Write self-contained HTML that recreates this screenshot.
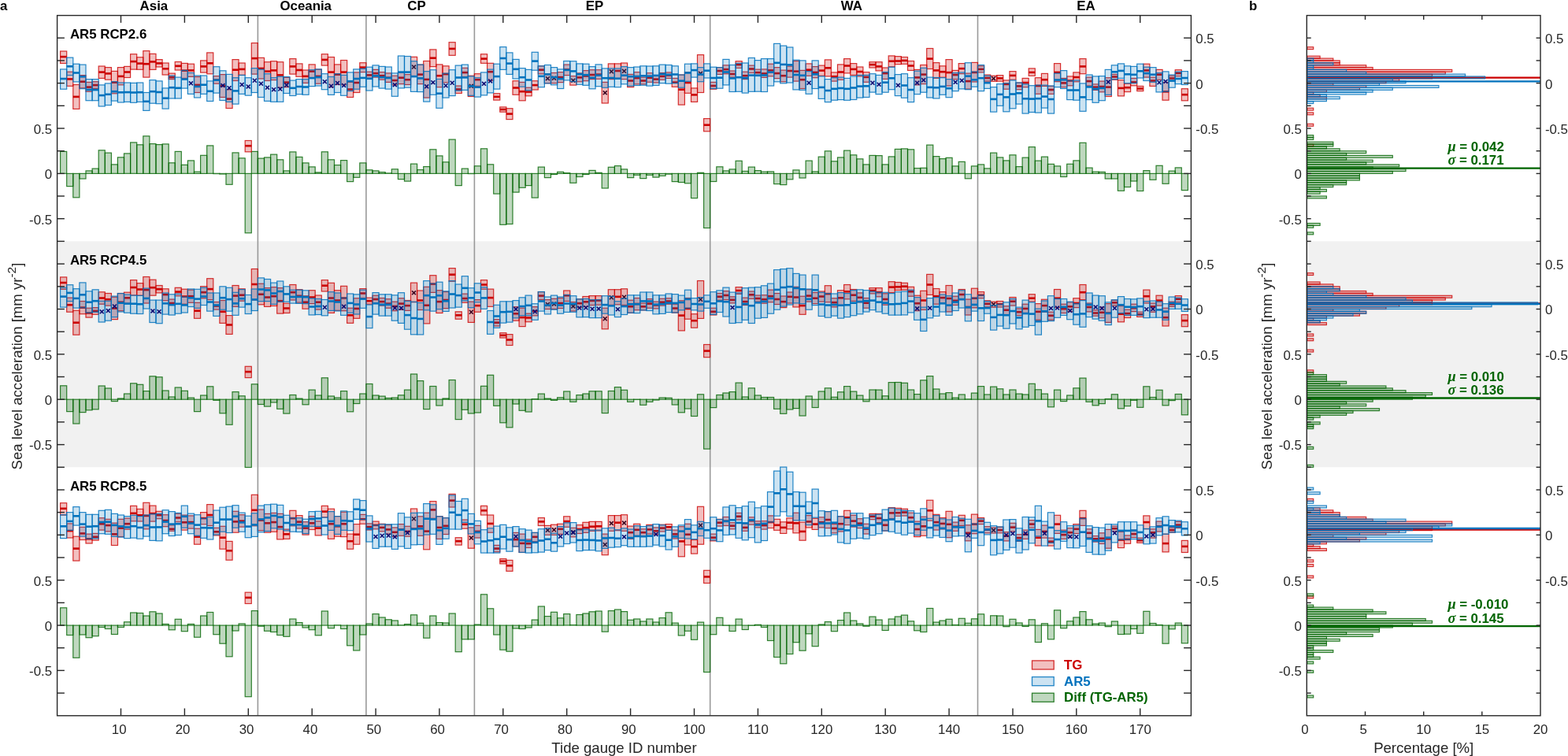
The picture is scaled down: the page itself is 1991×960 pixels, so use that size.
<!DOCTYPE html>
<html lang="en"><head><meta charset="utf-8"><title>Sea level acceleration: tide gauges vs AR5</title>
<style>html,body{margin:0;padding:0;background:#fff}body{width:1991px;height:960px;overflow:hidden}svg{display:block}</style>
</head><body>
<svg width="1991" height="960" viewBox="0 0 1991 960" font-family="'Liberation Sans', Arial, Helvetica, sans-serif">
<rect x="0" y="0" width="1991" height="960" fill="#fff"/>
<rect x="72.6" y="306.4" width="1439.8" height="286.9" fill="#f1f1f1"/>
<rect x="1659.3" y="306.4" width="294.7" height="286.9" fill="#f1f1f1"/>
<line x1="327.4" y1="19.6" x2="327.4" y2="908.8" stroke="#999999" stroke-width="1.6"/>
<line x1="464.9" y1="19.6" x2="464.9" y2="908.8" stroke="#999999" stroke-width="1.6"/>
<line x1="602.4" y1="19.6" x2="602.4" y2="908.8" stroke="#999999" stroke-width="1.6"/>
<line x1="901.7" y1="19.6" x2="901.7" y2="908.8" stroke="#999999" stroke-width="1.6"/>
<line x1="1241.5" y1="19.6" x2="1241.5" y2="908.8" stroke="#999999" stroke-width="1.6"/>
<g fill="rgba(0,100,0,0.25)" stroke="rgba(0,100,0,0.80)" stroke-width="1.2">
<rect x="76.6" y="192.4" width="8.1" height="27.9"/>
<rect x="84.7" y="220.4" width="8.1" height="16.2"/>
<rect x="92.8" y="220.4" width="8.1" height="30.4"/>
<rect x="100.9" y="220.4" width="8.1" height="6.6"/>
<rect x="109" y="216.9" width="8.1" height="3.4"/>
<rect x="117.1" y="214.1" width="8.1" height="6.3"/>
<rect x="125.2" y="190.8" width="8.1" height="29.6"/>
<rect x="133.3" y="194.1" width="8.1" height="26.3"/>
<rect x="141.4" y="208.9" width="8.1" height="11.4"/>
<rect x="149.4" y="199.8" width="8.1" height="20.6"/>
<rect x="157.5" y="194.9" width="8.1" height="25.4"/>
<rect x="165.6" y="180.9" width="8.1" height="39.4"/>
<rect x="173.7" y="183.8" width="8.1" height="36.6"/>
<rect x="181.8" y="172.8" width="8.1" height="47.6"/>
<rect x="189.9" y="182.6" width="8.1" height="37.8"/>
<rect x="198" y="183.6" width="8.1" height="36.8"/>
<rect x="206.1" y="182.9" width="8.1" height="37.4"/>
<rect x="214.2" y="206.8" width="8.1" height="13.6"/>
<rect x="222.2" y="192.4" width="8.1" height="27.9"/>
<rect x="230.3" y="209.4" width="8.1" height="10.9"/>
<rect x="238.4" y="203.9" width="8.1" height="16.4"/>
<rect x="246.5" y="218.1" width="8.1" height="2.3"/>
<rect x="254.6" y="197.3" width="8.1" height="23.1"/>
<rect x="262.7" y="184.9" width="8.1" height="35.4"/>
<rect x="270.8" y="220.3" width="8.1" height="0.3"/>
<rect x="278.9" y="220.4" width="8.1" height="0.6"/>
<rect x="287" y="220.4" width="8.1" height="13.9"/>
<rect x="295" y="193.9" width="8.1" height="26.4"/>
<rect x="303.1" y="200.8" width="8.1" height="19.6"/>
<rect x="311.2" y="220.4" width="8.1" height="75.4"/>
<rect x="319.3" y="192.4" width="8.1" height="27.9"/>
<rect x="327.4" y="201.1" width="8.1" height="19.3"/>
<rect x="335.5" y="199.9" width="8.1" height="20.4"/>
<rect x="343.6" y="196.1" width="8.1" height="24.3"/>
<rect x="351.7" y="202.8" width="8.1" height="17.6"/>
<rect x="359.8" y="216.9" width="8.1" height="3.4"/>
<rect x="367.8" y="192.9" width="8.1" height="27.4"/>
<rect x="375.9" y="199.4" width="8.1" height="20.9"/>
<rect x="384" y="206.9" width="8.1" height="13.4"/>
<rect x="392.1" y="211.9" width="8.1" height="8.4"/>
<rect x="400.2" y="218.9" width="8.1" height="1.4"/>
<rect x="408.3" y="192.8" width="8.1" height="27.6"/>
<rect x="416.4" y="202.8" width="8.1" height="17.6"/>
<rect x="424.5" y="209.6" width="8.1" height="10.8"/>
<rect x="432.6" y="203.6" width="8.1" height="16.8"/>
<rect x="440.6" y="220.4" width="8.1" height="10.2"/>
<rect x="448.7" y="220.4" width="8.1" height="4.9"/>
<rect x="456.8" y="206.9" width="8.1" height="13.4"/>
<rect x="464.9" y="215.8" width="8.1" height="4.6"/>
<rect x="473" y="216.9" width="8.1" height="3.4"/>
<rect x="481.1" y="218.6" width="8.1" height="1.8"/>
<rect x="489.2" y="219.9" width="8.1" height="0.4"/>
<rect x="497.3" y="214.8" width="8.1" height="5.6"/>
<rect x="505.4" y="220.4" width="8.1" height="7.2"/>
<rect x="513.5" y="220.4" width="8.1" height="9.7"/>
<rect x="521.5" y="208.1" width="8.1" height="12.3"/>
<rect x="529.6" y="215.6" width="8.1" height="4.8"/>
<rect x="537.7" y="211.6" width="8.1" height="8.8"/>
<rect x="545.8" y="189.8" width="8.1" height="30.6"/>
<rect x="553.9" y="197.9" width="8.1" height="22.4"/>
<rect x="562" y="205.8" width="8.1" height="14.6"/>
<rect x="570.1" y="177.1" width="8.1" height="43.3"/>
<rect x="578.2" y="220.4" width="8.1" height="15.2"/>
<rect x="586.3" y="214.1" width="8.1" height="6.3"/>
<rect x="594.3" y="220.3" width="8.1" height="0.3"/>
<rect x="602.4" y="210.8" width="8.1" height="9.6"/>
<rect x="610.5" y="188.8" width="8.1" height="31.6"/>
<rect x="618.6" y="208.8" width="8.1" height="11.6"/>
<rect x="626.7" y="220.4" width="8.1" height="25.7"/>
<rect x="634.8" y="220.4" width="8.1" height="64.9"/>
<rect x="642.9" y="220.4" width="8.1" height="64.1"/>
<rect x="651" y="220.4" width="8.1" height="23.7"/>
<rect x="659.1" y="220.4" width="8.1" height="17.9"/>
<rect x="667.1" y="220.4" width="8.1" height="15.2"/>
<rect x="675.2" y="220.4" width="8.1" height="30.7"/>
<rect x="683.3" y="212.1" width="8.1" height="8.3"/>
<rect x="691.4" y="220.4" width="8.1" height="5.2"/>
<rect x="699.5" y="220.4" width="8.1" height="1.1"/>
<rect x="707.6" y="218.3" width="8.1" height="2.1"/>
<rect x="715.7" y="219.6" width="8.1" height="0.8"/>
<rect x="723.8" y="220.4" width="8.1" height="11.9"/>
<rect x="731.9" y="220.4" width="8.1" height="4.1"/>
<rect x="739.9" y="220.4" width="8.1" height="1.1"/>
<rect x="748" y="216.4" width="8.1" height="3.9"/>
<rect x="756.1" y="219.3" width="8.1" height="1.1"/>
<rect x="764.2" y="220.4" width="8.1" height="18.6"/>
<rect x="772.3" y="212.3" width="8.1" height="8.1"/>
<rect x="780.4" y="210.6" width="8.1" height="9.8"/>
<rect x="788.5" y="214.9" width="8.1" height="5.4"/>
<rect x="796.6" y="220.4" width="8.1" height="5.2"/>
<rect x="804.7" y="220.4" width="8.1" height="1.9"/>
<rect x="812.7" y="220.4" width="8.1" height="6.2"/>
<rect x="820.8" y="220.4" width="8.1" height="1.9"/>
<rect x="828.9" y="220.4" width="8.1" height="4.7"/>
<rect x="837" y="220.4" width="8.1" height="2.9"/>
<rect x="845.1" y="220.4" width="8.1" height="0.7"/>
<rect x="853.2" y="220.4" width="8.1" height="10.2"/>
<rect x="861.3" y="220.4" width="8.1" height="11.1"/>
<rect x="869.4" y="220.4" width="8.1" height="12.4"/>
<rect x="877.5" y="220.4" width="8.1" height="31.2"/>
<rect x="885.5" y="219.3" width="8.1" height="1.1"/>
<rect x="893.6" y="220.4" width="8.1" height="69.1"/>
<rect x="901.7" y="220.4" width="8.1" height="10.1"/>
<rect x="909.8" y="211.8" width="8.1" height="8.6"/>
<rect x="917.9" y="216.9" width="8.1" height="3.4"/>
<rect x="926" y="214.9" width="8.1" height="5.4"/>
<rect x="934.1" y="204.3" width="8.1" height="16.1"/>
<rect x="942.2" y="217.4" width="8.1" height="2.9"/>
<rect x="950.3" y="212.1" width="8.1" height="8.3"/>
<rect x="958.3" y="216.6" width="8.1" height="3.8"/>
<rect x="966.4" y="218.1" width="8.1" height="2.3"/>
<rect x="974.5" y="217.9" width="8.1" height="2.4"/>
<rect x="982.6" y="220.4" width="8.1" height="13.2"/>
<rect x="990.7" y="220.4" width="8.1" height="14.2"/>
<rect x="998.8" y="220.4" width="8.1" height="7.4"/>
<rect x="1006.9" y="215.9" width="8.1" height="4.4"/>
<rect x="1015" y="220.4" width="8.1" height="5.6"/>
<rect x="1023.1" y="204.1" width="8.1" height="16.3"/>
<rect x="1031.1" y="217.9" width="8.1" height="2.4"/>
<rect x="1039.2" y="199.1" width="8.1" height="21.3"/>
<rect x="1047.3" y="191.8" width="8.1" height="28.6"/>
<rect x="1055.4" y="204.8" width="8.1" height="15.6"/>
<rect x="1063.5" y="199.9" width="8.1" height="20.4"/>
<rect x="1071.6" y="191.1" width="8.1" height="29.3"/>
<rect x="1079.7" y="196.8" width="8.1" height="23.6"/>
<rect x="1087.8" y="201.8" width="8.1" height="18.6"/>
<rect x="1095.9" y="208.9" width="8.1" height="11.4"/>
<rect x="1103.9" y="197.4" width="8.1" height="22.9"/>
<rect x="1112" y="197.6" width="8.1" height="22.8"/>
<rect x="1120.1" y="208.9" width="8.1" height="11.4"/>
<rect x="1128.2" y="198.9" width="8.1" height="21.4"/>
<rect x="1136.3" y="189.4" width="8.1" height="30.9"/>
<rect x="1144.4" y="188.9" width="8.1" height="31.4"/>
<rect x="1152.5" y="189.8" width="8.1" height="30.6"/>
<rect x="1160.6" y="213.6" width="8.1" height="6.8"/>
<rect x="1168.7" y="213.3" width="8.1" height="7.1"/>
<rect x="1176.7" y="184.1" width="8.1" height="36.3"/>
<rect x="1184.8" y="198.6" width="8.1" height="21.8"/>
<rect x="1192.9" y="201.6" width="8.1" height="18.8"/>
<rect x="1201" y="200.3" width="8.1" height="20.1"/>
<rect x="1209.1" y="210.9" width="8.1" height="9.4"/>
<rect x="1217.2" y="205.4" width="8.1" height="14.9"/>
<rect x="1225.3" y="220.4" width="8.1" height="6.4"/>
<rect x="1233.4" y="210.9" width="8.1" height="9.4"/>
<rect x="1241.5" y="208.9" width="8.1" height="11.4"/>
<rect x="1249.5" y="213.9" width="8.1" height="6.4"/>
<rect x="1257.6" y="194.1" width="8.1" height="26.3"/>
<rect x="1265.7" y="199.9" width="8.1" height="20.4"/>
<rect x="1273.8" y="203.9" width="8.1" height="16.4"/>
<rect x="1281.9" y="196.8" width="8.1" height="23.6"/>
<rect x="1290" y="211.6" width="8.1" height="8.8"/>
<rect x="1298.1" y="200.1" width="8.1" height="20.3"/>
<rect x="1306.2" y="186.6" width="8.1" height="33.8"/>
<rect x="1314.3" y="204.1" width="8.1" height="16.3"/>
<rect x="1322.4" y="199.1" width="8.1" height="21.3"/>
<rect x="1330.4" y="208.4" width="8.1" height="11.9"/>
<rect x="1338.5" y="210.9" width="8.1" height="9.4"/>
<rect x="1346.6" y="220.4" width="8.1" height="4.1"/>
<rect x="1354.7" y="208.3" width="8.1" height="12.1"/>
<rect x="1362.8" y="203.9" width="8.1" height="16.4"/>
<rect x="1370.9" y="181.3" width="8.1" height="39.1"/>
<rect x="1379" y="213.1" width="8.1" height="7.3"/>
<rect x="1387.1" y="218.1" width="8.1" height="2.3"/>
<rect x="1395.2" y="218.4" width="8.1" height="1.9"/>
<rect x="1403.2" y="220.4" width="8.1" height="6.6"/>
<rect x="1411.3" y="220.4" width="8.1" height="6.6"/>
<rect x="1419.4" y="220.4" width="8.1" height="21.9"/>
<rect x="1427.5" y="220.4" width="8.1" height="17.1"/>
<rect x="1435.6" y="220.4" width="8.1" height="9.6"/>
<rect x="1443.7" y="220.4" width="8.1" height="22.1"/>
<rect x="1451.8" y="216.6" width="8.1" height="3.8"/>
<rect x="1459.9" y="220.4" width="8.1" height="7.9"/>
<rect x="1468" y="210.3" width="8.1" height="10.1"/>
<rect x="1476" y="220.4" width="8.1" height="12.9"/>
<rect x="1484.1" y="217.1" width="8.1" height="3.3"/>
<rect x="1492.2" y="212.9" width="8.1" height="7.4"/>
<rect x="1500.3" y="220.4" width="8.1" height="21.2"/>
</g>
<g fill="rgba(204,0,0,0.25)" stroke="rgba(204,0,0,0.80)" stroke-width="1.2">
<rect x="76.6" y="65" width="8.1" height="15.4"/>
<rect x="84.7" y="91.2" width="8.1" height="18.1"/>
<rect x="92.8" y="107.5" width="8.1" height="30.9"/>
<rect x="100.9" y="95.6" width="8.1" height="16.2"/>
<rect x="109" y="104.4" width="8.1" height="11.9"/>
<rect x="117.1" y="103.7" width="8.1" height="8.7"/>
<rect x="125.2" y="84" width="8.1" height="15.4"/>
<rect x="133.3" y="85.6" width="8.1" height="15.6"/>
<rect x="141.4" y="90.4" width="8.1" height="28.4"/>
<rect x="149.4" y="85.6" width="8.1" height="22.2"/>
<rect x="157.5" y="84.4" width="8.1" height="14.1"/>
<rect x="165.6" y="68.7" width="8.1" height="19.4"/>
<rect x="173.7" y="72.7" width="8.1" height="15.6"/>
<rect x="181.8" y="64.6" width="8.1" height="33.5"/>
<rect x="189.9" y="68.4" width="8.1" height="20"/>
<rect x="198" y="75.6" width="8.1" height="9.4"/>
<rect x="206.1" y="80" width="8.1" height="15"/>
<rect x="214.2" y="93.1" width="8.1" height="7.5"/>
<rect x="222.2" y="78.5" width="8.1" height="10.5"/>
<rect x="230.3" y="80.4" width="8.1" height="19"/>
<rect x="238.4" y="81.2" width="8.1" height="16.2"/>
<rect x="246.5" y="97.5" width="8.1" height="20"/>
<rect x="254.6" y="76.9" width="8.1" height="15.2"/>
<rect x="262.7" y="66.9" width="8.1" height="26.9"/>
<rect x="270.8" y="96.6" width="8.1" height="9.6"/>
<rect x="278.9" y="94.6" width="8.1" height="28.9"/>
<rect x="287" y="113.7" width="8.1" height="23.8"/>
<rect x="295" y="75.6" width="8.1" height="26.9"/>
<rect x="303.1" y="80" width="8.1" height="15.4"/>
<rect x="311.2" y="178.5" width="8.1" height="14.3"/>
<rect x="319.3" y="54.6" width="8.1" height="39.5"/>
<rect x="327.4" y="73.4" width="8.1" height="26.6"/>
<rect x="335.5" y="78.7" width="8.1" height="23.8"/>
<rect x="343.6" y="77.7" width="8.1" height="23.9"/>
<rect x="351.7" y="78.7" width="8.1" height="32.5"/>
<rect x="359.8" y="98.4" width="8.1" height="12.3"/>
<rect x="367.8" y="74.6" width="8.1" height="19.5"/>
<rect x="375.9" y="80.9" width="8.1" height="16.4"/>
<rect x="384" y="89" width="8.1" height="16.4"/>
<rect x="392.1" y="81.9" width="8.1" height="16.9"/>
<rect x="400.2" y="88.1" width="8.1" height="18.1"/>
<rect x="408.3" y="68.7" width="8.1" height="14.4"/>
<rect x="416.4" y="72.5" width="8.1" height="38.1"/>
<rect x="424.5" y="81.9" width="8.1" height="25.6"/>
<rect x="432.6" y="76.5" width="8.1" height="31.4"/>
<rect x="440.6" y="104.4" width="8.1" height="19.1"/>
<rect x="448.7" y="91.9" width="8.1" height="25.6"/>
<rect x="456.8" y="79.7" width="8.1" height="11.9"/>
<rect x="464.9" y="91.2" width="8.1" height="8.1"/>
<rect x="473" y="88.4" width="8.1" height="9.7"/>
<rect x="481.1" y="91.6" width="8.1" height="9.6"/>
<rect x="489.2" y="92.9" width="8.1" height="11.5"/>
<rect x="497.3" y="96.2" width="8.1" height="11.6"/>
<rect x="505.4" y="91.9" width="8.1" height="14.7"/>
<rect x="513.5" y="94.6" width="8.1" height="12.9"/>
<rect x="521.5" y="72.3" width="8.1" height="24.6"/>
<rect x="529.6" y="82.1" width="8.1" height="24.5"/>
<rect x="537.7" y="77.5" width="8.1" height="46.6"/>
<rect x="545.8" y="62.9" width="8.1" height="21.7"/>
<rect x="553.9" y="81.9" width="8.1" height="28.8"/>
<rect x="562" y="83.8" width="8.1" height="21"/>
<rect x="570.1" y="53.7" width="8.1" height="16.6"/>
<rect x="578.2" y="109" width="8.1" height="9.4"/>
<rect x="586.3" y="86.3" width="8.1" height="11.2"/>
<rect x="594.3" y="96.2" width="8.1" height="26.3"/>
<rect x="602.4" y="93.7" width="8.1" height="15.6"/>
<rect x="610.5" y="68.7" width="8.1" height="11.6"/>
<rect x="618.6" y="80.3" width="8.1" height="22.2"/>
<rect x="626.7" y="118.7" width="8.1" height="8.4"/>
<rect x="634.8" y="135.9" width="8.1" height="6.3"/>
<rect x="642.9" y="137.7" width="8.1" height="13.9"/>
<rect x="651" y="102.7" width="8.1" height="17.6"/>
<rect x="659.1" y="104.4" width="8.1" height="23.4"/>
<rect x="667.1" y="111.2" width="8.1" height="10.6"/>
<rect x="675.2" y="102.7" width="8.1" height="11.3"/>
<rect x="683.3" y="83.8" width="8.1" height="10"/>
<rect x="691.4" y="93.7" width="8.1" height="11.9"/>
<rect x="699.5" y="92.5" width="8.1" height="13.1"/>
<rect x="707.6" y="91.6" width="8.1" height="13"/>
<rect x="715.7" y="82.1" width="8.1" height="13.5"/>
<rect x="723.8" y="96.6" width="8.1" height="11.5"/>
<rect x="731.9" y="92.9" width="8.1" height="10.9"/>
<rect x="739.9" y="89.6" width="8.1" height="13.1"/>
<rect x="748" y="88.7" width="8.1" height="11.9"/>
<rect x="756.1" y="88.7" width="8.1" height="11.6"/>
<rect x="764.2" y="104.4" width="8.1" height="26.6"/>
<rect x="772.3" y="80.9" width="8.1" height="19.7"/>
<rect x="780.4" y="80.9" width="8.1" height="19.1"/>
<rect x="788.5" y="80" width="8.1" height="20.6"/>
<rect x="796.6" y="94.4" width="8.1" height="16.2"/>
<rect x="804.7" y="91.6" width="8.1" height="15.2"/>
<rect x="812.7" y="98.1" width="8.1" height="8.8"/>
<rect x="820.8" y="92.7" width="8.1" height="11.6"/>
<rect x="828.9" y="96.2" width="8.1" height="8.8"/>
<rect x="837" y="92.5" width="8.1" height="8.8"/>
<rect x="845.1" y="91.9" width="8.1" height="7.5"/>
<rect x="853.2" y="99.4" width="8.1" height="10.9"/>
<rect x="861.3" y="95" width="8.1" height="38.1"/>
<rect x="869.4" y="91.6" width="8.1" height="26.7"/>
<rect x="877.5" y="111.9" width="8.1" height="17.5"/>
<rect x="885.5" y="69.6" width="8.1" height="47.9"/>
<rect x="893.6" y="150.6" width="8.1" height="16.2"/>
<rect x="901.7" y="104.4" width="8.1" height="8.8"/>
<rect x="909.8" y="85.6" width="8.1" height="8.8"/>
<rect x="917.9" y="82.8" width="8.1" height="11"/>
<rect x="926" y="90" width="8.1" height="8.1"/>
<rect x="934.1" y="77.7" width="8.1" height="8.7"/>
<rect x="942.2" y="91.2" width="8.1" height="9.4"/>
<rect x="950.3" y="83.1" width="8.1" height="9.4"/>
<rect x="958.3" y="88.1" width="8.1" height="8.1"/>
<rect x="966.4" y="87.9" width="8.1" height="10.5"/>
<rect x="974.5" y="81.2" width="8.1" height="15.6"/>
<rect x="982.6" y="85.6" width="8.1" height="14"/>
<rect x="990.7" y="89.1" width="8.1" height="14.6"/>
<rect x="998.8" y="84.1" width="8.1" height="14"/>
<rect x="1006.9" y="77.5" width="8.1" height="25.6"/>
<rect x="1015" y="89.4" width="8.1" height="23.1"/>
<rect x="1023.1" y="80.9" width="8.1" height="15.4"/>
<rect x="1031.1" y="84.6" width="8.1" height="14.1"/>
<rect x="1039.2" y="83.1" width="8.1" height="13.1"/>
<rect x="1047.3" y="75.9" width="8.1" height="21"/>
<rect x="1055.4" y="91.9" width="8.1" height="11.2"/>
<rect x="1063.5" y="81.9" width="8.1" height="19.4"/>
<rect x="1071.6" y="74.6" width="8.1" height="18.3"/>
<rect x="1079.7" y="80.6" width="8.1" height="14.8"/>
<rect x="1087.8" y="85" width="8.1" height="11.9"/>
<rect x="1095.9" y="91.6" width="8.1" height="12.7"/>
<rect x="1103.9" y="78.7" width="8.1" height="7.3"/>
<rect x="1112" y="78.7" width="8.1" height="11.2"/>
<rect x="1120.1" y="86" width="8.1" height="14.4"/>
<rect x="1128.2" y="70.9" width="8.1" height="13.9"/>
<rect x="1136.3" y="71.6" width="8.1" height="10"/>
<rect x="1144.4" y="72.5" width="8.1" height="8.8"/>
<rect x="1152.5" y="77.5" width="8.1" height="11.9"/>
<rect x="1160.6" y="88.4" width="8.1" height="19.5"/>
<rect x="1168.7" y="82.5" width="8.1" height="24.1"/>
<rect x="1176.7" y="61.5" width="8.1" height="26"/>
<rect x="1184.8" y="79.6" width="8.1" height="19.7"/>
<rect x="1192.9" y="83.8" width="8.1" height="14.4"/>
<rect x="1201" y="75.6" width="8.1" height="33.4"/>
<rect x="1209.1" y="89.4" width="8.1" height="11.2"/>
<rect x="1217.2" y="80.6" width="8.1" height="13.1"/>
<rect x="1225.3" y="93.1" width="8.1" height="20"/>
<rect x="1233.4" y="79.4" width="8.1" height="24.6"/>
<rect x="1241.5" y="83.8" width="8.1" height="8.1"/>
<rect x="1249.5" y="95" width="8.1" height="8.1"/>
<rect x="1257.6" y="96.2" width="8.1" height="7.1"/>
<rect x="1265.7" y="95.6" width="8.1" height="7.5"/>
<rect x="1273.8" y="101.9" width="8.1" height="11.3"/>
<rect x="1281.9" y="90.6" width="8.1" height="10.6"/>
<rect x="1290" y="105" width="8.1" height="8.7"/>
<rect x="1298.1" y="99.4" width="8.1" height="11.3"/>
<rect x="1306.2" y="86.9" width="8.1" height="9.4"/>
<rect x="1314.3" y="98.7" width="8.1" height="20.6"/>
<rect x="1322.4" y="93.4" width="8.1" height="16"/>
<rect x="1330.4" y="109.4" width="8.1" height="10"/>
<rect x="1338.5" y="80.6" width="8.1" height="23.1"/>
<rect x="1346.6" y="99.4" width="8.1" height="11.3"/>
<rect x="1354.7" y="96.9" width="8.1" height="11.9"/>
<rect x="1362.8" y="91.9" width="8.1" height="11.9"/>
<rect x="1370.9" y="74.6" width="8.1" height="19.1"/>
<rect x="1379" y="98.1" width="8.1" height="10.9"/>
<rect x="1387.1" y="106.9" width="8.1" height="7.5"/>
<rect x="1395.2" y="103.1" width="8.1" height="13.7"/>
<rect x="1403.2" y="98.7" width="8.1" height="23.8"/>
<rect x="1411.3" y="94.4" width="8.1" height="6.9"/>
<rect x="1419.4" y="101.6" width="8.1" height="20.3"/>
<rect x="1427.5" y="106.2" width="8.1" height="10.4"/>
<rect x="1435.6" y="99.4" width="8.1" height="9.4"/>
<rect x="1443.7" y="109.4" width="8.1" height="6.2"/>
<rect x="1451.8" y="81.2" width="8.1" height="16.9"/>
<rect x="1459.9" y="98.1" width="8.1" height="11.3"/>
<rect x="1468" y="88.4" width="8.1" height="12.9"/>
<rect x="1476" y="104.4" width="8.1" height="22.8"/>
<rect x="1484.1" y="96.2" width="8.1" height="6.3"/>
<rect x="1492.2" y="88.7" width="8.1" height="8.1"/>
<rect x="1500.3" y="112.7" width="8.1" height="15.1"/>
</g>
<g stroke="rgb(204,0,0)" stroke-width="2.6">
<line x1="76.6" y1="72.1" x2="84.7" y2="72.1"/>
<line x1="84.7" y1="100.4" x2="92.8" y2="100.4"/>
<line x1="92.8" y1="122.9" x2="100.9" y2="122.9"/>
<line x1="100.9" y1="103.7" x2="109" y2="103.7"/>
<line x1="109" y1="110.6" x2="117.1" y2="110.6"/>
<line x1="117.1" y1="108.1" x2="125.2" y2="108.1"/>
<line x1="125.2" y1="91.6" x2="133.3" y2="91.6"/>
<line x1="133.3" y1="93.4" x2="141.4" y2="93.4"/>
<line x1="141.4" y1="104.6" x2="149.4" y2="104.6"/>
<line x1="149.4" y1="96.9" x2="157.5" y2="96.9"/>
<line x1="157.5" y1="91.5" x2="165.6" y2="91.5"/>
<line x1="165.6" y1="78.1" x2="173.7" y2="78.1"/>
<line x1="173.7" y1="80.6" x2="181.8" y2="80.6"/>
<line x1="181.8" y1="81.2" x2="189.9" y2="81.2"/>
<line x1="189.9" y1="78.4" x2="198" y2="78.4"/>
<line x1="198" y1="80.4" x2="206.1" y2="80.4"/>
<line x1="206.1" y1="87.3" x2="214.2" y2="87.3"/>
<line x1="214.2" y1="98.1" x2="222.2" y2="98.1"/>
<line x1="222.2" y1="83.8" x2="230.3" y2="83.8"/>
<line x1="230.3" y1="89.6" x2="238.4" y2="89.6"/>
<line x1="238.4" y1="89.4" x2="246.5" y2="89.4"/>
<line x1="246.5" y1="107.9" x2="254.6" y2="107.9"/>
<line x1="254.6" y1="84.4" x2="262.7" y2="84.4"/>
<line x1="262.7" y1="80.3" x2="270.8" y2="80.3"/>
<line x1="270.8" y1="101.6" x2="278.9" y2="101.6"/>
<line x1="278.9" y1="109" x2="287" y2="109"/>
<line x1="287" y1="125.6" x2="295" y2="125.6"/>
<line x1="295" y1="88.7" x2="303.1" y2="88.7"/>
<line x1="303.1" y1="87.9" x2="311.2" y2="87.9"/>
<line x1="311.2" y1="185.2" x2="319.3" y2="185.2"/>
<line x1="319.3" y1="74.1" x2="327.4" y2="74.1"/>
<line x1="327.4" y1="86.9" x2="335.5" y2="86.9"/>
<line x1="335.5" y1="90.6" x2="343.6" y2="90.6"/>
<line x1="343.6" y1="89.4" x2="351.7" y2="89.4"/>
<line x1="351.7" y1="95.4" x2="359.8" y2="95.4"/>
<line x1="359.8" y1="104.6" x2="367.8" y2="104.6"/>
<line x1="367.8" y1="84.4" x2="375.9" y2="84.4"/>
<line x1="375.9" y1="89" x2="384" y2="89"/>
<line x1="384" y1="96.9" x2="392.1" y2="96.9"/>
<line x1="392.1" y1="90.6" x2="400.2" y2="90.6"/>
<line x1="400.2" y1="96.9" x2="408.3" y2="96.9"/>
<line x1="408.3" y1="75.9" x2="416.4" y2="75.9"/>
<line x1="416.4" y1="91.6" x2="424.5" y2="91.6"/>
<line x1="424.5" y1="94.6" x2="432.6" y2="94.6"/>
<line x1="432.6" y1="91.6" x2="440.6" y2="91.6"/>
<line x1="440.6" y1="113.5" x2="448.7" y2="113.5"/>
<line x1="448.7" y1="105" x2="456.8" y2="105"/>
<line x1="456.8" y1="85.6" x2="464.9" y2="85.6"/>
<line x1="464.9" y1="95.4" x2="473" y2="95.4"/>
<line x1="473" y1="93.1" x2="481.1" y2="93.1"/>
<line x1="481.1" y1="96.2" x2="489.2" y2="96.2"/>
<line x1="489.2" y1="98.7" x2="497.3" y2="98.7"/>
<line x1="497.3" y1="102.1" x2="505.4" y2="102.1"/>
<line x1="505.4" y1="98.7" x2="513.5" y2="98.7"/>
<line x1="513.5" y1="101.2" x2="521.5" y2="101.2"/>
<line x1="529.6" y1="94.6" x2="537.7" y2="94.6"/>
<line x1="537.7" y1="100.9" x2="545.8" y2="100.9"/>
<line x1="545.8" y1="73.7" x2="553.9" y2="73.7"/>
<line x1="553.9" y1="96.2" x2="562" y2="96.2"/>
<line x1="562" y1="94.1" x2="570.1" y2="94.1"/>
<line x1="570.1" y1="61.9" x2="578.2" y2="61.9"/>
<line x1="578.2" y1="113.5" x2="586.3" y2="113.5"/>
<line x1="586.3" y1="92.1" x2="594.3" y2="92.1"/>
<line x1="602.4" y1="101.2" x2="610.5" y2="101.2"/>
<line x1="610.5" y1="74.6" x2="618.6" y2="74.6"/>
<line x1="618.6" y1="91.2" x2="626.7" y2="91.2"/>
<line x1="626.7" y1="122.9" x2="634.8" y2="122.9"/>
<line x1="634.8" y1="139" x2="642.9" y2="139"/>
<line x1="642.9" y1="144.6" x2="651" y2="144.6"/>
<line x1="651" y1="111.5" x2="659.1" y2="111.5"/>
<line x1="659.1" y1="116.2" x2="667.1" y2="116.2"/>
<line x1="667.1" y1="116.6" x2="675.2" y2="116.6"/>
<line x1="675.2" y1="108.1" x2="683.3" y2="108.1"/>
<line x1="683.3" y1="88.7" x2="691.4" y2="88.7"/>
<line x1="707.6" y1="98.1" x2="715.7" y2="98.1"/>
<line x1="715.7" y1="88.4" x2="723.8" y2="88.4"/>
<line x1="731.9" y1="98.4" x2="739.9" y2="98.4"/>
<line x1="739.9" y1="96.5" x2="748" y2="96.5"/>
<line x1="748" y1="95" x2="756.1" y2="95"/>
<line x1="756.1" y1="94.6" x2="764.2" y2="94.6"/>
<line x1="780.4" y1="90" x2="788.5" y2="90"/>
<line x1="796.6" y1="102.5" x2="804.7" y2="102.5"/>
<line x1="804.7" y1="99.1" x2="812.7" y2="99.1"/>
<line x1="812.7" y1="102.5" x2="820.8" y2="102.5"/>
<line x1="820.8" y1="98.7" x2="828.9" y2="98.7"/>
<line x1="828.9" y1="100.6" x2="837" y2="100.6"/>
<line x1="837" y1="96.9" x2="845.1" y2="96.9"/>
<line x1="845.1" y1="95.6" x2="853.2" y2="95.6"/>
<line x1="853.2" y1="104.6" x2="861.3" y2="104.6"/>
<line x1="861.3" y1="113.7" x2="869.4" y2="113.7"/>
<line x1="869.4" y1="105" x2="877.5" y2="105"/>
<line x1="877.5" y1="120.4" x2="885.5" y2="120.4"/>
<line x1="893.6" y1="158.7" x2="901.7" y2="158.7"/>
<line x1="901.7" y1="109" x2="909.8" y2="109"/>
<line x1="909.8" y1="90" x2="917.9" y2="90"/>
<line x1="917.9" y1="88.1" x2="926" y2="88.1"/>
<line x1="926" y1="94" x2="934.1" y2="94"/>
<line x1="934.1" y1="82.1" x2="942.2" y2="82.1"/>
<line x1="942.2" y1="96.2" x2="950.3" y2="96.2"/>
<line x1="950.3" y1="87.5" x2="958.3" y2="87.5"/>
<line x1="958.3" y1="92.1" x2="966.4" y2="92.1"/>
<line x1="966.4" y1="93.4" x2="974.5" y2="93.4"/>
<line x1="974.5" y1="89.4" x2="982.6" y2="89.4"/>
<line x1="982.6" y1="93.1" x2="990.7" y2="93.1"/>
<line x1="990.7" y1="96.2" x2="998.8" y2="96.2"/>
<line x1="998.8" y1="90" x2="1006.9" y2="90"/>
<line x1="1006.9" y1="90.6" x2="1015" y2="90.6"/>
<line x1="1015" y1="101.2" x2="1023.1" y2="101.2"/>
<line x1="1023.1" y1="88.7" x2="1031.1" y2="88.7"/>
<line x1="1031.1" y1="91.9" x2="1039.2" y2="91.9"/>
<line x1="1039.2" y1="89.6" x2="1047.3" y2="89.6"/>
<line x1="1047.3" y1="86.3" x2="1055.4" y2="86.3"/>
<line x1="1055.4" y1="97.2" x2="1063.5" y2="97.2"/>
<line x1="1063.5" y1="91.5" x2="1071.6" y2="91.5"/>
<line x1="1071.6" y1="83.5" x2="1079.7" y2="83.5"/>
<line x1="1079.7" y1="87.9" x2="1087.8" y2="87.9"/>
<line x1="1087.8" y1="91" x2="1095.9" y2="91"/>
<line x1="1095.9" y1="97.9" x2="1103.9" y2="97.9"/>
<line x1="1103.9" y1="82.1" x2="1112" y2="82.1"/>
<line x1="1112" y1="84.4" x2="1120.1" y2="84.4"/>
<line x1="1120.1" y1="93.1" x2="1128.2" y2="93.1"/>
<line x1="1128.2" y1="77.7" x2="1136.3" y2="77.7"/>
<line x1="1136.3" y1="77.5" x2="1144.4" y2="77.5"/>
<line x1="1144.4" y1="76.9" x2="1152.5" y2="76.9"/>
<line x1="1152.5" y1="83.5" x2="1160.6" y2="83.5"/>
<line x1="1160.6" y1="98.4" x2="1168.7" y2="98.4"/>
<line x1="1168.7" y1="94.6" x2="1176.7" y2="94.6"/>
<line x1="1176.7" y1="74.6" x2="1184.8" y2="74.6"/>
<line x1="1184.8" y1="89.4" x2="1192.9" y2="89.4"/>
<line x1="1192.9" y1="91.2" x2="1201" y2="91.2"/>
<line x1="1201" y1="92.1" x2="1209.1" y2="92.1"/>
<line x1="1209.1" y1="95" x2="1217.2" y2="95"/>
<line x1="1217.2" y1="87.1" x2="1225.3" y2="87.1"/>
<line x1="1225.3" y1="103.1" x2="1233.4" y2="103.1"/>
<line x1="1233.4" y1="91.9" x2="1241.5" y2="91.9"/>
<line x1="1241.5" y1="87.9" x2="1249.5" y2="87.9"/>
<line x1="1249.5" y1="99" x2="1257.6" y2="99"/>
<line x1="1265.7" y1="99.4" x2="1273.8" y2="99.4"/>
<line x1="1273.8" y1="106.9" x2="1281.9" y2="106.9"/>
<line x1="1281.9" y1="95.9" x2="1290" y2="95.9"/>
<line x1="1290" y1="109.4" x2="1298.1" y2="109.4"/>
<line x1="1298.1" y1="105" x2="1306.2" y2="105"/>
<line x1="1306.2" y1="91.9" x2="1314.3" y2="91.9"/>
<line x1="1314.3" y1="109" x2="1322.4" y2="109"/>
<line x1="1322.4" y1="101.2" x2="1330.4" y2="101.2"/>
<line x1="1330.4" y1="114" x2="1338.5" y2="114"/>
<line x1="1338.5" y1="91.9" x2="1346.6" y2="91.9"/>
<line x1="1346.6" y1="105.4" x2="1354.7" y2="105.4"/>
<line x1="1354.7" y1="102.5" x2="1362.8" y2="102.5"/>
<line x1="1362.8" y1="98.1" x2="1370.9" y2="98.1"/>
<line x1="1370.9" y1="84.4" x2="1379" y2="84.4"/>
<line x1="1379" y1="103.1" x2="1387.1" y2="103.1"/>
<line x1="1387.1" y1="110.6" x2="1395.2" y2="110.6"/>
<line x1="1395.2" y1="110" x2="1403.2" y2="110"/>
<line x1="1403.2" y1="110.6" x2="1411.3" y2="110.6"/>
<line x1="1411.3" y1="97.5" x2="1419.4" y2="97.5"/>
<line x1="1419.4" y1="111.9" x2="1427.5" y2="111.9"/>
<line x1="1427.5" y1="111.2" x2="1435.6" y2="111.2"/>
<line x1="1435.6" y1="104.4" x2="1443.7" y2="104.4"/>
<line x1="1443.7" y1="112.5" x2="1451.8" y2="112.5"/>
<line x1="1451.8" y1="89.4" x2="1459.9" y2="89.4"/>
<line x1="1459.9" y1="102.5" x2="1468" y2="102.5"/>
<line x1="1468" y1="94.7" x2="1476" y2="94.7"/>
<line x1="1476" y1="116.4" x2="1484.1" y2="116.4"/>
<line x1="1484.1" y1="99.4" x2="1492.2" y2="99.4"/>
<line x1="1492.2" y1="92.9" x2="1500.3" y2="92.9"/>
<line x1="1500.3" y1="120.2" x2="1508.4" y2="120.2"/>
</g>
<g stroke="#3c0420" stroke-width="1.6" fill="none">
<line x1="523.1" y1="82.6" x2="528" y2="87.5"/><line x1="523.1" y1="87.5" x2="528" y2="82.6"/>
<line x1="595.9" y1="106.9" x2="600.8" y2="111.8"/><line x1="595.9" y1="111.8" x2="600.8" y2="106.9"/>
<line x1="693" y1="97.2" x2="697.9" y2="102.1"/><line x1="693" y1="102.1" x2="697.9" y2="97.2"/>
<line x1="701.1" y1="96.7" x2="706" y2="101.6"/><line x1="701.1" y1="101.6" x2="706" y2="96.7"/>
<line x1="725.4" y1="99.7" x2="730.3" y2="104.6"/><line x1="725.4" y1="104.6" x2="730.3" y2="99.7"/>
<line x1="765.8" y1="115.4" x2="770.7" y2="120.3"/><line x1="765.8" y1="120.3" x2="770.7" y2="115.4"/>
<line x1="773.9" y1="88.4" x2="778.8" y2="93.3"/><line x1="773.9" y1="93.3" x2="778.8" y2="88.4"/>
<line x1="790.1" y1="87.9" x2="795" y2="92.8"/><line x1="790.1" y1="92.8" x2="795" y2="87.9"/>
<line x1="887.1" y1="90.9" x2="892" y2="95.8"/><line x1="887.1" y1="95.8" x2="892" y2="90.9"/>
<line x1="1259.2" y1="97.2" x2="1264.1" y2="102.1"/><line x1="1259.2" y1="102.1" x2="1264.1" y2="97.2"/>
</g>
<g fill="rgba(0,114,189,0.20)" stroke="rgba(0,114,189,0.85)" stroke-width="1.2">
<rect x="76.6" y="87.9" width="8.1" height="25.3"/>
<rect x="84.7" y="73.1" width="8.1" height="22.5"/>
<rect x="92.8" y="81.2" width="8.1" height="22.7"/>
<rect x="100.9" y="82.1" width="8.1" height="30.6"/>
<rect x="109" y="100.6" width="8.1" height="27.1"/>
<rect x="117.1" y="100.6" width="8.1" height="27.1"/>
<rect x="125.2" y="107.9" width="8.1" height="27.1"/>
<rect x="133.3" y="105.9" width="8.1" height="27.6"/>
<rect x="141.4" y="103.7" width="8.1" height="24.4"/>
<rect x="149.4" y="105" width="8.1" height="25"/>
<rect x="157.5" y="105" width="8.1" height="24.4"/>
<rect x="165.6" y="105.4" width="8.1" height="24.9"/>
<rect x="173.7" y="105" width="8.1" height="24.4"/>
<rect x="181.8" y="117.5" width="8.1" height="22.9"/>
<rect x="189.9" y="101.6" width="8.1" height="29.6"/>
<rect x="198" y="102.9" width="8.1" height="28.8"/>
<rect x="206.1" y="111.9" width="8.1" height="26.2"/>
<rect x="214.2" y="96" width="8.1" height="29"/>
<rect x="222.2" y="98.1" width="8.1" height="26.9"/>
<rect x="230.3" y="89.4" width="8.1" height="22.7"/>
<rect x="238.4" y="92.5" width="8.1" height="26.9"/>
<rect x="246.5" y="96" width="8.1" height="28"/>
<rect x="254.6" y="96" width="8.1" height="23.4"/>
<rect x="262.7" y="102.9" width="8.1" height="25.6"/>
<rect x="270.8" y="84.7" width="8.1" height="33.4"/>
<rect x="278.9" y="89.8" width="8.1" height="37.7"/>
<rect x="287" y="94.4" width="8.1" height="35"/>
<rect x="295" y="98.7" width="8.1" height="33.4"/>
<rect x="303.1" y="95.4" width="8.1" height="24"/>
<rect x="311.2" y="98.7" width="8.1" height="22.5"/>
<rect x="319.3" y="86.6" width="8.1" height="30.9"/>
<rect x="327.4" y="88.1" width="8.1" height="35.4"/>
<rect x="335.5" y="93.7" width="8.1" height="34.7"/>
<rect x="343.6" y="98.7" width="8.1" height="30.6"/>
<rect x="351.7" y="97.2" width="8.1" height="32.1"/>
<rect x="359.8" y="97.5" width="8.1" height="21"/>
<rect x="367.8" y="102.1" width="8.1" height="19.4"/>
<rect x="375.9" y="100.6" width="8.1" height="19.1"/>
<rect x="384" y="100.6" width="8.1" height="19.7"/>
<rect x="392.1" y="88.7" width="8.1" height="20.9"/>
<rect x="400.2" y="87.9" width="8.1" height="21.1"/>
<rect x="408.3" y="93.7" width="8.1" height="20"/>
<rect x="416.4" y="97.5" width="8.1" height="22.9"/>
<rect x="424.5" y="93.7" width="8.1" height="23.8"/>
<rect x="432.6" y="95.4" width="8.1" height="25.9"/>
<rect x="440.6" y="91.9" width="8.1" height="23.7"/>
<rect x="448.7" y="87.9" width="8.1" height="25.3"/>
<rect x="456.8" y="87.3" width="8.1" height="23"/>
<rect x="464.9" y="85.2" width="8.1" height="29.8"/>
<rect x="473" y="82.9" width="8.1" height="27.1"/>
<rect x="481.1" y="84.4" width="8.1" height="27.7"/>
<rect x="489.2" y="85" width="8.1" height="28.1"/>
<rect x="497.3" y="92.9" width="8.1" height="29.4"/>
<rect x="505.4" y="71" width="8.1" height="40.9"/>
<rect x="513.5" y="71.5" width="8.1" height="39.7"/>
<rect x="521.5" y="77.7" width="8.1" height="38.7"/>
<rect x="529.6" y="82.1" width="8.1" height="34.5"/>
<rect x="537.7" y="90.6" width="8.1" height="38.5"/>
<rect x="545.8" y="88.7" width="8.1" height="31.6"/>
<rect x="553.9" y="100.4" width="8.1" height="36.9"/>
<rect x="562" y="93.1" width="8.1" height="31"/>
<rect x="570.1" y="88.7" width="8.1" height="32.9"/>
<rect x="578.2" y="83.1" width="8.1" height="32.1"/>
<rect x="586.3" y="82.1" width="8.1" height="32.3"/>
<rect x="594.3" y="96.9" width="8.1" height="24.4"/>
<rect x="602.4" y="98.7" width="8.1" height="24.4"/>
<rect x="610.5" y="91.9" width="8.1" height="29"/>
<rect x="618.6" y="88.1" width="8.1" height="29.8"/>
<rect x="626.7" y="81.2" width="8.1" height="31.9"/>
<rect x="634.8" y="59.6" width="8.1" height="28.8"/>
<rect x="642.9" y="66.9" width="8.1" height="27.5"/>
<rect x="651" y="75.4" width="8.1" height="24.6"/>
<rect x="659.1" y="86.6" width="8.1" height="23.6"/>
<rect x="667.1" y="88.4" width="8.1" height="26.4"/>
<rect x="675.2" y="66.3" width="8.1" height="22.9"/>
<rect x="683.3" y="83.8" width="8.1" height="26.9"/>
<rect x="691.4" y="82.5" width="8.1" height="23.4"/>
<rect x="699.5" y="85.6" width="8.1" height="22.2"/>
<rect x="707.6" y="87.9" width="8.1" height="24.6"/>
<rect x="715.7" y="77.5" width="8.1" height="24.4"/>
<rect x="723.8" y="77.7" width="8.1" height="26"/>
<rect x="731.9" y="80.9" width="8.1" height="26.4"/>
<rect x="739.9" y="81.2" width="8.1" height="27.1"/>
<rect x="748" y="84.6" width="8.1" height="28.2"/>
<rect x="756.1" y="81.9" width="8.1" height="27.8"/>
<rect x="764.2" y="86.9" width="8.1" height="24.4"/>
<rect x="772.3" y="86.9" width="8.1" height="23.4"/>
<rect x="780.4" y="86.9" width="8.1" height="23.8"/>
<rect x="788.5" y="84.6" width="8.1" height="22.2"/>
<rect x="796.6" y="85.6" width="8.1" height="23.5"/>
<rect x="804.7" y="85" width="8.1" height="23.5"/>
<rect x="812.7" y="83.8" width="8.1" height="24.4"/>
<rect x="820.8" y="84" width="8.1" height="25.1"/>
<rect x="828.9" y="83.8" width="8.1" height="24.6"/>
<rect x="837" y="82.1" width="8.1" height="23.5"/>
<rect x="845.1" y="82.5" width="8.1" height="23.7"/>
<rect x="853.2" y="83.8" width="8.1" height="21.9"/>
<rect x="861.3" y="95" width="8.1" height="16.2"/>
<rect x="869.4" y="81.2" width="8.1" height="22.1"/>
<rect x="877.5" y="80.9" width="8.1" height="17.2"/>
<rect x="885.5" y="85.6" width="8.1" height="18.1"/>
<rect x="893.6" y="80.9" width="8.1" height="18.1"/>
<rect x="901.7" y="85.2" width="8.1" height="27.3"/>
<rect x="909.8" y="85.6" width="8.1" height="26.6"/>
<rect x="917.9" y="75.4" width="8.1" height="32.5"/>
<rect x="926" y="82.5" width="8.1" height="34"/>
<rect x="934.1" y="80.3" width="8.1" height="36"/>
<rect x="942.2" y="80" width="8.1" height="38.1"/>
<rect x="950.3" y="73.5" width="8.1" height="42.8"/>
<rect x="958.3" y="76.6" width="8.1" height="39.6"/>
<rect x="966.4" y="74.6" width="8.1" height="41.9"/>
<rect x="974.5" y="74.6" width="8.1" height="34.4"/>
<rect x="982.6" y="55.4" width="8.1" height="48.4"/>
<rect x="990.7" y="58.1" width="8.1" height="47.7"/>
<rect x="998.8" y="60" width="8.1" height="45"/>
<rect x="1006.9" y="76.2" width="8.1" height="37.7"/>
<rect x="1015" y="76.9" width="8.1" height="37.5"/>
<rect x="1023.1" y="90.6" width="8.1" height="28.7"/>
<rect x="1031.1" y="76.9" width="8.1" height="35.6"/>
<rect x="1039.2" y="96.9" width="8.1" height="28.5"/>
<rect x="1047.3" y="100.6" width="8.1" height="29"/>
<rect x="1055.4" y="98.7" width="8.1" height="28.5"/>
<rect x="1063.5" y="98.1" width="8.1" height="28.5"/>
<rect x="1071.6" y="99.4" width="8.1" height="27.9"/>
<rect x="1079.7" y="96.9" width="8.1" height="29.6"/>
<rect x="1087.8" y="95.4" width="8.1" height="28.7"/>
<rect x="1095.9" y="95.4" width="8.1" height="28.1"/>
<rect x="1103.9" y="93.7" width="8.1" height="23.4"/>
<rect x="1112" y="95.4" width="8.1" height="24.2"/>
<rect x="1120.1" y="91.5" width="8.1" height="25.7"/>
<rect x="1128.2" y="85.2" width="8.1" height="28.5"/>
<rect x="1136.3" y="94.6" width="8.1" height="27"/>
<rect x="1144.4" y="93.7" width="8.1" height="30.6"/>
<rect x="1152.5" y="98.7" width="8.1" height="30.9"/>
<rect x="1160.6" y="90.2" width="8.1" height="29.4"/>
<rect x="1168.7" y="86.3" width="8.1" height="30.9"/>
<rect x="1176.7" y="98.1" width="8.1" height="25.9"/>
<rect x="1184.8" y="98.5" width="8.1" height="26.5"/>
<rect x="1192.9" y="98.7" width="8.1" height="21.6"/>
<rect x="1201" y="100.6" width="8.1" height="23.1"/>
<rect x="1209.1" y="92.5" width="8.1" height="23.1"/>
<rect x="1217.2" y="91.9" width="8.1" height="21"/>
<rect x="1225.3" y="79.7" width="8.1" height="34"/>
<rect x="1233.4" y="91.2" width="8.1" height="19"/>
<rect x="1241.5" y="82.5" width="8.1" height="33.1"/>
<rect x="1249.5" y="96.2" width="8.1" height="16.2"/>
<rect x="1257.6" y="110.6" width="8.1" height="31.5"/>
<rect x="1265.7" y="106.6" width="8.1" height="27.7"/>
<rect x="1273.8" y="105.6" width="8.1" height="36.2"/>
<rect x="1281.9" y="101.9" width="8.1" height="35.9"/>
<rect x="1290" y="105" width="8.1" height="27.1"/>
<rect x="1298.1" y="106.9" width="8.1" height="37.2"/>
<rect x="1306.2" y="108.7" width="8.1" height="33.8"/>
<rect x="1314.3" y="108.1" width="8.1" height="35"/>
<rect x="1322.4" y="108.1" width="8.1" height="29"/>
<rect x="1330.4" y="109" width="8.1" height="35.1"/>
<rect x="1338.5" y="93.1" width="8.1" height="17.5"/>
<rect x="1346.6" y="89.6" width="8.1" height="22.9"/>
<rect x="1354.7" y="102.5" width="8.1" height="24.1"/>
<rect x="1362.8" y="101.9" width="8.1" height="25.3"/>
<rect x="1370.9" y="105.9" width="8.1" height="35.4"/>
<rect x="1379" y="95" width="8.1" height="31.6"/>
<rect x="1387.1" y="96.9" width="8.1" height="33.4"/>
<rect x="1395.2" y="96.6" width="8.1" height="31.1"/>
<rect x="1403.2" y="88.4" width="8.1" height="32"/>
<rect x="1411.3" y="82.8" width="8.1" height="17.9"/>
<rect x="1419.4" y="80.9" width="8.1" height="18.5"/>
<rect x="1427.5" y="83.8" width="8.1" height="21.9"/>
<rect x="1435.6" y="84.4" width="8.1" height="21.2"/>
<rect x="1443.7" y="81.2" width="8.1" height="17.8"/>
<rect x="1451.8" y="85.2" width="8.1" height="17.3"/>
<rect x="1459.9" y="85.6" width="8.1" height="18.7"/>
<rect x="1468" y="92.5" width="8.1" height="24.4"/>
<rect x="1476" y="90.9" width="8.1" height="25.4"/>
<rect x="1484.1" y="95" width="8.1" height="16.2"/>
<rect x="1492.2" y="91.2" width="8.1" height="15.4"/>
<rect x="1500.3" y="90.6" width="8.1" height="16.9"/>
</g>
<g stroke="rgb(0,114,189)" stroke-width="2.6">
<line x1="76.6" y1="100" x2="84.7" y2="100"/>
<line x1="84.7" y1="84.3" x2="92.8" y2="84.3"/>
<line x1="92.8" y1="92.5" x2="100.9" y2="92.5"/>
<line x1="100.9" y1="97.3" x2="109" y2="97.3"/>
<line x1="109" y1="113.9" x2="117.1" y2="113.9"/>
<line x1="117.1" y1="114.1" x2="125.2" y2="114.1"/>
<line x1="125.2" y1="121.1" x2="133.3" y2="121.1"/>
<line x1="133.3" y1="119.8" x2="141.4" y2="119.8"/>
<line x1="141.4" y1="116.2" x2="149.4" y2="116.2"/>
<line x1="149.4" y1="117.3" x2="157.5" y2="117.3"/>
<line x1="157.5" y1="117.1" x2="165.6" y2="117.1"/>
<line x1="165.6" y1="117.5" x2="173.7" y2="117.5"/>
<line x1="173.7" y1="117.2" x2="181.8" y2="117.2"/>
<line x1="181.8" y1="128.8" x2="189.9" y2="128.8"/>
<line x1="189.9" y1="116.2" x2="198" y2="116.2"/>
<line x1="198" y1="117" x2="206.1" y2="117"/>
<line x1="206.1" y1="124.7" x2="214.2" y2="124.7"/>
<line x1="214.2" y1="111.2" x2="222.2" y2="111.2"/>
<line x1="222.2" y1="111.8" x2="230.3" y2="111.8"/>
<line x1="230.3" y1="100.6" x2="238.4" y2="100.6"/>
<line x1="246.5" y1="109.9" x2="254.6" y2="109.9"/>
<line x1="254.6" y1="107.7" x2="262.7" y2="107.7"/>
<line x1="262.7" y1="115.8" x2="270.8" y2="115.8"/>
<line x1="270.8" y1="101.7" x2="278.9" y2="101.7"/>
<line x1="295" y1="115.4" x2="303.1" y2="115.4"/>
<line x1="367.8" y1="111.8" x2="375.9" y2="111.8"/>
<line x1="375.9" y1="110" x2="384" y2="110"/>
<line x1="384" y1="110.5" x2="392.1" y2="110.5"/>
<line x1="392.1" y1="99.1" x2="400.2" y2="99.1"/>
<line x1="400.2" y1="98.1" x2="408.3" y2="98.1"/>
<line x1="440.6" y1="103.2" x2="448.7" y2="103.2"/>
<line x1="448.7" y1="100" x2="456.8" y2="100"/>
<line x1="456.8" y1="98.9" x2="464.9" y2="98.9"/>
<line x1="464.9" y1="99.8" x2="473" y2="99.8"/>
<line x1="473" y1="96.4" x2="481.1" y2="96.4"/>
<line x1="481.1" y1="98.1" x2="489.2" y2="98.1"/>
<line x1="489.2" y1="99" x2="497.3" y2="99"/>
<line x1="505.4" y1="91.6" x2="513.5" y2="91.6"/>
<line x1="513.5" y1="91.6" x2="521.5" y2="91.6"/>
<line x1="521.5" y1="97.1" x2="529.6" y2="97.1"/>
<line x1="529.6" y1="99.4" x2="537.7" y2="99.4"/>
<line x1="553.9" y1="118.7" x2="562" y2="118.7"/>
<line x1="578.2" y1="98.5" x2="586.3" y2="98.5"/>
<line x1="586.3" y1="98.4" x2="594.3" y2="98.4"/>
<line x1="594.3" y1="109.4" x2="602.4" y2="109.4"/>
<line x1="602.4" y1="110.7" x2="610.5" y2="110.7"/>
<line x1="626.7" y1="97.1" x2="634.8" y2="97.1"/>
<line x1="634.8" y1="74" x2="642.9" y2="74"/>
<line x1="642.9" y1="80.6" x2="651" y2="80.6"/>
<line x1="651" y1="87.8" x2="659.1" y2="87.8"/>
<line x1="659.1" y1="98.2" x2="667.1" y2="98.2"/>
<line x1="667.1" y1="101.5" x2="675.2" y2="101.5"/>
<line x1="675.2" y1="77.6" x2="683.3" y2="77.6"/>
<line x1="683.3" y1="96.8" x2="691.4" y2="96.8"/>
<line x1="691.4" y1="94.4" x2="699.5" y2="94.4"/>
<line x1="699.5" y1="98.1" x2="707.6" y2="98.1"/>
<line x1="707.6" y1="100.1" x2="715.7" y2="100.1"/>
<line x1="715.7" y1="88.9" x2="723.8" y2="88.9"/>
<line x1="723.8" y1="90.4" x2="731.9" y2="90.4"/>
<line x1="731.9" y1="94.2" x2="739.9" y2="94.2"/>
<line x1="739.9" y1="95.2" x2="748" y2="95.2"/>
<line x1="748" y1="98.8" x2="756.1" y2="98.8"/>
<line x1="756.1" y1="95.7" x2="764.2" y2="95.7"/>
<line x1="764.2" y1="99.2" x2="772.3" y2="99.2"/>
<line x1="772.3" y1="99" x2="780.4" y2="99"/>
<line x1="780.4" y1="99.7" x2="788.5" y2="99.7"/>
<line x1="788.5" y1="95.7" x2="796.6" y2="95.7"/>
<line x1="796.6" y1="97.2" x2="804.7" y2="97.2"/>
<line x1="804.7" y1="97" x2="812.7" y2="97"/>
<line x1="812.7" y1="96.3" x2="820.8" y2="96.3"/>
<line x1="820.8" y1="96.7" x2="828.9" y2="96.7"/>
<line x1="828.9" y1="95.9" x2="837" y2="95.9"/>
<line x1="837" y1="94" x2="845.1" y2="94"/>
<line x1="845.1" y1="94.8" x2="853.2" y2="94.8"/>
<line x1="853.2" y1="94.5" x2="861.3" y2="94.5"/>
<line x1="861.3" y1="102.7" x2="869.4" y2="102.7"/>
<line x1="869.4" y1="92.5" x2="877.5" y2="92.5"/>
<line x1="877.5" y1="89.1" x2="885.5" y2="89.1"/>
<line x1="885.5" y1="94.5" x2="893.6" y2="94.5"/>
<line x1="893.6" y1="89.7" x2="901.7" y2="89.7"/>
<line x1="901.7" y1="99" x2="909.8" y2="99"/>
<line x1="909.8" y1="98.7" x2="917.9" y2="98.7"/>
<line x1="917.9" y1="91.5" x2="926" y2="91.5"/>
<line x1="926" y1="99.4" x2="934.1" y2="99.4"/>
<line x1="934.1" y1="98.2" x2="942.2" y2="98.2"/>
<line x1="942.2" y1="99.1" x2="950.3" y2="99.1"/>
<line x1="950.3" y1="95.6" x2="958.3" y2="95.6"/>
<line x1="958.3" y1="95.8" x2="966.4" y2="95.8"/>
<line x1="966.4" y1="95.5" x2="974.5" y2="95.5"/>
<line x1="974.5" y1="91.7" x2="982.6" y2="91.7"/>
<line x1="982.6" y1="79.8" x2="990.7" y2="79.8"/>
<line x1="990.7" y1="81.9" x2="998.8" y2="81.9"/>
<line x1="998.8" y1="82.4" x2="1006.9" y2="82.4"/>
<line x1="1006.9" y1="95" x2="1015" y2="95"/>
<line x1="1015" y1="95.8" x2="1023.1" y2="95.8"/>
<line x1="1031.1" y1="94.3" x2="1039.2" y2="94.3"/>
<line x1="1039.2" y1="110.9" x2="1047.3" y2="110.9"/>
<line x1="1047.3" y1="115" x2="1055.4" y2="115"/>
<line x1="1055.4" y1="112.8" x2="1063.5" y2="112.8"/>
<line x1="1063.5" y1="112" x2="1071.6" y2="112"/>
<line x1="1071.6" y1="112.8" x2="1079.7" y2="112.8"/>
<line x1="1079.7" y1="111.5" x2="1087.8" y2="111.5"/>
<line x1="1087.8" y1="109.6" x2="1095.9" y2="109.6"/>
<line x1="1095.9" y1="109.3" x2="1103.9" y2="109.3"/>
<line x1="1120.1" y1="104.7" x2="1128.2" y2="104.7"/>
<line x1="1128.2" y1="99.3" x2="1136.3" y2="99.3"/>
<line x1="1144.4" y1="108.5" x2="1152.5" y2="108.5"/>
<line x1="1152.5" y1="114" x2="1160.6" y2="114"/>
<line x1="1176.7" y1="110.9" x2="1184.8" y2="110.9"/>
<line x1="1184.8" y1="111.3" x2="1192.9" y2="111.3"/>
<line x1="1192.9" y1="109.9" x2="1201" y2="109.9"/>
<line x1="1201" y1="112.2" x2="1209.1" y2="112.2"/>
<line x1="1225.3" y1="96.7" x2="1233.4" y2="96.7"/>
<line x1="1233.4" y1="101.3" x2="1241.5" y2="101.3"/>
<line x1="1241.5" y1="99.2" x2="1249.5" y2="99.2"/>
<line x1="1249.5" y1="105.2" x2="1257.6" y2="105.2"/>
<line x1="1257.6" y1="125.9" x2="1265.7" y2="125.9"/>
<line x1="1265.7" y1="119.9" x2="1273.8" y2="119.9"/>
<line x1="1273.8" y1="123.4" x2="1281.9" y2="123.4"/>
<line x1="1281.9" y1="119.5" x2="1290" y2="119.5"/>
<line x1="1290" y1="118.3" x2="1298.1" y2="118.3"/>
<line x1="1298.1" y1="125.3" x2="1306.2" y2="125.3"/>
<line x1="1306.2" y1="125.6" x2="1314.3" y2="125.6"/>
<line x1="1314.3" y1="125.2" x2="1322.4" y2="125.2"/>
<line x1="1322.4" y1="122.6" x2="1330.4" y2="122.6"/>
<line x1="1330.4" y1="126" x2="1338.5" y2="126"/>
<line x1="1338.5" y1="101.5" x2="1346.6" y2="101.5"/>
<line x1="1346.6" y1="101.3" x2="1354.7" y2="101.3"/>
<line x1="1354.7" y1="114.5" x2="1362.8" y2="114.5"/>
<line x1="1362.8" y1="114.5" x2="1370.9" y2="114.5"/>
<line x1="1370.9" y1="123.4" x2="1379" y2="123.4"/>
<line x1="1379" y1="110.4" x2="1387.1" y2="110.4"/>
<line x1="1387.1" y1="112.9" x2="1395.2" y2="112.9"/>
<line x1="1395.2" y1="111.9" x2="1403.2" y2="111.9"/>
<line x1="1411.3" y1="91.3" x2="1419.4" y2="91.3"/>
<line x1="1419.4" y1="89.9" x2="1427.5" y2="89.9"/>
<line x1="1427.5" y1="94.3" x2="1435.6" y2="94.3"/>
<line x1="1435.6" y1="94.8" x2="1443.7" y2="94.8"/>
<line x1="1443.7" y1="90.3" x2="1451.8" y2="90.3"/>
<line x1="1451.8" y1="93.1" x2="1459.9" y2="93.1"/>
<line x1="1459.9" y1="94.7" x2="1468" y2="94.7"/>
<line x1="1484.1" y1="102.6" x2="1492.2" y2="102.6"/>
<line x1="1492.2" y1="100" x2="1500.3" y2="100"/>
<line x1="1500.3" y1="99" x2="1508.4" y2="99"/>
</g>
<g stroke="#0c0c74" stroke-width="1.6" fill="none">
<line x1="240" y1="103.4" x2="244.9" y2="108.3"/><line x1="240" y1="108.3" x2="244.9" y2="103.4"/>
<line x1="280.5" y1="106.1" x2="285.4" y2="111"/><line x1="280.5" y1="111" x2="285.4" y2="106.1"/>
<line x1="288.6" y1="109.2" x2="293.5" y2="114.1"/><line x1="288.6" y1="114.1" x2="293.5" y2="109.2"/>
<line x1="304.7" y1="105" x2="309.6" y2="109.9"/><line x1="304.7" y1="109.9" x2="309.6" y2="105"/>
<line x1="312.8" y1="107.5" x2="317.7" y2="112.4"/><line x1="312.8" y1="112.4" x2="317.7" y2="107.5"/>
<line x1="320.9" y1="99.8" x2="325.8" y2="104.7"/><line x1="320.9" y1="104.7" x2="325.8" y2="99.8"/>
<line x1="329" y1="103.7" x2="333.9" y2="108.6"/><line x1="329" y1="108.6" x2="333.9" y2="103.7"/>
<line x1="337.1" y1="108.7" x2="342" y2="113.6"/><line x1="337.1" y1="113.6" x2="342" y2="108.7"/>
<line x1="345.2" y1="111.2" x2="350.1" y2="116.1"/><line x1="345.2" y1="116.1" x2="350.1" y2="111.2"/>
<line x1="353.3" y1="110.6" x2="358.2" y2="115.5"/><line x1="353.3" y1="115.5" x2="358.2" y2="110.6"/>
<line x1="361.4" y1="105.6" x2="366.3" y2="110.5"/><line x1="361.4" y1="110.5" x2="366.3" y2="105.6"/>
<line x1="409.9" y1="101.2" x2="414.8" y2="106.1"/><line x1="409.9" y1="106.1" x2="414.8" y2="101.2"/>
<line x1="418" y1="106.7" x2="422.9" y2="111.6"/><line x1="418" y1="111.6" x2="422.9" y2="106.7"/>
<line x1="426.1" y1="103" x2="431" y2="107.9"/><line x1="426.1" y1="107.9" x2="431" y2="103"/>
<line x1="434.2" y1="106" x2="439.1" y2="110.9"/><line x1="434.2" y1="110.9" x2="439.1" y2="106"/>
<line x1="498.9" y1="105.2" x2="503.8" y2="110.1"/><line x1="498.9" y1="110.1" x2="503.8" y2="105.2"/>
<line x1="539.3" y1="107.4" x2="544.2" y2="112.3"/><line x1="539.3" y1="112.3" x2="544.2" y2="107.4"/>
<line x1="547.4" y1="102.2" x2="552.3" y2="107.1"/><line x1="547.4" y1="107.1" x2="552.3" y2="102.2"/>
<line x1="563.6" y1="106.3" x2="568.5" y2="111.2"/><line x1="563.6" y1="111.2" x2="568.5" y2="106.3"/>
<line x1="571.7" y1="102.8" x2="576.6" y2="107.7"/><line x1="571.7" y1="107.7" x2="576.6" y2="102.8"/>
<line x1="612.1" y1="103.9" x2="617" y2="108.8"/><line x1="612.1" y1="108.8" x2="617" y2="103.9"/>
<line x1="620.2" y1="100.5" x2="625.1" y2="105.4"/><line x1="620.2" y1="105.4" x2="625.1" y2="100.5"/>
<line x1="1024.7" y1="102.7" x2="1029.6" y2="107.6"/><line x1="1024.7" y1="107.6" x2="1029.6" y2="102.7"/>
<line x1="1105.5" y1="102.8" x2="1110.4" y2="107.7"/><line x1="1105.5" y1="107.7" x2="1110.4" y2="102.8"/>
<line x1="1113.6" y1="104.7" x2="1118.5" y2="109.6"/><line x1="1113.6" y1="109.6" x2="1118.5" y2="104.7"/>
<line x1="1137.9" y1="105.9" x2="1142.8" y2="110.8"/><line x1="1137.9" y1="110.8" x2="1142.8" y2="105.9"/>
<line x1="1162.2" y1="102.7" x2="1167.1" y2="107.6"/><line x1="1162.2" y1="107.6" x2="1167.1" y2="102.7"/>
<line x1="1170.3" y1="99.3" x2="1175.2" y2="104.2"/><line x1="1170.3" y1="104.2" x2="1175.2" y2="99.3"/>
<line x1="1210.7" y1="101.9" x2="1215.6" y2="106.8"/><line x1="1210.7" y1="106.8" x2="1215.6" y2="101.9"/>
<line x1="1218.8" y1="99.7" x2="1223.7" y2="104.6"/><line x1="1218.8" y1="104.6" x2="1223.7" y2="99.7"/>
<line x1="1404.8" y1="101.6" x2="1409.7" y2="106.5"/><line x1="1404.8" y1="106.5" x2="1409.7" y2="101.6"/>
<line x1="1469.5" y1="102.3" x2="1474.4" y2="107.2"/><line x1="1469.5" y1="107.2" x2="1474.4" y2="102.3"/>
<line x1="1477.6" y1="101" x2="1482.5" y2="105.9"/><line x1="1477.6" y1="105.9" x2="1482.5" y2="101"/>
</g>
<g fill="rgba(0,100,0,0.25)" stroke="rgba(0,100,0,0.80)" stroke-width="1.2">
<rect x="76.6" y="489.8" width="8.1" height="17.4"/>
<rect x="84.7" y="507.2" width="8.1" height="15.4"/>
<rect x="92.8" y="507.2" width="8.1" height="30.8"/>
<rect x="100.9" y="507.2" width="8.1" height="16.4"/>
<rect x="109" y="507.2" width="8.1" height="13.6"/>
<rect x="117.1" y="507.2" width="8.1" height="12.6"/>
<rect x="125.2" y="490" width="8.1" height="17.2"/>
<rect x="133.3" y="493" width="8.1" height="14.2"/>
<rect x="141.4" y="507.2" width="8.1" height="2.4"/>
<rect x="149.4" y="506" width="8.1" height="1.2"/>
<rect x="157.5" y="500" width="8.1" height="7.2"/>
<rect x="165.6" y="486.8" width="8.1" height="20.4"/>
<rect x="173.7" y="488.3" width="8.1" height="18.9"/>
<rect x="181.8" y="496.6" width="8.1" height="10.6"/>
<rect x="189.9" y="477.8" width="8.1" height="29.4"/>
<rect x="198" y="478.8" width="8.1" height="28.4"/>
<rect x="206.1" y="496" width="8.1" height="11.2"/>
<rect x="214.2" y="504" width="8.1" height="3.2"/>
<rect x="222.2" y="492" width="8.1" height="15.2"/>
<rect x="230.3" y="496.3" width="8.1" height="10.9"/>
<rect x="238.4" y="505.1" width="8.1" height="2.1"/>
<rect x="246.5" y="507.2" width="8.1" height="15.4"/>
<rect x="254.6" y="502" width="8.1" height="5.2"/>
<rect x="262.7" y="490.8" width="8.1" height="16.4"/>
<rect x="270.8" y="507.2" width="8.1" height="1.1"/>
<rect x="278.9" y="507.2" width="8.1" height="17.6"/>
<rect x="287" y="507.2" width="8.1" height="32.1"/>
<rect x="295" y="497.6" width="8.1" height="9.6"/>
<rect x="303.1" y="502.8" width="8.1" height="4.4"/>
<rect x="311.2" y="507.2" width="8.1" height="86.3"/>
<rect x="319.3" y="487.8" width="8.1" height="19.4"/>
<rect x="327.4" y="507.2" width="8.1" height="6.3"/>
<rect x="335.5" y="507.2" width="8.1" height="8.9"/>
<rect x="343.6" y="507.2" width="8.1" height="3.8"/>
<rect x="351.7" y="507.2" width="8.1" height="12.1"/>
<rect x="359.8" y="507.2" width="8.1" height="17.9"/>
<rect x="367.8" y="501.5" width="8.1" height="5.7"/>
<rect x="375.9" y="506.1" width="8.1" height="1.1"/>
<rect x="384" y="507.2" width="8.1" height="6.6"/>
<rect x="392.1" y="495.1" width="8.1" height="12.1"/>
<rect x="400.2" y="502" width="8.1" height="5.2"/>
<rect x="408.3" y="479.8" width="8.1" height="27.4"/>
<rect x="416.4" y="503" width="8.1" height="4.2"/>
<rect x="424.5" y="505" width="8.1" height="2.2"/>
<rect x="432.6" y="496.6" width="8.1" height="10.6"/>
<rect x="440.6" y="507.2" width="8.1" height="15.6"/>
<rect x="448.7" y="507.2" width="8.1" height="5.3"/>
<rect x="456.8" y="500" width="8.1" height="7.2"/>
<rect x="464.9" y="487.5" width="8.1" height="19.7"/>
<rect x="473" y="502" width="8.1" height="5.2"/>
<rect x="481.1" y="503.1" width="8.1" height="4.1"/>
<rect x="489.2" y="505.5" width="8.1" height="1.7"/>
<rect x="497.3" y="505" width="8.1" height="2.2"/>
<rect x="505.4" y="501.8" width="8.1" height="5.4"/>
<rect x="513.5" y="495.1" width="8.1" height="12.1"/>
<rect x="521.5" y="475" width="8.1" height="32.2"/>
<rect x="529.6" y="483.6" width="8.1" height="23.6"/>
<rect x="537.7" y="507.2" width="8.1" height="12.4"/>
<rect x="545.8" y="490.5" width="8.1" height="16.7"/>
<rect x="553.9" y="507.2" width="8.1" height="7.8"/>
<rect x="562" y="506" width="8.1" height="1.2"/>
<rect x="570.1" y="482.5" width="8.1" height="24.7"/>
<rect x="578.2" y="507.2" width="8.1" height="25.4"/>
<rect x="586.3" y="507.2" width="8.1" height="13.1"/>
<rect x="594.3" y="507.2" width="8.1" height="17.8"/>
<rect x="602.4" y="507.2" width="8.1" height="16.8"/>
<rect x="610.5" y="490.3" width="8.1" height="16.9"/>
<rect x="618.6" y="476.3" width="8.1" height="30.9"/>
<rect x="626.7" y="507.2" width="8.1" height="8.1"/>
<rect x="634.8" y="507.2" width="8.1" height="29.6"/>
<rect x="642.9" y="507.2" width="8.1" height="35.6"/>
<rect x="651" y="507.2" width="8.1" height="5.8"/>
<rect x="659.1" y="507.2" width="8.1" height="14.1"/>
<rect x="667.1" y="507.2" width="8.1" height="15.8"/>
<rect x="675.2" y="506.6" width="8.1" height="0.6"/>
<rect x="683.3" y="500.1" width="8.1" height="7.1"/>
<rect x="691.4" y="506.1" width="8.1" height="1.1"/>
<rect x="699.5" y="507.2" width="8.1" height="1.1"/>
<rect x="707.6" y="504.8" width="8.1" height="2.4"/>
<rect x="715.7" y="497" width="8.1" height="10.2"/>
<rect x="723.8" y="507.2" width="8.1" height="3.1"/>
<rect x="731.9" y="501.6" width="8.1" height="5.6"/>
<rect x="739.9" y="500" width="8.1" height="7.2"/>
<rect x="748" y="496.8" width="8.1" height="10.4"/>
<rect x="756.1" y="496.8" width="8.1" height="10.4"/>
<rect x="764.2" y="507.2" width="8.1" height="17.4"/>
<rect x="772.3" y="496.5" width="8.1" height="10.7"/>
<rect x="780.4" y="491.6" width="8.1" height="15.6"/>
<rect x="788.5" y="495.3" width="8.1" height="11.9"/>
<rect x="796.6" y="507.2" width="8.1" height="3.1"/>
<rect x="804.7" y="507.1" width="8.1" height="0.3"/>
<rect x="812.7" y="507.2" width="8.1" height="7.1"/>
<rect x="820.8" y="507.2" width="8.1" height="3.1"/>
<rect x="828.9" y="507.2" width="8.1" height="0.8"/>
<rect x="837" y="505" width="8.1" height="2.2"/>
<rect x="845.1" y="505.3" width="8.1" height="1.9"/>
<rect x="853.2" y="507.2" width="8.1" height="6.8"/>
<rect x="861.3" y="507.2" width="8.1" height="16.6"/>
<rect x="869.4" y="507.2" width="8.1" height="11.8"/>
<rect x="877.5" y="507.2" width="8.1" height="21.3"/>
<rect x="885.5" y="500.8" width="8.1" height="6.4"/>
<rect x="893.6" y="507.2" width="8.1" height="62.9"/>
<rect x="901.7" y="507.2" width="8.1" height="10.4"/>
<rect x="909.8" y="501.5" width="8.1" height="5.7"/>
<rect x="917.9" y="499" width="8.1" height="8.2"/>
<rect x="926" y="497.6" width="8.1" height="9.6"/>
<rect x="934.1" y="486.1" width="8.1" height="21.1"/>
<rect x="942.2" y="504" width="8.1" height="3.2"/>
<rect x="950.3" y="492.8" width="8.1" height="14.4"/>
<rect x="958.3" y="502" width="8.1" height="5.2"/>
<rect x="966.4" y="504.5" width="8.1" height="2.7"/>
<rect x="974.5" y="504.5" width="8.1" height="2.7"/>
<rect x="982.6" y="507.2" width="8.1" height="12.1"/>
<rect x="990.7" y="507.2" width="8.1" height="18.1"/>
<rect x="998.8" y="507.2" width="8.1" height="12.8"/>
<rect x="1006.9" y="507.2" width="8.1" height="11.4"/>
<rect x="1015" y="507.2" width="8.1" height="20.8"/>
<rect x="1023.1" y="503" width="8.1" height="4.2"/>
<rect x="1031.1" y="507.2" width="8.1" height="10.3"/>
<rect x="1039.2" y="497" width="8.1" height="10.2"/>
<rect x="1047.3" y="492.8" width="8.1" height="14.4"/>
<rect x="1055.4" y="504.3" width="8.1" height="2.9"/>
<rect x="1063.5" y="497.8" width="8.1" height="9.4"/>
<rect x="1071.6" y="490.6" width="8.1" height="16.6"/>
<rect x="1079.7" y="497.1" width="8.1" height="10.1"/>
<rect x="1087.8" y="502.1" width="8.1" height="5.1"/>
<rect x="1095.9" y="507.2" width="8.1" height="2.6"/>
<rect x="1103.9" y="495" width="8.1" height="12.2"/>
<rect x="1112" y="495.1" width="8.1" height="12.1"/>
<rect x="1120.1" y="502.8" width="8.1" height="4.4"/>
<rect x="1128.2" y="485.6" width="8.1" height="21.6"/>
<rect x="1136.3" y="485.5" width="8.1" height="21.7"/>
<rect x="1144.4" y="486.3" width="8.1" height="20.9"/>
<rect x="1152.5" y="495" width="8.1" height="12.2"/>
<rect x="1160.6" y="500.6" width="8.1" height="6.6"/>
<rect x="1168.7" y="482.8" width="8.1" height="24.4"/>
<rect x="1176.7" y="477.6" width="8.1" height="29.6"/>
<rect x="1184.8" y="494" width="8.1" height="13.2"/>
<rect x="1192.9" y="500" width="8.1" height="7.2"/>
<rect x="1201" y="498.6" width="8.1" height="8.6"/>
<rect x="1209.1" y="505.1" width="8.1" height="2.1"/>
<rect x="1217.2" y="501" width="8.1" height="6.2"/>
<rect x="1225.3" y="506.8" width="8.1" height="0.4"/>
<rect x="1233.4" y="499.1" width="8.1" height="8.1"/>
<rect x="1241.5" y="490.6" width="8.1" height="16.6"/>
<rect x="1249.5" y="501" width="8.1" height="6.2"/>
<rect x="1257.6" y="491.1" width="8.1" height="16.1"/>
<rect x="1265.7" y="493.8" width="8.1" height="13.4"/>
<rect x="1273.8" y="501" width="8.1" height="6.2"/>
<rect x="1281.9" y="495" width="8.1" height="12.2"/>
<rect x="1290" y="500.1" width="8.1" height="7.1"/>
<rect x="1298.1" y="501" width="8.1" height="6.2"/>
<rect x="1306.2" y="487.3" width="8.1" height="19.9"/>
<rect x="1314.3" y="494.8" width="8.1" height="12.4"/>
<rect x="1322.4" y="500.1" width="8.1" height="7.1"/>
<rect x="1330.4" y="507.2" width="8.1" height="9.6"/>
<rect x="1338.5" y="495.1" width="8.1" height="12.1"/>
<rect x="1346.6" y="507.2" width="8.1" height="2.4"/>
<rect x="1354.7" y="502" width="8.1" height="5.2"/>
<rect x="1362.8" y="492.8" width="8.1" height="14.4"/>
<rect x="1370.9" y="480.1" width="8.1" height="27.1"/>
<rect x="1379" y="507.2" width="8.1" height="3.1"/>
<rect x="1387.1" y="507.2" width="8.1" height="7.6"/>
<rect x="1395.2" y="507.2" width="8.1" height="5.4"/>
<rect x="1403.2" y="506.5" width="8.1" height="0.7"/>
<rect x="1411.3" y="500.8" width="8.1" height="6.4"/>
<rect x="1419.4" y="507.2" width="8.1" height="11.6"/>
<rect x="1427.5" y="507.2" width="8.1" height="8.4"/>
<rect x="1435.6" y="507.2" width="8.1" height="1.1"/>
<rect x="1443.7" y="507.2" width="8.1" height="10.1"/>
<rect x="1451.8" y="490.8" width="8.1" height="16.4"/>
<rect x="1459.9" y="504.5" width="8.1" height="2.7"/>
<rect x="1468" y="495.3" width="8.1" height="11.9"/>
<rect x="1476" y="507.2" width="8.1" height="7.6"/>
<rect x="1484.1" y="507.2" width="8.1" height="1.4"/>
<rect x="1492.2" y="500.5" width="8.1" height="6.7"/>
<rect x="1500.3" y="507.2" width="8.1" height="19.6"/>
</g>
<g fill="rgba(204,0,0,0.25)" stroke="rgba(204,0,0,0.80)" stroke-width="1.2">
<rect x="76.6" y="351.9" width="8.1" height="15.4"/>
<rect x="84.7" y="378.1" width="8.1" height="18.1"/>
<rect x="92.8" y="394.3" width="8.1" height="30.9"/>
<rect x="100.9" y="382.5" width="8.1" height="16.2"/>
<rect x="109" y="391.2" width="8.1" height="11.9"/>
<rect x="117.1" y="390.6" width="8.1" height="8.7"/>
<rect x="125.2" y="370.8" width="8.1" height="15.4"/>
<rect x="133.3" y="372.5" width="8.1" height="15.6"/>
<rect x="141.4" y="377.2" width="8.1" height="28.4"/>
<rect x="149.4" y="372.5" width="8.1" height="22.2"/>
<rect x="157.5" y="371.2" width="8.1" height="14.1"/>
<rect x="165.6" y="355.6" width="8.1" height="19.4"/>
<rect x="173.7" y="359.6" width="8.1" height="15.6"/>
<rect x="181.8" y="351.5" width="8.1" height="33.5"/>
<rect x="189.9" y="355.2" width="8.1" height="20"/>
<rect x="198" y="362.5" width="8.1" height="9.4"/>
<rect x="206.1" y="366.8" width="8.1" height="15"/>
<rect x="214.2" y="380" width="8.1" height="7.5"/>
<rect x="222.2" y="365.3" width="8.1" height="10.5"/>
<rect x="230.3" y="367.2" width="8.1" height="19"/>
<rect x="238.4" y="368.1" width="8.1" height="16.2"/>
<rect x="246.5" y="384.3" width="8.1" height="20"/>
<rect x="254.6" y="363.7" width="8.1" height="15.2"/>
<rect x="262.7" y="353.7" width="8.1" height="26.9"/>
<rect x="270.8" y="383.5" width="8.1" height="9.6"/>
<rect x="278.9" y="381.5" width="8.1" height="28.9"/>
<rect x="287" y="400.6" width="8.1" height="23.8"/>
<rect x="295" y="362.5" width="8.1" height="26.9"/>
<rect x="303.1" y="366.8" width="8.1" height="15.4"/>
<rect x="311.2" y="465.3" width="8.1" height="14.3"/>
<rect x="319.3" y="341.5" width="8.1" height="39.5"/>
<rect x="327.4" y="360.2" width="8.1" height="26.6"/>
<rect x="335.5" y="365.6" width="8.1" height="23.8"/>
<rect x="343.6" y="364.6" width="8.1" height="23.9"/>
<rect x="351.7" y="365.6" width="8.1" height="32.5"/>
<rect x="359.8" y="385.2" width="8.1" height="12.3"/>
<rect x="367.8" y="361.5" width="8.1" height="19.5"/>
<rect x="375.9" y="367.7" width="8.1" height="16.4"/>
<rect x="384" y="375.8" width="8.1" height="16.4"/>
<rect x="392.1" y="368.7" width="8.1" height="16.9"/>
<rect x="400.2" y="375" width="8.1" height="18.1"/>
<rect x="408.3" y="355.6" width="8.1" height="14.4"/>
<rect x="416.4" y="359.3" width="8.1" height="38.1"/>
<rect x="424.5" y="368.7" width="8.1" height="25.6"/>
<rect x="432.6" y="363.3" width="8.1" height="31.4"/>
<rect x="440.6" y="391.2" width="8.1" height="19.1"/>
<rect x="448.7" y="378.7" width="8.1" height="25.6"/>
<rect x="456.8" y="366.6" width="8.1" height="11.9"/>
<rect x="464.9" y="378.1" width="8.1" height="8.1"/>
<rect x="473" y="375.2" width="8.1" height="9.7"/>
<rect x="481.1" y="378.5" width="8.1" height="9.6"/>
<rect x="489.2" y="379.7" width="8.1" height="11.5"/>
<rect x="497.3" y="383.1" width="8.1" height="11.6"/>
<rect x="505.4" y="378.7" width="8.1" height="14.7"/>
<rect x="513.5" y="381.5" width="8.1" height="12.9"/>
<rect x="521.5" y="359.1" width="8.1" height="24.6"/>
<rect x="529.6" y="369" width="8.1" height="24.5"/>
<rect x="537.7" y="364.3" width="8.1" height="46.6"/>
<rect x="545.8" y="349.7" width="8.1" height="21.7"/>
<rect x="553.9" y="368.7" width="8.1" height="28.8"/>
<rect x="562" y="370.6" width="8.1" height="21"/>
<rect x="570.1" y="340.6" width="8.1" height="16.6"/>
<rect x="578.2" y="395.8" width="8.1" height="9.4"/>
<rect x="586.3" y="373.1" width="8.1" height="11.2"/>
<rect x="594.3" y="383.1" width="8.1" height="26.3"/>
<rect x="602.4" y="380.6" width="8.1" height="15.6"/>
<rect x="610.5" y="355.6" width="8.1" height="11.6"/>
<rect x="618.6" y="367.1" width="8.1" height="22.2"/>
<rect x="626.7" y="405.6" width="8.1" height="8.4"/>
<rect x="634.8" y="422.7" width="8.1" height="6.3"/>
<rect x="642.9" y="424.6" width="8.1" height="13.9"/>
<rect x="651" y="389.6" width="8.1" height="17.6"/>
<rect x="659.1" y="391.2" width="8.1" height="23.4"/>
<rect x="667.1" y="398.1" width="8.1" height="10.6"/>
<rect x="675.2" y="389.6" width="8.1" height="11.3"/>
<rect x="683.3" y="370.6" width="8.1" height="10"/>
<rect x="691.4" y="380.6" width="8.1" height="11.9"/>
<rect x="699.5" y="379.3" width="8.1" height="13.1"/>
<rect x="707.6" y="378.5" width="8.1" height="13"/>
<rect x="715.7" y="369" width="8.1" height="13.5"/>
<rect x="723.8" y="383.5" width="8.1" height="11.5"/>
<rect x="731.9" y="379.7" width="8.1" height="10.9"/>
<rect x="739.9" y="376.5" width="8.1" height="13.1"/>
<rect x="748" y="375.6" width="8.1" height="11.9"/>
<rect x="756.1" y="375.6" width="8.1" height="11.6"/>
<rect x="764.2" y="391.2" width="8.1" height="26.6"/>
<rect x="772.3" y="367.7" width="8.1" height="19.7"/>
<rect x="780.4" y="367.7" width="8.1" height="19.1"/>
<rect x="788.5" y="366.8" width="8.1" height="20.6"/>
<rect x="796.6" y="381.2" width="8.1" height="16.2"/>
<rect x="804.7" y="378.5" width="8.1" height="15.2"/>
<rect x="812.7" y="385" width="8.1" height="8.8"/>
<rect x="820.8" y="379.6" width="8.1" height="11.6"/>
<rect x="828.9" y="383.1" width="8.1" height="8.8"/>
<rect x="837" y="379.3" width="8.1" height="8.8"/>
<rect x="845.1" y="378.7" width="8.1" height="7.5"/>
<rect x="853.2" y="386.2" width="8.1" height="10.9"/>
<rect x="861.3" y="381.8" width="8.1" height="38.1"/>
<rect x="869.4" y="378.5" width="8.1" height="26.7"/>
<rect x="877.5" y="398.7" width="8.1" height="17.5"/>
<rect x="885.5" y="356.5" width="8.1" height="47.9"/>
<rect x="893.6" y="437.5" width="8.1" height="16.2"/>
<rect x="901.7" y="391.2" width="8.1" height="8.8"/>
<rect x="909.8" y="372.5" width="8.1" height="8.8"/>
<rect x="917.9" y="369.6" width="8.1" height="11"/>
<rect x="926" y="376.8" width="8.1" height="8.1"/>
<rect x="934.1" y="364.6" width="8.1" height="8.7"/>
<rect x="942.2" y="378.1" width="8.1" height="9.4"/>
<rect x="950.3" y="370" width="8.1" height="9.4"/>
<rect x="958.3" y="375" width="8.1" height="8.1"/>
<rect x="966.4" y="374.7" width="8.1" height="10.5"/>
<rect x="974.5" y="368.1" width="8.1" height="15.6"/>
<rect x="982.6" y="372.5" width="8.1" height="14"/>
<rect x="990.7" y="376" width="8.1" height="14.6"/>
<rect x="998.8" y="371" width="8.1" height="14"/>
<rect x="1006.9" y="364.3" width="8.1" height="25.6"/>
<rect x="1015" y="376.2" width="8.1" height="23.1"/>
<rect x="1023.1" y="367.7" width="8.1" height="15.4"/>
<rect x="1031.1" y="371.5" width="8.1" height="14.1"/>
<rect x="1039.2" y="370" width="8.1" height="13.1"/>
<rect x="1047.3" y="362.7" width="8.1" height="21"/>
<rect x="1055.4" y="378.7" width="8.1" height="11.2"/>
<rect x="1063.5" y="368.7" width="8.1" height="19.4"/>
<rect x="1071.6" y="361.5" width="8.1" height="18.3"/>
<rect x="1079.7" y="367.5" width="8.1" height="14.8"/>
<rect x="1087.8" y="371.9" width="8.1" height="11.9"/>
<rect x="1095.9" y="378.5" width="8.1" height="12.7"/>
<rect x="1103.9" y="365.6" width="8.1" height="7.3"/>
<rect x="1112" y="365.6" width="8.1" height="11.2"/>
<rect x="1120.1" y="372.8" width="8.1" height="14.4"/>
<rect x="1128.2" y="357.7" width="8.1" height="13.9"/>
<rect x="1136.3" y="358.5" width="8.1" height="10"/>
<rect x="1144.4" y="359.3" width="8.1" height="8.8"/>
<rect x="1152.5" y="364.3" width="8.1" height="11.9"/>
<rect x="1160.6" y="375.2" width="8.1" height="19.5"/>
<rect x="1168.7" y="369.3" width="8.1" height="24.1"/>
<rect x="1176.7" y="348.4" width="8.1" height="26"/>
<rect x="1184.8" y="366.5" width="8.1" height="19.7"/>
<rect x="1192.9" y="370.6" width="8.1" height="14.4"/>
<rect x="1201" y="362.5" width="8.1" height="33.4"/>
<rect x="1209.1" y="376.2" width="8.1" height="11.2"/>
<rect x="1217.2" y="367.5" width="8.1" height="13.1"/>
<rect x="1225.3" y="380" width="8.1" height="20"/>
<rect x="1233.4" y="366.2" width="8.1" height="24.6"/>
<rect x="1241.5" y="370.6" width="8.1" height="8.1"/>
<rect x="1249.5" y="381.8" width="8.1" height="8.1"/>
<rect x="1257.6" y="383.1" width="8.1" height="7.1"/>
<rect x="1265.7" y="382.5" width="8.1" height="7.5"/>
<rect x="1273.8" y="388.7" width="8.1" height="11.3"/>
<rect x="1281.9" y="377.5" width="8.1" height="10.6"/>
<rect x="1290" y="391.9" width="8.1" height="8.7"/>
<rect x="1298.1" y="386.2" width="8.1" height="11.3"/>
<rect x="1306.2" y="373.7" width="8.1" height="9.4"/>
<rect x="1314.3" y="385.6" width="8.1" height="20.6"/>
<rect x="1322.4" y="380.2" width="8.1" height="16"/>
<rect x="1330.4" y="396.2" width="8.1" height="10"/>
<rect x="1338.5" y="367.5" width="8.1" height="23.1"/>
<rect x="1346.6" y="386.2" width="8.1" height="11.3"/>
<rect x="1354.7" y="383.7" width="8.1" height="11.9"/>
<rect x="1362.8" y="378.7" width="8.1" height="11.9"/>
<rect x="1370.9" y="361.5" width="8.1" height="19.1"/>
<rect x="1379" y="385" width="8.1" height="10.9"/>
<rect x="1387.1" y="393.7" width="8.1" height="7.5"/>
<rect x="1395.2" y="390" width="8.1" height="13.7"/>
<rect x="1403.2" y="385.6" width="8.1" height="23.8"/>
<rect x="1411.3" y="381.2" width="8.1" height="6.9"/>
<rect x="1419.4" y="388.5" width="8.1" height="20.3"/>
<rect x="1427.5" y="393.1" width="8.1" height="10.4"/>
<rect x="1435.6" y="386.2" width="8.1" height="9.4"/>
<rect x="1443.7" y="396.2" width="8.1" height="6.2"/>
<rect x="1451.8" y="368.1" width="8.1" height="16.9"/>
<rect x="1459.9" y="385" width="8.1" height="11.3"/>
<rect x="1468" y="375.2" width="8.1" height="12.9"/>
<rect x="1476" y="391.2" width="8.1" height="22.8"/>
<rect x="1484.1" y="383.1" width="8.1" height="6.3"/>
<rect x="1492.2" y="375.6" width="8.1" height="8.1"/>
<rect x="1500.3" y="399.6" width="8.1" height="15.1"/>
</g>
<g stroke="rgb(204,0,0)" stroke-width="2.6">
<line x1="76.6" y1="359" x2="84.7" y2="359"/>
<line x1="84.7" y1="387.2" x2="92.8" y2="387.2"/>
<line x1="92.8" y1="409.7" x2="100.9" y2="409.7"/>
<line x1="100.9" y1="390.6" x2="109" y2="390.6"/>
<line x1="109" y1="397.5" x2="117.1" y2="397.5"/>
<line x1="117.1" y1="395" x2="125.2" y2="395"/>
<line x1="125.2" y1="378.5" x2="133.3" y2="378.5"/>
<line x1="133.3" y1="380.2" x2="141.4" y2="380.2"/>
<line x1="141.4" y1="391.5" x2="149.4" y2="391.5"/>
<line x1="149.4" y1="383.7" x2="157.5" y2="383.7"/>
<line x1="157.5" y1="378.3" x2="165.6" y2="378.3"/>
<line x1="165.6" y1="365" x2="173.7" y2="365"/>
<line x1="173.7" y1="367.5" x2="181.8" y2="367.5"/>
<line x1="181.8" y1="368.1" x2="189.9" y2="368.1"/>
<line x1="189.9" y1="365.2" x2="198" y2="365.2"/>
<line x1="198" y1="367.2" x2="206.1" y2="367.2"/>
<line x1="206.1" y1="374.1" x2="214.2" y2="374.1"/>
<line x1="214.2" y1="385" x2="222.2" y2="385"/>
<line x1="222.2" y1="370.6" x2="230.3" y2="370.6"/>
<line x1="230.3" y1="376.5" x2="238.4" y2="376.5"/>
<line x1="238.4" y1="376.2" x2="246.5" y2="376.2"/>
<line x1="246.5" y1="394.7" x2="254.6" y2="394.7"/>
<line x1="254.6" y1="371.2" x2="262.7" y2="371.2"/>
<line x1="262.7" y1="367.1" x2="270.8" y2="367.1"/>
<line x1="270.8" y1="388.5" x2="278.9" y2="388.5"/>
<line x1="278.9" y1="395.8" x2="287" y2="395.8"/>
<line x1="287" y1="412.5" x2="295" y2="412.5"/>
<line x1="295" y1="375.6" x2="303.1" y2="375.6"/>
<line x1="303.1" y1="374.7" x2="311.2" y2="374.7"/>
<line x1="311.2" y1="472.1" x2="319.3" y2="472.1"/>
<line x1="319.3" y1="361" x2="327.4" y2="361"/>
<line x1="327.4" y1="373.7" x2="335.5" y2="373.7"/>
<line x1="335.5" y1="377.5" x2="343.6" y2="377.5"/>
<line x1="343.6" y1="376.2" x2="351.7" y2="376.2"/>
<line x1="351.7" y1="382.2" x2="359.8" y2="382.2"/>
<line x1="359.8" y1="391.5" x2="367.8" y2="391.5"/>
<line x1="367.8" y1="371.2" x2="375.9" y2="371.2"/>
<line x1="375.9" y1="375.8" x2="384" y2="375.8"/>
<line x1="384" y1="383.7" x2="392.1" y2="383.7"/>
<line x1="392.1" y1="377.5" x2="400.2" y2="377.5"/>
<line x1="400.2" y1="383.7" x2="408.3" y2="383.7"/>
<line x1="408.3" y1="362.7" x2="416.4" y2="362.7"/>
<line x1="416.4" y1="378.5" x2="424.5" y2="378.5"/>
<line x1="424.5" y1="381.5" x2="432.6" y2="381.5"/>
<line x1="432.6" y1="378.5" x2="440.6" y2="378.5"/>
<line x1="440.6" y1="400.3" x2="448.7" y2="400.3"/>
<line x1="448.7" y1="391.9" x2="456.8" y2="391.9"/>
<line x1="456.8" y1="372.5" x2="464.9" y2="372.5"/>
<line x1="464.9" y1="382.2" x2="473" y2="382.2"/>
<line x1="473" y1="380" x2="481.1" y2="380"/>
<line x1="481.1" y1="383.1" x2="489.2" y2="383.1"/>
<line x1="489.2" y1="385.6" x2="497.3" y2="385.6"/>
<line x1="497.3" y1="389" x2="505.4" y2="389"/>
<line x1="505.4" y1="385.6" x2="513.5" y2="385.6"/>
<line x1="513.5" y1="388.1" x2="521.5" y2="388.1"/>
<line x1="529.6" y1="381.5" x2="537.7" y2="381.5"/>
<line x1="537.7" y1="387.7" x2="545.8" y2="387.7"/>
<line x1="545.8" y1="360.6" x2="553.9" y2="360.6"/>
<line x1="553.9" y1="383.1" x2="562" y2="383.1"/>
<line x1="562" y1="381" x2="570.1" y2="381"/>
<line x1="570.1" y1="348.7" x2="578.2" y2="348.7"/>
<line x1="578.2" y1="400.3" x2="586.3" y2="400.3"/>
<line x1="586.3" y1="379" x2="594.3" y2="379"/>
<line x1="602.4" y1="388.1" x2="610.5" y2="388.1"/>
<line x1="610.5" y1="361.5" x2="618.6" y2="361.5"/>
<line x1="618.6" y1="378.1" x2="626.7" y2="378.1"/>
<line x1="626.7" y1="409.7" x2="634.8" y2="409.7"/>
<line x1="634.8" y1="425.8" x2="642.9" y2="425.8"/>
<line x1="642.9" y1="431.5" x2="651" y2="431.5"/>
<line x1="651" y1="398.3" x2="659.1" y2="398.3"/>
<line x1="659.1" y1="403.1" x2="667.1" y2="403.1"/>
<line x1="667.1" y1="403.5" x2="675.2" y2="403.5"/>
<line x1="675.2" y1="395" x2="683.3" y2="395"/>
<line x1="683.3" y1="375.6" x2="691.4" y2="375.6"/>
<line x1="707.6" y1="385" x2="715.7" y2="385"/>
<line x1="715.7" y1="375.2" x2="723.8" y2="375.2"/>
<line x1="731.9" y1="385.2" x2="739.9" y2="385.2"/>
<line x1="739.9" y1="383.3" x2="748" y2="383.3"/>
<line x1="748" y1="381.8" x2="756.1" y2="381.8"/>
<line x1="756.1" y1="381.5" x2="764.2" y2="381.5"/>
<line x1="780.4" y1="376.8" x2="788.5" y2="376.8"/>
<line x1="796.6" y1="389.3" x2="804.7" y2="389.3"/>
<line x1="804.7" y1="386" x2="812.7" y2="386"/>
<line x1="812.7" y1="389.3" x2="820.8" y2="389.3"/>
<line x1="820.8" y1="385.6" x2="828.9" y2="385.6"/>
<line x1="828.9" y1="387.5" x2="837" y2="387.5"/>
<line x1="837" y1="383.7" x2="845.1" y2="383.7"/>
<line x1="845.1" y1="382.5" x2="853.2" y2="382.5"/>
<line x1="853.2" y1="391.5" x2="861.3" y2="391.5"/>
<line x1="861.3" y1="400.6" x2="869.4" y2="400.6"/>
<line x1="869.4" y1="391.9" x2="877.5" y2="391.9"/>
<line x1="877.5" y1="407.2" x2="885.5" y2="407.2"/>
<line x1="893.6" y1="445.6" x2="901.7" y2="445.6"/>
<line x1="901.7" y1="395.8" x2="909.8" y2="395.8"/>
<line x1="909.8" y1="376.8" x2="917.9" y2="376.8"/>
<line x1="917.9" y1="375" x2="926" y2="375"/>
<line x1="926" y1="380.8" x2="934.1" y2="380.8"/>
<line x1="934.1" y1="369" x2="942.2" y2="369"/>
<line x1="942.2" y1="383.1" x2="950.3" y2="383.1"/>
<line x1="950.3" y1="374.3" x2="958.3" y2="374.3"/>
<line x1="958.3" y1="379" x2="966.4" y2="379"/>
<line x1="966.4" y1="380.2" x2="974.5" y2="380.2"/>
<line x1="974.5" y1="376.2" x2="982.6" y2="376.2"/>
<line x1="982.6" y1="380" x2="990.7" y2="380"/>
<line x1="990.7" y1="383.1" x2="998.8" y2="383.1"/>
<line x1="998.8" y1="376.8" x2="1006.9" y2="376.8"/>
<line x1="1006.9" y1="377.5" x2="1015" y2="377.5"/>
<line x1="1015" y1="388.1" x2="1023.1" y2="388.1"/>
<line x1="1023.1" y1="375.6" x2="1031.1" y2="375.6"/>
<line x1="1031.1" y1="378.7" x2="1039.2" y2="378.7"/>
<line x1="1039.2" y1="376.5" x2="1047.3" y2="376.5"/>
<line x1="1047.3" y1="373.1" x2="1055.4" y2="373.1"/>
<line x1="1055.4" y1="384.1" x2="1063.5" y2="384.1"/>
<line x1="1063.5" y1="378.3" x2="1071.6" y2="378.3"/>
<line x1="1071.6" y1="370.3" x2="1079.7" y2="370.3"/>
<line x1="1079.7" y1="374.7" x2="1087.8" y2="374.7"/>
<line x1="1087.8" y1="377.8" x2="1095.9" y2="377.8"/>
<line x1="1095.9" y1="384.7" x2="1103.9" y2="384.7"/>
<line x1="1103.9" y1="369" x2="1112" y2="369"/>
<line x1="1112" y1="371.2" x2="1120.1" y2="371.2"/>
<line x1="1120.1" y1="380" x2="1128.2" y2="380"/>
<line x1="1128.2" y1="364.6" x2="1136.3" y2="364.6"/>
<line x1="1136.3" y1="364.3" x2="1144.4" y2="364.3"/>
<line x1="1144.4" y1="363.7" x2="1152.5" y2="363.7"/>
<line x1="1152.5" y1="370.3" x2="1160.6" y2="370.3"/>
<line x1="1160.6" y1="385.2" x2="1168.7" y2="385.2"/>
<line x1="1168.7" y1="381.5" x2="1176.7" y2="381.5"/>
<line x1="1176.7" y1="361.5" x2="1184.8" y2="361.5"/>
<line x1="1184.8" y1="376.2" x2="1192.9" y2="376.2"/>
<line x1="1192.9" y1="378.1" x2="1201" y2="378.1"/>
<line x1="1201" y1="379" x2="1209.1" y2="379"/>
<line x1="1209.1" y1="381.8" x2="1217.2" y2="381.8"/>
<line x1="1217.2" y1="374" x2="1225.3" y2="374"/>
<line x1="1225.3" y1="390" x2="1233.4" y2="390"/>
<line x1="1233.4" y1="378.7" x2="1241.5" y2="378.7"/>
<line x1="1241.5" y1="374.7" x2="1249.5" y2="374.7"/>
<line x1="1249.5" y1="385.8" x2="1257.6" y2="385.8"/>
<line x1="1265.7" y1="386.2" x2="1273.8" y2="386.2"/>
<line x1="1273.8" y1="393.7" x2="1281.9" y2="393.7"/>
<line x1="1281.9" y1="382.7" x2="1290" y2="382.7"/>
<line x1="1290" y1="396.2" x2="1298.1" y2="396.2"/>
<line x1="1298.1" y1="391.9" x2="1306.2" y2="391.9"/>
<line x1="1306.2" y1="378.7" x2="1314.3" y2="378.7"/>
<line x1="1314.3" y1="395.8" x2="1322.4" y2="395.8"/>
<line x1="1322.4" y1="388.1" x2="1330.4" y2="388.1"/>
<line x1="1330.4" y1="400.8" x2="1338.5" y2="400.8"/>
<line x1="1338.5" y1="378.7" x2="1346.6" y2="378.7"/>
<line x1="1346.6" y1="392.2" x2="1354.7" y2="392.2"/>
<line x1="1354.7" y1="389.3" x2="1362.8" y2="389.3"/>
<line x1="1362.8" y1="385" x2="1370.9" y2="385"/>
<line x1="1370.9" y1="371.2" x2="1379" y2="371.2"/>
<line x1="1379" y1="390" x2="1387.1" y2="390"/>
<line x1="1387.1" y1="397.5" x2="1395.2" y2="397.5"/>
<line x1="1395.2" y1="396.8" x2="1403.2" y2="396.8"/>
<line x1="1403.2" y1="397.5" x2="1411.3" y2="397.5"/>
<line x1="1411.3" y1="384.3" x2="1419.4" y2="384.3"/>
<line x1="1419.4" y1="398.7" x2="1427.5" y2="398.7"/>
<line x1="1427.5" y1="398.1" x2="1435.6" y2="398.1"/>
<line x1="1435.6" y1="391.2" x2="1443.7" y2="391.2"/>
<line x1="1443.7" y1="399.3" x2="1451.8" y2="399.3"/>
<line x1="1451.8" y1="376.2" x2="1459.9" y2="376.2"/>
<line x1="1459.9" y1="389.3" x2="1468" y2="389.3"/>
<line x1="1468" y1="381.6" x2="1476" y2="381.6"/>
<line x1="1476" y1="403.2" x2="1484.1" y2="403.2"/>
<line x1="1484.1" y1="386.2" x2="1492.2" y2="386.2"/>
<line x1="1492.2" y1="379.7" x2="1500.3" y2="379.7"/>
<line x1="1500.3" y1="407.1" x2="1508.4" y2="407.1"/>
</g>
<g stroke="#3c0420" stroke-width="1.6" fill="none">
<line x1="523.1" y1="369.4" x2="528" y2="374.3"/><line x1="523.1" y1="374.3" x2="528" y2="369.4"/>
<line x1="595.9" y1="393.8" x2="600.8" y2="398.7"/><line x1="595.9" y1="398.7" x2="600.8" y2="393.8"/>
<line x1="693" y1="384" x2="697.9" y2="388.9"/><line x1="693" y1="388.9" x2="697.9" y2="384"/>
<line x1="701.1" y1="383.5" x2="706" y2="388.4"/><line x1="701.1" y1="388.4" x2="706" y2="383.5"/>
<line x1="725.4" y1="386.5" x2="730.3" y2="391.4"/><line x1="725.4" y1="391.4" x2="730.3" y2="386.5"/>
<line x1="765.8" y1="402.3" x2="770.7" y2="407.2"/><line x1="765.8" y1="407.2" x2="770.7" y2="402.3"/>
<line x1="773.9" y1="375.3" x2="778.8" y2="380.2"/><line x1="773.9" y1="380.2" x2="778.8" y2="375.3"/>
<line x1="790.1" y1="374.8" x2="795" y2="379.7"/><line x1="790.1" y1="379.7" x2="795" y2="374.8"/>
<line x1="887.1" y1="377.8" x2="892" y2="382.7"/><line x1="887.1" y1="382.7" x2="892" y2="377.8"/>
<line x1="1259.2" y1="384" x2="1264.1" y2="388.9"/><line x1="1259.2" y1="388.9" x2="1264.1" y2="384"/>
</g>
<g fill="rgba(0,114,189,0.20)" stroke="rgba(0,114,189,0.85)" stroke-width="1.2">
<rect x="76.6" y="365.1" width="8.1" height="25"/>
<rect x="84.7" y="361.7" width="8.1" height="20.9"/>
<rect x="92.8" y="366.7" width="8.1" height="24.4"/>
<rect x="100.9" y="358.9" width="8.1" height="31.9"/>
<rect x="109" y="369.8" width="8.1" height="27.4"/>
<rect x="117.1" y="367.8" width="8.1" height="28.5"/>
<rect x="125.2" y="382.3" width="8.1" height="26.7"/>
<rect x="133.3" y="382.3" width="8.1" height="24.9"/>
<rect x="141.4" y="376.1" width="8.1" height="26.5"/>
<rect x="149.4" y="372.6" width="8.1" height="23.4"/>
<rect x="157.5" y="374.1" width="8.1" height="23.1"/>
<rect x="165.6" y="375.1" width="8.1" height="23.1"/>
<rect x="173.7" y="375.4" width="8.1" height="23.1"/>
<rect x="181.8" y="366.1" width="8.1" height="25.9"/>
<rect x="189.9" y="381.1" width="8.1" height="28.4"/>
<rect x="198" y="381.1" width="8.1" height="29.6"/>
<rect x="206.1" y="372" width="8.1" height="27.1"/>
<rect x="214.2" y="373.8" width="8.1" height="26.2"/>
<rect x="222.2" y="373.2" width="8.1" height="25"/>
<rect x="230.3" y="377" width="8.1" height="20"/>
<rect x="238.4" y="367" width="8.1" height="22.5"/>
<rect x="246.5" y="367.3" width="8.1" height="24"/>
<rect x="254.6" y="365.3" width="8.1" height="22.2"/>
<rect x="262.7" y="372" width="8.1" height="23.1"/>
<rect x="270.8" y="372" width="8.1" height="29.4"/>
<rect x="278.9" y="363.8" width="8.1" height="29.4"/>
<rect x="287" y="365.3" width="8.1" height="29.8"/>
<rect x="295" y="371.3" width="8.1" height="29"/>
<rect x="303.1" y="367.6" width="8.1" height="22.5"/>
<rect x="311.2" y="374.5" width="8.1" height="24"/>
<rect x="319.3" y="367" width="8.1" height="27.5"/>
<rect x="327.4" y="352.9" width="8.1" height="29.7"/>
<rect x="335.5" y="354.5" width="8.1" height="28.1"/>
<rect x="343.6" y="359.1" width="8.1" height="27.2"/>
<rect x="351.7" y="357" width="8.1" height="26.3"/>
<rect x="359.8" y="363.8" width="8.1" height="19.4"/>
<rect x="367.8" y="368.2" width="8.1" height="16.9"/>
<rect x="375.9" y="368.2" width="8.1" height="17.2"/>
<rect x="384" y="368.8" width="8.1" height="16.9"/>
<rect x="392.1" y="378.9" width="8.1" height="21"/>
<rect x="400.2" y="379.5" width="8.1" height="20"/>
<rect x="408.3" y="380.5" width="8.1" height="20.3"/>
<rect x="416.4" y="370.7" width="8.1" height="23.7"/>
<rect x="424.5" y="372" width="8.1" height="22.9"/>
<rect x="432.6" y="378.2" width="8.1" height="22.1"/>
<rect x="440.6" y="373" width="8.1" height="24.2"/>
<rect x="448.7" y="373.8" width="8.1" height="25.2"/>
<rect x="456.8" y="368.2" width="8.1" height="23.1"/>
<rect x="464.9" y="387" width="8.1" height="29.6"/>
<rect x="473" y="371.6" width="8.1" height="27.5"/>
<rect x="481.1" y="373.8" width="8.1" height="27.3"/>
<rect x="489.2" y="373.8" width="8.1" height="27.3"/>
<rect x="497.3" y="374.8" width="8.1" height="32.4"/>
<rect x="505.4" y="371.7" width="8.1" height="38.7"/>
<rect x="513.5" y="382.3" width="8.1" height="35.9"/>
<rect x="521.5" y="383.2" width="8.1" height="41.6"/>
<rect x="529.6" y="384.5" width="8.1" height="40.4"/>
<rect x="537.7" y="356.6" width="8.1" height="37.2"/>
<rect x="545.8" y="360.1" width="8.1" height="35"/>
<rect x="553.9" y="358.2" width="8.1" height="34.4"/>
<rect x="562" y="369.8" width="8.1" height="25.6"/>
<rect x="570.1" y="356.6" width="8.1" height="34.4"/>
<rect x="578.2" y="361" width="8.1" height="29.1"/>
<rect x="586.3" y="350.7" width="8.1" height="31.2"/>
<rect x="594.3" y="365.7" width="8.1" height="25"/>
<rect x="602.4" y="359.8" width="8.1" height="24"/>
<rect x="610.5" y="364.7" width="8.1" height="27.6"/>
<rect x="618.6" y="394.5" width="8.1" height="29.8"/>
<rect x="626.7" y="387.3" width="8.1" height="29"/>
<rect x="634.8" y="382.8" width="8.1" height="27.3"/>
<rect x="642.9" y="382.8" width="8.1" height="26.3"/>
<rect x="651" y="381.6" width="8.1" height="22.2"/>
<rect x="659.1" y="377.8" width="8.1" height="22.9"/>
<rect x="667.1" y="375.1" width="8.1" height="25.6"/>
<rect x="675.2" y="385.7" width="8.1" height="20.6"/>
<rect x="683.3" y="370.5" width="8.1" height="24.6"/>
<rect x="691.4" y="377" width="8.1" height="21.9"/>
<rect x="699.5" y="375.1" width="8.1" height="18.1"/>
<rect x="707.6" y="377" width="8.1" height="21.2"/>
<rect x="715.7" y="374.5" width="8.1" height="21.9"/>
<rect x="723.8" y="375.7" width="8.1" height="20.6"/>
<rect x="731.9" y="379.8" width="8.1" height="23"/>
<rect x="739.9" y="379.5" width="8.1" height="23.1"/>
<rect x="748" y="380.7" width="8.1" height="22.9"/>
<rect x="756.1" y="380.7" width="8.1" height="22.9"/>
<rect x="764.2" y="375.7" width="8.1" height="22.5"/>
<rect x="772.3" y="376.3" width="8.1" height="23.7"/>
<rect x="780.4" y="382.6" width="8.1" height="20"/>
<rect x="788.5" y="378.9" width="8.1" height="20.6"/>
<rect x="796.6" y="374.8" width="8.1" height="22.4"/>
<rect x="804.7" y="374.8" width="8.1" height="22.8"/>
<rect x="812.7" y="371" width="8.1" height="22.9"/>
<rect x="820.8" y="371" width="8.1" height="23.5"/>
<rect x="828.9" y="374.8" width="8.1" height="24"/>
<rect x="837" y="374.8" width="8.1" height="23.6"/>
<rect x="845.1" y="373" width="8.1" height="23.6"/>
<rect x="853.2" y="373.6" width="8.1" height="23.4"/>
<rect x="861.3" y="375.1" width="8.1" height="18.7"/>
<rect x="869.4" y="368.2" width="8.1" height="23.1"/>
<rect x="877.5" y="378.6" width="8.1" height="15.2"/>
<rect x="885.5" y="377.6" width="8.1" height="17.5"/>
<rect x="893.6" y="374.8" width="8.1" height="16.5"/>
<rect x="901.7" y="370.7" width="8.1" height="28.7"/>
<rect x="909.8" y="368.8" width="8.1" height="27.7"/>
<rect x="917.9" y="365.1" width="8.1" height="36.9"/>
<rect x="926" y="371.1" width="8.1" height="39.4"/>
<rect x="934.1" y="372" width="8.1" height="37.7"/>
<rect x="942.2" y="365.7" width="8.1" height="40.6"/>
<rect x="950.3" y="365.1" width="8.1" height="45.4"/>
<rect x="958.3" y="364.7" width="8.1" height="39.5"/>
<rect x="966.4" y="362.8" width="8.1" height="40.6"/>
<rect x="974.5" y="360.1" width="8.1" height="38.1"/>
<rect x="982.6" y="342.6" width="8.1" height="50.6"/>
<rect x="990.7" y="341.6" width="8.1" height="47.5"/>
<rect x="998.8" y="340.7" width="8.1" height="46.3"/>
<rect x="1006.9" y="347.4" width="8.1" height="37.5"/>
<rect x="1015" y="349.1" width="8.1" height="36.6"/>
<rect x="1023.1" y="367" width="8.1" height="26.2"/>
<rect x="1031.1" y="349.1" width="8.1" height="38.5"/>
<rect x="1039.2" y="371.3" width="8.1" height="30.2"/>
<rect x="1047.3" y="372.6" width="8.1" height="30.6"/>
<rect x="1055.4" y="373" width="8.1" height="28.1"/>
<rect x="1063.5" y="371.6" width="8.1" height="32.5"/>
<rect x="1071.6" y="372.6" width="8.1" height="30"/>
<rect x="1079.7" y="368.6" width="8.1" height="32.1"/>
<rect x="1087.8" y="367.8" width="8.1" height="31"/>
<rect x="1095.9" y="368.6" width="8.1" height="27.4"/>
<rect x="1103.9" y="370.1" width="8.1" height="23.5"/>
<rect x="1112" y="371.3" width="8.1" height="24.7"/>
<rect x="1120.1" y="371.3" width="8.1" height="26.9"/>
<rect x="1128.2" y="372.6" width="8.1" height="27.5"/>
<rect x="1136.3" y="370.7" width="8.1" height="29.4"/>
<rect x="1144.4" y="370.1" width="8.1" height="29.8"/>
<rect x="1152.5" y="368.2" width="8.1" height="28.7"/>
<rect x="1160.6" y="377.6" width="8.1" height="28.7"/>
<rect x="1168.7" y="390.1" width="8.1" height="30.4"/>
<rect x="1176.7" y="378.6" width="8.1" height="25.2"/>
<rect x="1184.8" y="377.6" width="8.1" height="23.7"/>
<rect x="1192.9" y="374.1" width="8.1" height="21.9"/>
<rect x="1201" y="375.7" width="8.1" height="24.6"/>
<rect x="1209.1" y="372" width="8.1" height="22.5"/>
<rect x="1217.2" y="368.8" width="8.1" height="22.2"/>
<rect x="1225.3" y="373.8" width="8.1" height="34"/>
<rect x="1233.4" y="378.2" width="8.1" height="16.9"/>
<rect x="1241.5" y="374.8" width="8.1" height="32.7"/>
<rect x="1249.5" y="382.6" width="8.1" height="15.6"/>
<rect x="1257.6" y="387.6" width="8.1" height="31.5"/>
<rect x="1265.7" y="386.3" width="8.1" height="27.8"/>
<rect x="1273.8" y="383.8" width="8.1" height="33.4"/>
<rect x="1281.9" y="379.5" width="8.1" height="31.5"/>
<rect x="1290" y="390.1" width="8.1" height="27.7"/>
<rect x="1298.1" y="381.1" width="8.1" height="34.2"/>
<rect x="1306.2" y="383.8" width="8.1" height="29.6"/>
<rect x="1314.3" y="392" width="8.1" height="33.1"/>
<rect x="1322.4" y="382" width="8.1" height="26.3"/>
<rect x="1330.4" y="375.7" width="8.1" height="31.9"/>
<rect x="1338.5" y="379.5" width="8.1" height="23.8"/>
<rect x="1346.6" y="379.5" width="8.1" height="20.9"/>
<rect x="1354.7" y="383.2" width="8.1" height="22.5"/>
<rect x="1362.8" y="385.7" width="8.1" height="26.5"/>
<rect x="1370.9" y="381.6" width="8.1" height="33.7"/>
<rect x="1379" y="372" width="8.1" height="30.6"/>
<rect x="1387.1" y="375.1" width="8.1" height="30"/>
<rect x="1395.2" y="375.7" width="8.1" height="31.5"/>
<rect x="1403.2" y="383.8" width="8.1" height="28.8"/>
<rect x="1411.3" y="380.7" width="8.1" height="22.5"/>
<rect x="1419.4" y="376.6" width="8.1" height="21"/>
<rect x="1427.5" y="379.5" width="8.1" height="20.9"/>
<rect x="1435.6" y="379.8" width="8.1" height="20.5"/>
<rect x="1443.7" y="378.9" width="8.1" height="21.2"/>
<rect x="1451.8" y="382.6" width="8.1" height="21"/>
<rect x="1459.9" y="382" width="8.1" height="21.2"/>
<rect x="1468" y="383.2" width="8.1" height="20"/>
<rect x="1476" y="385.7" width="8.1" height="20.6"/>
<rect x="1484.1" y="377" width="8.1" height="15.4"/>
<rect x="1492.2" y="378.2" width="8.1" height="14.1"/>
<rect x="1500.3" y="379.7" width="8.1" height="15.7"/>
</g>
<g stroke="rgb(0,114,189)" stroke-width="2.6">
<line x1="76.6" y1="376.6" x2="84.7" y2="376.6"/>
<line x1="84.7" y1="371.9" x2="92.8" y2="371.9"/>
<line x1="92.8" y1="378.9" x2="100.9" y2="378.9"/>
<line x1="100.9" y1="374.3" x2="109" y2="374.3"/>
<line x1="109" y1="383.7" x2="117.1" y2="383.7"/>
<line x1="117.1" y1="382.2" x2="125.2" y2="382.2"/>
<line x1="149.4" y1="384.7" x2="157.5" y2="384.7"/>
<line x1="157.5" y1="385.6" x2="165.6" y2="385.6"/>
<line x1="165.6" y1="385.7" x2="173.7" y2="385.7"/>
<line x1="173.7" y1="386.2" x2="181.8" y2="386.2"/>
<line x1="181.8" y1="378.9" x2="189.9" y2="378.9"/>
<line x1="206.1" y1="385.3" x2="214.2" y2="385.3"/>
<line x1="214.2" y1="387.1" x2="222.2" y2="387.1"/>
<line x1="222.2" y1="385.8" x2="230.3" y2="385.8"/>
<line x1="230.3" y1="387.4" x2="238.4" y2="387.4"/>
<line x1="238.4" y1="378.3" x2="246.5" y2="378.3"/>
<line x1="246.5" y1="379.6" x2="254.6" y2="379.6"/>
<line x1="254.6" y1="376.5" x2="262.7" y2="376.5"/>
<line x1="262.7" y1="383.5" x2="270.8" y2="383.5"/>
<line x1="270.8" y1="387.5" x2="278.9" y2="387.5"/>
<line x1="278.9" y1="378.2" x2="287" y2="378.2"/>
<line x1="287" y1="380.1" x2="295" y2="380.1"/>
<line x1="295" y1="385.3" x2="303.1" y2="385.3"/>
<line x1="303.1" y1="379.2" x2="311.2" y2="379.2"/>
<line x1="311.2" y1="386.1" x2="319.3" y2="386.1"/>
<line x1="319.3" y1="380.4" x2="327.4" y2="380.4"/>
<line x1="327.4" y1="367.5" x2="335.5" y2="367.5"/>
<line x1="335.5" y1="368.4" x2="343.6" y2="368.4"/>
<line x1="343.6" y1="372.5" x2="351.7" y2="372.5"/>
<line x1="351.7" y1="370" x2="359.8" y2="370"/>
<line x1="359.8" y1="373.4" x2="367.8" y2="373.4"/>
<line x1="367.8" y1="377" x2="375.9" y2="377"/>
<line x1="375.9" y1="376.9" x2="384" y2="376.9"/>
<line x1="384" y1="377.2" x2="392.1" y2="377.2"/>
<line x1="392.1" y1="389.5" x2="400.2" y2="389.5"/>
<line x1="400.2" y1="389" x2="408.3" y2="389"/>
<line x1="416.4" y1="382.5" x2="424.5" y2="382.5"/>
<line x1="424.5" y1="383.5" x2="432.6" y2="383.5"/>
<line x1="440.6" y1="384.9" x2="448.7" y2="384.9"/>
<line x1="448.7" y1="386.5" x2="456.8" y2="386.5"/>
<line x1="456.8" y1="379.6" x2="464.9" y2="379.6"/>
<line x1="464.9" y1="402.1" x2="473" y2="402.1"/>
<line x1="473" y1="385.3" x2="481.1" y2="385.3"/>
<line x1="481.1" y1="386.8" x2="489.2" y2="386.8"/>
<line x1="489.2" y1="386.8" x2="497.3" y2="386.8"/>
<line x1="513.5" y1="400.1" x2="521.5" y2="400.1"/>
<line x1="521.5" y1="404" x2="529.6" y2="404"/>
<line x1="529.6" y1="404.9" x2="537.7" y2="404.9"/>
<line x1="537.7" y1="375.2" x2="545.8" y2="375.2"/>
<line x1="545.8" y1="377.5" x2="553.9" y2="377.5"/>
<line x1="553.9" y1="375.3" x2="562" y2="375.3"/>
<line x1="562" y1="382.3" x2="570.1" y2="382.3"/>
<line x1="570.1" y1="373.5" x2="578.2" y2="373.5"/>
<line x1="578.2" y1="375.1" x2="586.3" y2="375.1"/>
<line x1="586.3" y1="365.8" x2="594.3" y2="365.8"/>
<line x1="594.3" y1="378.3" x2="602.4" y2="378.3"/>
<line x1="602.4" y1="371.5" x2="610.5" y2="371.5"/>
<line x1="610.5" y1="378.4" x2="618.6" y2="378.4"/>
<line x1="618.6" y1="409" x2="626.7" y2="409"/>
<line x1="626.7" y1="401.5" x2="634.8" y2="401.5"/>
<line x1="634.8" y1="396.2" x2="642.9" y2="396.2"/>
<line x1="642.9" y1="395.8" x2="651" y2="395.8"/>
<line x1="659.1" y1="389" x2="667.1" y2="389"/>
<line x1="667.1" y1="387.8" x2="675.2" y2="387.8"/>
<line x1="683.3" y1="382.5" x2="691.4" y2="382.5"/>
<line x1="691.4" y1="387.6" x2="699.5" y2="387.6"/>
<line x1="699.5" y1="385" x2="707.6" y2="385"/>
<line x1="707.6" y1="387.5" x2="715.7" y2="387.5"/>
<line x1="715.7" y1="385.5" x2="723.8" y2="385.5"/>
<line x1="723.8" y1="385.8" x2="731.9" y2="385.8"/>
<line x1="764.2" y1="387.1" x2="772.3" y2="387.1"/>
<line x1="772.3" y1="388.3" x2="780.4" y2="388.3"/>
<line x1="788.5" y1="389" x2="796.6" y2="389"/>
<line x1="796.6" y1="386.3" x2="804.7" y2="386.3"/>
<line x1="804.7" y1="386.2" x2="812.7" y2="386.2"/>
<line x1="812.7" y1="382.4" x2="820.8" y2="382.4"/>
<line x1="820.8" y1="382.5" x2="828.9" y2="382.5"/>
<line x1="828.9" y1="386.7" x2="837" y2="386.7"/>
<line x1="837" y1="386.1" x2="845.1" y2="386.1"/>
<line x1="845.1" y1="384.6" x2="853.2" y2="384.6"/>
<line x1="853.2" y1="384.9" x2="861.3" y2="384.9"/>
<line x1="861.3" y1="384" x2="869.4" y2="384"/>
<line x1="869.4" y1="379.9" x2="877.5" y2="379.9"/>
<line x1="877.5" y1="386" x2="885.5" y2="386"/>
<line x1="885.5" y1="386.5" x2="893.6" y2="386.5"/>
<line x1="893.6" y1="382.8" x2="901.7" y2="382.8"/>
<line x1="901.7" y1="385.3" x2="909.8" y2="385.3"/>
<line x1="909.8" y1="382.5" x2="917.9" y2="382.5"/>
<line x1="917.9" y1="383.2" x2="926" y2="383.2"/>
<line x1="934.1" y1="389.9" x2="942.2" y2="389.9"/>
<line x1="942.2" y1="386" x2="950.3" y2="386"/>
<line x1="950.3" y1="388.2" x2="958.3" y2="388.2"/>
<line x1="958.3" y1="384.3" x2="966.4" y2="384.3"/>
<line x1="966.4" y1="382.9" x2="974.5" y2="382.9"/>
<line x1="974.5" y1="378.9" x2="982.6" y2="378.9"/>
<line x1="982.6" y1="367.9" x2="990.7" y2="367.9"/>
<line x1="990.7" y1="365" x2="998.8" y2="365"/>
<line x1="998.8" y1="364.1" x2="1006.9" y2="364.1"/>
<line x1="1006.9" y1="365.9" x2="1015" y2="365.9"/>
<line x1="1015" y1="367.3" x2="1023.1" y2="367.3"/>
<line x1="1023.1" y1="379.8" x2="1031.1" y2="379.8"/>
<line x1="1031.1" y1="368.3" x2="1039.2" y2="368.3"/>
<line x1="1039.2" y1="386.5" x2="1047.3" y2="386.5"/>
<line x1="1047.3" y1="387.5" x2="1055.4" y2="387.5"/>
<line x1="1055.4" y1="387" x2="1063.5" y2="387"/>
<line x1="1063.5" y1="387.7" x2="1071.6" y2="387.7"/>
<line x1="1071.6" y1="387.3" x2="1079.7" y2="387.3"/>
<line x1="1079.7" y1="384.7" x2="1087.8" y2="384.7"/>
<line x1="1087.8" y1="383.1" x2="1095.9" y2="383.1"/>
<line x1="1095.9" y1="382.2" x2="1103.9" y2="382.2"/>
<line x1="1103.9" y1="381.6" x2="1112" y2="381.6"/>
<line x1="1112" y1="383.6" x2="1120.1" y2="383.6"/>
<line x1="1120.1" y1="384.7" x2="1128.2" y2="384.7"/>
<line x1="1128.2" y1="386.3" x2="1136.3" y2="386.3"/>
<line x1="1136.3" y1="385.9" x2="1144.4" y2="385.9"/>
<line x1="1144.4" y1="384.9" x2="1152.5" y2="384.9"/>
<line x1="1152.5" y1="382.6" x2="1160.6" y2="382.6"/>
<line x1="1168.7" y1="405.8" x2="1176.7" y2="405.8"/>
<line x1="1184.8" y1="389.6" x2="1192.9" y2="389.6"/>
<line x1="1192.9" y1="385.3" x2="1201" y2="385.3"/>
<line x1="1201" y1="387.6" x2="1209.1" y2="387.6"/>
<line x1="1209.1" y1="383.6" x2="1217.2" y2="383.6"/>
<line x1="1217.2" y1="380.1" x2="1225.3" y2="380.1"/>
<line x1="1225.3" y1="390.2" x2="1233.4" y2="390.2"/>
<line x1="1233.4" y1="386.9" x2="1241.5" y2="386.9"/>
<line x1="1241.5" y1="391.3" x2="1249.5" y2="391.3"/>
<line x1="1249.5" y1="391.1" x2="1257.6" y2="391.1"/>
<line x1="1257.6" y1="402.9" x2="1265.7" y2="402.9"/>
<line x1="1265.7" y1="399.9" x2="1273.8" y2="399.9"/>
<line x1="1273.8" y1="400.2" x2="1281.9" y2="400.2"/>
<line x1="1281.9" y1="395" x2="1290" y2="395"/>
<line x1="1290" y1="403.4" x2="1298.1" y2="403.4"/>
<line x1="1298.1" y1="398.1" x2="1306.2" y2="398.1"/>
<line x1="1306.2" y1="398.6" x2="1314.3" y2="398.6"/>
<line x1="1314.3" y1="408.2" x2="1322.4" y2="408.2"/>
<line x1="1322.4" y1="395.3" x2="1330.4" y2="395.3"/>
<line x1="1346.6" y1="389.9" x2="1354.7" y2="389.9"/>
<line x1="1362.8" y1="399.2" x2="1370.9" y2="399.2"/>
<line x1="1370.9" y1="398.4" x2="1379" y2="398.4"/>
<line x1="1379" y1="386.8" x2="1387.1" y2="386.8"/>
<line x1="1403.2" y1="397.9" x2="1411.3" y2="397.9"/>
<line x1="1419.4" y1="387.2" x2="1427.5" y2="387.2"/>
<line x1="1427.5" y1="389.7" x2="1435.6" y2="389.7"/>
<line x1="1435.6" y1="390.1" x2="1443.7" y2="390.1"/>
<line x1="1443.7" y1="389.2" x2="1451.8" y2="389.2"/>
<line x1="1468" y1="393.4" x2="1476" y2="393.4"/>
<line x1="1476" y1="395.7" x2="1484.1" y2="395.7"/>
<line x1="1484.1" y1="384.9" x2="1492.2" y2="384.9"/>
<line x1="1492.2" y1="385.8" x2="1500.3" y2="385.8"/>
<line x1="1500.3" y1="387.5" x2="1508.4" y2="387.5"/>
</g>
<g stroke="#0c0c74" stroke-width="1.6" fill="none">
<line x1="126.8" y1="393.4" x2="131.7" y2="398.3"/><line x1="126.8" y1="398.3" x2="131.7" y2="393.4"/>
<line x1="134.9" y1="392.1" x2="139.8" y2="397"/><line x1="134.9" y1="397" x2="139.8" y2="392.1"/>
<line x1="143" y1="386.5" x2="147.9" y2="391.4"/><line x1="143" y1="391.4" x2="147.9" y2="386.5"/>
<line x1="191.5" y1="392.5" x2="196.4" y2="397.4"/><line x1="191.5" y1="397.4" x2="196.4" y2="392.5"/>
<line x1="199.6" y1="393.2" x2="204.5" y2="398.1"/><line x1="199.6" y1="398.1" x2="204.5" y2="393.2"/>
<line x1="409.9" y1="387.8" x2="414.8" y2="392.7"/><line x1="409.9" y1="392.7" x2="414.8" y2="387.8"/>
<line x1="434.2" y1="386.7" x2="439.1" y2="391.6"/><line x1="434.2" y1="391.6" x2="439.1" y2="386.7"/>
<line x1="498.9" y1="388.6" x2="503.8" y2="393.5"/><line x1="498.9" y1="393.5" x2="503.8" y2="388.6"/>
<line x1="507" y1="388.7" x2="511.9" y2="393.6"/><line x1="507" y1="393.6" x2="511.9" y2="388.7"/>
<line x1="652.6" y1="390.1" x2="657.5" y2="395"/><line x1="652.6" y1="395" x2="657.5" y2="390.1"/>
<line x1="676.8" y1="393.3" x2="681.7" y2="398.2"/><line x1="676.8" y1="398.2" x2="681.7" y2="393.3"/>
<line x1="733.4" y1="388.6" x2="738.3" y2="393.5"/><line x1="733.4" y1="393.5" x2="738.3" y2="388.6"/>
<line x1="741.5" y1="388.3" x2="746.4" y2="393.2"/><line x1="741.5" y1="393.2" x2="746.4" y2="388.3"/>
<line x1="749.6" y1="389.8" x2="754.5" y2="394.7"/><line x1="749.6" y1="394.7" x2="754.5" y2="389.8"/>
<line x1="757.7" y1="389.6" x2="762.6" y2="394.5"/><line x1="757.7" y1="394.5" x2="762.6" y2="389.6"/>
<line x1="782" y1="390.2" x2="786.9" y2="395.1"/><line x1="782" y1="395.1" x2="786.9" y2="390.2"/>
<line x1="927.6" y1="388.1" x2="932.5" y2="393"/><line x1="927.6" y1="393" x2="932.5" y2="388.1"/>
<line x1="1162.2" y1="389.4" x2="1167.1" y2="394.3"/><line x1="1162.2" y1="394.3" x2="1167.1" y2="389.4"/>
<line x1="1178.3" y1="388.7" x2="1183.2" y2="393.6"/><line x1="1178.3" y1="393.6" x2="1183.2" y2="388.7"/>
<line x1="1332" y1="389" x2="1336.9" y2="393.9"/><line x1="1332" y1="393.9" x2="1336.9" y2="389"/>
<line x1="1340.1" y1="388.6" x2="1345" y2="393.5"/><line x1="1340.1" y1="393.5" x2="1345" y2="388.6"/>
<line x1="1356.3" y1="392.1" x2="1361.2" y2="397"/><line x1="1356.3" y1="397" x2="1361.2" y2="392.1"/>
<line x1="1388.7" y1="387.5" x2="1393.6" y2="392.4"/><line x1="1388.7" y1="392.4" x2="1393.6" y2="387.5"/>
<line x1="1396.7" y1="389" x2="1401.6" y2="393.9"/><line x1="1396.7" y1="393.9" x2="1401.6" y2="389"/>
<line x1="1412.9" y1="388.9" x2="1417.8" y2="393.8"/><line x1="1412.9" y1="393.8" x2="1417.8" y2="388.9"/>
<line x1="1453.4" y1="390.3" x2="1458.3" y2="395.2"/><line x1="1453.4" y1="395.2" x2="1458.3" y2="390.3"/>
<line x1="1461.5" y1="389.9" x2="1466.4" y2="394.8"/><line x1="1461.5" y1="394.8" x2="1466.4" y2="389.9"/>
</g>
<g fill="rgba(0,100,0,0.25)" stroke="rgba(0,100,0,0.80)" stroke-width="1.2">
<rect x="76.6" y="771.8" width="8.1" height="22.3"/>
<rect x="84.7" y="794.1" width="8.1" height="12.4"/>
<rect x="92.8" y="794.1" width="8.1" height="41.2"/>
<rect x="100.9" y="794.1" width="8.1" height="11.9"/>
<rect x="109" y="794.1" width="8.1" height="15.6"/>
<rect x="117.1" y="794.1" width="8.1" height="13.6"/>
<rect x="125.2" y="794.1" width="8.1" height="2.4"/>
<rect x="133.3" y="794.1" width="8.1" height="4.4"/>
<rect x="141.4" y="794.1" width="8.1" height="11.4"/>
<rect x="149.4" y="794.1" width="8.1" height="2.4"/>
<rect x="157.5" y="789.8" width="8.1" height="4.3"/>
<rect x="165.6" y="778" width="8.1" height="16.1"/>
<rect x="173.7" y="778.5" width="8.1" height="15.6"/>
<rect x="181.8" y="782" width="8.1" height="12.1"/>
<rect x="189.9" y="776.8" width="8.1" height="17.3"/>
<rect x="198" y="779" width="8.1" height="15.1"/>
<rect x="206.1" y="792.5" width="8.1" height="1.6"/>
<rect x="214.2" y="794.1" width="8.1" height="5.7"/>
<rect x="222.2" y="786.3" width="8.1" height="7.8"/>
<rect x="230.3" y="794.1" width="8.1" height="7.6"/>
<rect x="238.4" y="792.5" width="8.1" height="1.6"/>
<rect x="246.5" y="794.1" width="8.1" height="15.1"/>
<rect x="254.6" y="782" width="8.1" height="12.1"/>
<rect x="262.7" y="777.5" width="8.1" height="16.6"/>
<rect x="270.8" y="794.1" width="8.1" height="11.6"/>
<rect x="278.9" y="794.1" width="8.1" height="23.1"/>
<rect x="287" y="794.1" width="8.1" height="39.7"/>
<rect x="295" y="794.1" width="8.1" height="6.9"/>
<rect x="303.1" y="792" width="8.1" height="2.1"/>
<rect x="311.2" y="794.1" width="8.1" height="90.6"/>
<rect x="319.3" y="775.6" width="8.1" height="18.4"/>
<rect x="327.4" y="794.1" width="8.1" height="1.1"/>
<rect x="335.5" y="794.1" width="8.1" height="7.2"/>
<rect x="343.6" y="794.1" width="8.1" height="8.4"/>
<rect x="351.7" y="794.1" width="8.1" height="12.4"/>
<rect x="359.8" y="794.1" width="8.1" height="14.2"/>
<rect x="367.8" y="786" width="8.1" height="8.1"/>
<rect x="375.9" y="790.6" width="8.1" height="3.4"/>
<rect x="384" y="794.1" width="8.1" height="2.9"/>
<rect x="392.1" y="794.1" width="8.1" height="5.6"/>
<rect x="400.2" y="794.1" width="8.1" height="12.7"/>
<rect x="408.3" y="776" width="8.1" height="18.1"/>
<rect x="416.4" y="794.1" width="8.1" height="3.6"/>
<rect x="424.5" y="793.8" width="8.1" height="0.3"/>
<rect x="432.6" y="794.1" width="8.1" height="4.4"/>
<rect x="440.6" y="794.1" width="8.1" height="25.7"/>
<rect x="448.7" y="794.1" width="8.1" height="31.9"/>
<rect x="456.8" y="794.1" width="8.1" height="11.9"/>
<rect x="464.9" y="792" width="8.1" height="2.1"/>
<rect x="473" y="779.6" width="8.1" height="14.4"/>
<rect x="481.1" y="784" width="8.1" height="10.1"/>
<rect x="489.2" y="786.8" width="8.1" height="7.3"/>
<rect x="497.3" y="788" width="8.1" height="6.1"/>
<rect x="505.4" y="793.8" width="8.1" height="0.3"/>
<rect x="513.5" y="792.6" width="8.1" height="1.4"/>
<rect x="521.5" y="780.8" width="8.1" height="13.3"/>
<rect x="529.6" y="791.3" width="8.1" height="2.8"/>
<rect x="537.7" y="794.1" width="8.1" height="16.1"/>
<rect x="545.8" y="782" width="8.1" height="12.1"/>
<rect x="553.9" y="790.6" width="8.1" height="3.4"/>
<rect x="562" y="791" width="8.1" height="3.1"/>
<rect x="570.1" y="779" width="8.1" height="15.1"/>
<rect x="578.2" y="794.1" width="8.1" height="33.6"/>
<rect x="586.3" y="794.1" width="8.1" height="17.7"/>
<rect x="594.3" y="794.1" width="8.1" height="17.7"/>
<rect x="602.4" y="793.1" width="8.1" height="0.9"/>
<rect x="610.5" y="754.8" width="8.1" height="39.3"/>
<rect x="618.6" y="772.8" width="8.1" height="21.3"/>
<rect x="626.7" y="794.1" width="8.1" height="11.9"/>
<rect x="634.8" y="794.1" width="8.1" height="31.1"/>
<rect x="642.9" y="794.1" width="8.1" height="33.1"/>
<rect x="651" y="794.1" width="8.1" height="3.9"/>
<rect x="659.1" y="794.1" width="8.1" height="4.4"/>
<rect x="667.1" y="794.1" width="8.1" height="2.9"/>
<rect x="675.2" y="787.1" width="8.1" height="6.9"/>
<rect x="683.3" y="770" width="8.1" height="24.1"/>
<rect x="691.4" y="782.6" width="8.1" height="11.4"/>
<rect x="699.5" y="777.3" width="8.1" height="16.8"/>
<rect x="707.6" y="784.8" width="8.1" height="9.3"/>
<rect x="715.7" y="779.6" width="8.1" height="14.4"/>
<rect x="723.8" y="793.6" width="8.1" height="0.4"/>
<rect x="731.9" y="780.5" width="8.1" height="13.6"/>
<rect x="739.9" y="779" width="8.1" height="15.1"/>
<rect x="748" y="776.8" width="8.1" height="17.3"/>
<rect x="756.1" y="776" width="8.1" height="18.1"/>
<rect x="764.2" y="794.1" width="8.1" height="8.1"/>
<rect x="772.3" y="775.6" width="8.1" height="18.4"/>
<rect x="780.4" y="774" width="8.1" height="20.1"/>
<rect x="788.5" y="776.6" width="8.1" height="17.4"/>
<rect x="796.6" y="787.3" width="8.1" height="6.8"/>
<rect x="804.7" y="786" width="8.1" height="8.1"/>
<rect x="812.7" y="789" width="8.1" height="5.1"/>
<rect x="820.8" y="786" width="8.1" height="8.1"/>
<rect x="828.9" y="790" width="8.1" height="4.1"/>
<rect x="837" y="784.6" width="8.1" height="9.4"/>
<rect x="845.1" y="777.8" width="8.1" height="16.3"/>
<rect x="853.2" y="791.1" width="8.1" height="2.9"/>
<rect x="861.3" y="794.1" width="8.1" height="12.9"/>
<rect x="869.4" y="794.1" width="8.1" height="7.2"/>
<rect x="877.5" y="794.1" width="8.1" height="18.2"/>
<rect x="885.5" y="790.1" width="8.1" height="3.9"/>
<rect x="893.6" y="794.1" width="8.1" height="59.4"/>
<rect x="901.7" y="794.1" width="8.1" height="11.6"/>
<rect x="909.8" y="784.3" width="8.1" height="9.8"/>
<rect x="917.9" y="794" width="8.1" height="0.3"/>
<rect x="926" y="794.1" width="8.1" height="7.4"/>
<rect x="934.1" y="786.1" width="8.1" height="7.9"/>
<rect x="942.2" y="794.1" width="8.1" height="5.4"/>
<rect x="950.3" y="794" width="8.1" height="0.3"/>
<rect x="958.3" y="793.3" width="8.1" height="0.8"/>
<rect x="966.4" y="794.1" width="8.1" height="2.4"/>
<rect x="974.5" y="794.1" width="8.1" height="19.4"/>
<rect x="982.6" y="794.1" width="8.1" height="40.4"/>
<rect x="990.7" y="794.1" width="8.1" height="48.7"/>
<rect x="998.8" y="794.1" width="8.1" height="36.4"/>
<rect x="1006.9" y="794.1" width="8.1" height="21.6"/>
<rect x="1015" y="794.1" width="8.1" height="32.1"/>
<rect x="1023.1" y="794.1" width="8.1" height="10.7"/>
<rect x="1031.1" y="794.1" width="8.1" height="26.6"/>
<rect x="1039.2" y="793" width="8.1" height="1.1"/>
<rect x="1047.3" y="789.6" width="8.1" height="4.4"/>
<rect x="1055.4" y="794.1" width="8.1" height="7.6"/>
<rect x="1063.5" y="787.6" width="8.1" height="6.4"/>
<rect x="1071.6" y="778" width="8.1" height="16.1"/>
<rect x="1079.7" y="788.1" width="8.1" height="5.9"/>
<rect x="1087.8" y="792" width="8.1" height="2.1"/>
<rect x="1095.9" y="794.1" width="8.1" height="1.1"/>
<rect x="1103.9" y="783.1" width="8.1" height="10.9"/>
<rect x="1112" y="787.1" width="8.1" height="6.9"/>
<rect x="1120.1" y="794.1" width="8.1" height="6.4"/>
<rect x="1128.2" y="786" width="8.1" height="8.1"/>
<rect x="1136.3" y="783" width="8.1" height="11.1"/>
<rect x="1144.4" y="781.1" width="8.1" height="12.9"/>
<rect x="1152.5" y="788.8" width="8.1" height="5.3"/>
<rect x="1160.6" y="794.1" width="8.1" height="6.7"/>
<rect x="1168.7" y="794.1" width="8.1" height="8.4"/>
<rect x="1176.7" y="772.5" width="8.1" height="21.6"/>
<rect x="1184.8" y="790.1" width="8.1" height="3.9"/>
<rect x="1192.9" y="788.1" width="8.1" height="5.9"/>
<rect x="1201" y="786.3" width="8.1" height="7.8"/>
<rect x="1209.1" y="793.5" width="8.1" height="0.6"/>
<rect x="1217.2" y="785.3" width="8.1" height="8.8"/>
<rect x="1225.3" y="791.3" width="8.1" height="2.8"/>
<rect x="1233.4" y="785.8" width="8.1" height="8.3"/>
<rect x="1241.5" y="779.8" width="8.1" height="14.3"/>
<rect x="1249.5" y="794" width="8.1" height="0.3"/>
<rect x="1257.6" y="781.8" width="8.1" height="12.3"/>
<rect x="1265.7" y="782" width="8.1" height="12.1"/>
<rect x="1273.8" y="794.1" width="8.1" height="1.6"/>
<rect x="1281.9" y="786.3" width="8.1" height="7.8"/>
<rect x="1290" y="791" width="8.1" height="3.1"/>
<rect x="1298.1" y="794.1" width="8.1" height="1.4"/>
<rect x="1306.2" y="786.8" width="8.1" height="7.3"/>
<rect x="1314.3" y="794.1" width="8.1" height="21.4"/>
<rect x="1322.4" y="791.8" width="8.1" height="2.3"/>
<rect x="1330.4" y="794.1" width="8.1" height="17.7"/>
<rect x="1338.5" y="774.8" width="8.1" height="19.3"/>
<rect x="1346.6" y="794.1" width="8.1" height="3.6"/>
<rect x="1354.7" y="788.8" width="8.1" height="5.3"/>
<rect x="1362.8" y="784" width="8.1" height="10.1"/>
<rect x="1370.9" y="776.6" width="8.1" height="17.4"/>
<rect x="1379" y="786.8" width="8.1" height="7.3"/>
<rect x="1387.1" y="792.1" width="8.1" height="1.9"/>
<rect x="1395.2" y="791.1" width="8.1" height="2.9"/>
<rect x="1403.2" y="794.1" width="8.1" height="1.6"/>
<rect x="1411.3" y="789" width="8.1" height="5.1"/>
<rect x="1419.4" y="794.1" width="8.1" height="11.4"/>
<rect x="1427.5" y="794.1" width="8.1" height="11.1"/>
<rect x="1435.6" y="794.1" width="8.1" height="4.4"/>
<rect x="1443.7" y="794.1" width="8.1" height="10.2"/>
<rect x="1451.8" y="776.3" width="8.1" height="17.8"/>
<rect x="1459.9" y="791.5" width="8.1" height="2.6"/>
<rect x="1468" y="793.5" width="8.1" height="0.6"/>
<rect x="1476" y="794.1" width="8.1" height="23.1"/>
<rect x="1484.1" y="794.1" width="8.1" height="4.7"/>
<rect x="1492.2" y="791.1" width="8.1" height="2.9"/>
<rect x="1500.3" y="794.1" width="8.1" height="22.7"/>
</g>
<g fill="rgba(204,0,0,0.25)" stroke="rgba(204,0,0,0.80)" stroke-width="1.2">
<rect x="76.6" y="638.7" width="8.1" height="15.4"/>
<rect x="84.7" y="664.9" width="8.1" height="18.1"/>
<rect x="92.8" y="681.2" width="8.1" height="30.9"/>
<rect x="100.9" y="669.3" width="8.1" height="16.2"/>
<rect x="109" y="678.1" width="8.1" height="11.9"/>
<rect x="117.1" y="677.4" width="8.1" height="8.7"/>
<rect x="125.2" y="657.7" width="8.1" height="15.4"/>
<rect x="133.3" y="659.3" width="8.1" height="15.6"/>
<rect x="141.4" y="664.1" width="8.1" height="28.4"/>
<rect x="149.4" y="659.3" width="8.1" height="22.2"/>
<rect x="157.5" y="658.1" width="8.1" height="14.1"/>
<rect x="165.6" y="642.4" width="8.1" height="19.4"/>
<rect x="173.7" y="646.4" width="8.1" height="15.6"/>
<rect x="181.8" y="638.3" width="8.1" height="33.5"/>
<rect x="189.9" y="642.1" width="8.1" height="20"/>
<rect x="198" y="649.3" width="8.1" height="9.4"/>
<rect x="206.1" y="653.7" width="8.1" height="15"/>
<rect x="214.2" y="666.8" width="8.1" height="7.5"/>
<rect x="222.2" y="652.2" width="8.1" height="10.5"/>
<rect x="230.3" y="654.1" width="8.1" height="19"/>
<rect x="238.4" y="654.9" width="8.1" height="16.2"/>
<rect x="246.5" y="671.2" width="8.1" height="20"/>
<rect x="254.6" y="650.6" width="8.1" height="15.2"/>
<rect x="262.7" y="640.6" width="8.1" height="26.9"/>
<rect x="270.8" y="670.3" width="8.1" height="9.6"/>
<rect x="278.9" y="668.3" width="8.1" height="28.9"/>
<rect x="287" y="687.4" width="8.1" height="23.8"/>
<rect x="295" y="649.3" width="8.1" height="26.9"/>
<rect x="303.1" y="653.7" width="8.1" height="15.4"/>
<rect x="311.2" y="752.2" width="8.1" height="14.3"/>
<rect x="319.3" y="628.3" width="8.1" height="39.5"/>
<rect x="327.4" y="647.1" width="8.1" height="26.6"/>
<rect x="335.5" y="652.4" width="8.1" height="23.8"/>
<rect x="343.6" y="651.4" width="8.1" height="23.9"/>
<rect x="351.7" y="652.4" width="8.1" height="32.5"/>
<rect x="359.8" y="672.1" width="8.1" height="12.3"/>
<rect x="367.8" y="648.3" width="8.1" height="19.5"/>
<rect x="375.9" y="654.6" width="8.1" height="16.4"/>
<rect x="384" y="662.7" width="8.1" height="16.4"/>
<rect x="392.1" y="655.6" width="8.1" height="16.9"/>
<rect x="400.2" y="661.8" width="8.1" height="18.1"/>
<rect x="408.3" y="642.4" width="8.1" height="14.4"/>
<rect x="416.4" y="646.2" width="8.1" height="38.1"/>
<rect x="424.5" y="655.6" width="8.1" height="25.6"/>
<rect x="432.6" y="650.2" width="8.1" height="31.4"/>
<rect x="440.6" y="678.1" width="8.1" height="19.1"/>
<rect x="448.7" y="665.6" width="8.1" height="25.6"/>
<rect x="456.8" y="653.4" width="8.1" height="11.9"/>
<rect x="464.9" y="664.9" width="8.1" height="8.1"/>
<rect x="473" y="662.1" width="8.1" height="9.7"/>
<rect x="481.1" y="665.3" width="8.1" height="9.6"/>
<rect x="489.2" y="666.6" width="8.1" height="11.5"/>
<rect x="497.3" y="669.9" width="8.1" height="11.6"/>
<rect x="505.4" y="665.6" width="8.1" height="14.7"/>
<rect x="513.5" y="668.3" width="8.1" height="12.9"/>
<rect x="521.5" y="646" width="8.1" height="24.6"/>
<rect x="529.6" y="655.8" width="8.1" height="24.5"/>
<rect x="537.7" y="651.2" width="8.1" height="46.6"/>
<rect x="545.8" y="636.6" width="8.1" height="21.7"/>
<rect x="553.9" y="655.6" width="8.1" height="28.8"/>
<rect x="562" y="657.5" width="8.1" height="21"/>
<rect x="570.1" y="627.4" width="8.1" height="16.6"/>
<rect x="578.2" y="682.7" width="8.1" height="9.4"/>
<rect x="586.3" y="660" width="8.1" height="11.2"/>
<rect x="594.3" y="669.9" width="8.1" height="26.3"/>
<rect x="602.4" y="667.4" width="8.1" height="15.6"/>
<rect x="610.5" y="642.4" width="8.1" height="11.6"/>
<rect x="618.6" y="654" width="8.1" height="22.2"/>
<rect x="626.7" y="692.4" width="8.1" height="8.4"/>
<rect x="634.8" y="709.6" width="8.1" height="6.3"/>
<rect x="642.9" y="711.4" width="8.1" height="13.9"/>
<rect x="651" y="676.4" width="8.1" height="17.6"/>
<rect x="659.1" y="678.1" width="8.1" height="23.4"/>
<rect x="667.1" y="684.9" width="8.1" height="10.6"/>
<rect x="675.2" y="676.4" width="8.1" height="11.3"/>
<rect x="683.3" y="657.5" width="8.1" height="10"/>
<rect x="691.4" y="667.4" width="8.1" height="11.9"/>
<rect x="699.5" y="666.2" width="8.1" height="13.1"/>
<rect x="707.6" y="665.3" width="8.1" height="13"/>
<rect x="715.7" y="655.8" width="8.1" height="13.5"/>
<rect x="723.8" y="670.3" width="8.1" height="11.5"/>
<rect x="731.9" y="666.6" width="8.1" height="10.9"/>
<rect x="739.9" y="663.3" width="8.1" height="13.1"/>
<rect x="748" y="662.4" width="8.1" height="11.9"/>
<rect x="756.1" y="662.4" width="8.1" height="11.6"/>
<rect x="764.2" y="678.1" width="8.1" height="26.6"/>
<rect x="772.3" y="654.6" width="8.1" height="19.7"/>
<rect x="780.4" y="654.6" width="8.1" height="19.1"/>
<rect x="788.5" y="653.7" width="8.1" height="20.6"/>
<rect x="796.6" y="668.1" width="8.1" height="16.2"/>
<rect x="804.7" y="665.3" width="8.1" height="15.2"/>
<rect x="812.7" y="671.8" width="8.1" height="8.8"/>
<rect x="820.8" y="666.4" width="8.1" height="11.6"/>
<rect x="828.9" y="669.9" width="8.1" height="8.8"/>
<rect x="837" y="666.2" width="8.1" height="8.8"/>
<rect x="845.1" y="665.6" width="8.1" height="7.5"/>
<rect x="853.2" y="673.1" width="8.1" height="10.9"/>
<rect x="861.3" y="668.7" width="8.1" height="38.1"/>
<rect x="869.4" y="665.3" width="8.1" height="26.7"/>
<rect x="877.5" y="685.6" width="8.1" height="17.5"/>
<rect x="885.5" y="643.3" width="8.1" height="47.9"/>
<rect x="893.6" y="724.3" width="8.1" height="16.2"/>
<rect x="901.7" y="678.1" width="8.1" height="8.8"/>
<rect x="909.8" y="659.3" width="8.1" height="8.8"/>
<rect x="917.9" y="656.5" width="8.1" height="11"/>
<rect x="926" y="663.7" width="8.1" height="8.1"/>
<rect x="934.1" y="651.4" width="8.1" height="8.7"/>
<rect x="942.2" y="664.9" width="8.1" height="9.4"/>
<rect x="950.3" y="656.8" width="8.1" height="9.4"/>
<rect x="958.3" y="661.8" width="8.1" height="8.1"/>
<rect x="966.4" y="661.6" width="8.1" height="10.5"/>
<rect x="974.5" y="654.9" width="8.1" height="15.6"/>
<rect x="982.6" y="659.3" width="8.1" height="14"/>
<rect x="990.7" y="662.8" width="8.1" height="14.6"/>
<rect x="998.8" y="657.8" width="8.1" height="14"/>
<rect x="1006.9" y="651.2" width="8.1" height="25.6"/>
<rect x="1015" y="663.1" width="8.1" height="23.1"/>
<rect x="1023.1" y="654.6" width="8.1" height="15.4"/>
<rect x="1031.1" y="658.3" width="8.1" height="14.1"/>
<rect x="1039.2" y="656.8" width="8.1" height="13.1"/>
<rect x="1047.3" y="649.6" width="8.1" height="21"/>
<rect x="1055.4" y="665.6" width="8.1" height="11.2"/>
<rect x="1063.5" y="655.6" width="8.1" height="19.4"/>
<rect x="1071.6" y="648.3" width="8.1" height="18.3"/>
<rect x="1079.7" y="654.3" width="8.1" height="14.8"/>
<rect x="1087.8" y="658.7" width="8.1" height="11.9"/>
<rect x="1095.9" y="665.3" width="8.1" height="12.7"/>
<rect x="1103.9" y="652.4" width="8.1" height="7.3"/>
<rect x="1112" y="652.4" width="8.1" height="11.2"/>
<rect x="1120.1" y="659.7" width="8.1" height="14.4"/>
<rect x="1128.2" y="644.6" width="8.1" height="13.9"/>
<rect x="1136.3" y="645.3" width="8.1" height="10"/>
<rect x="1144.4" y="646.2" width="8.1" height="8.8"/>
<rect x="1152.5" y="651.2" width="8.1" height="11.9"/>
<rect x="1160.6" y="662.1" width="8.1" height="19.5"/>
<rect x="1168.7" y="656.2" width="8.1" height="24.1"/>
<rect x="1176.7" y="635.2" width="8.1" height="26"/>
<rect x="1184.8" y="653.3" width="8.1" height="19.7"/>
<rect x="1192.9" y="657.5" width="8.1" height="14.4"/>
<rect x="1201" y="649.3" width="8.1" height="33.4"/>
<rect x="1209.1" y="663.1" width="8.1" height="11.2"/>
<rect x="1217.2" y="654.3" width="8.1" height="13.1"/>
<rect x="1225.3" y="666.8" width="8.1" height="20"/>
<rect x="1233.4" y="653.1" width="8.1" height="24.6"/>
<rect x="1241.5" y="657.5" width="8.1" height="8.1"/>
<rect x="1249.5" y="668.7" width="8.1" height="8.1"/>
<rect x="1257.6" y="669.9" width="8.1" height="7.1"/>
<rect x="1265.7" y="669.3" width="8.1" height="7.5"/>
<rect x="1273.8" y="675.6" width="8.1" height="11.3"/>
<rect x="1281.9" y="664.3" width="8.1" height="10.6"/>
<rect x="1290" y="678.7" width="8.1" height="8.7"/>
<rect x="1298.1" y="673.1" width="8.1" height="11.3"/>
<rect x="1306.2" y="660.6" width="8.1" height="9.4"/>
<rect x="1314.3" y="672.4" width="8.1" height="20.6"/>
<rect x="1322.4" y="667.1" width="8.1" height="16"/>
<rect x="1330.4" y="683.1" width="8.1" height="10"/>
<rect x="1338.5" y="654.3" width="8.1" height="23.1"/>
<rect x="1346.6" y="673.1" width="8.1" height="11.3"/>
<rect x="1354.7" y="670.6" width="8.1" height="11.9"/>
<rect x="1362.8" y="665.6" width="8.1" height="11.9"/>
<rect x="1370.9" y="648.3" width="8.1" height="19.1"/>
<rect x="1379" y="671.8" width="8.1" height="10.9"/>
<rect x="1387.1" y="680.6" width="8.1" height="7.5"/>
<rect x="1395.2" y="676.8" width="8.1" height="13.7"/>
<rect x="1403.2" y="672.4" width="8.1" height="23.8"/>
<rect x="1411.3" y="668.1" width="8.1" height="6.9"/>
<rect x="1419.4" y="675.3" width="8.1" height="20.3"/>
<rect x="1427.5" y="679.9" width="8.1" height="10.4"/>
<rect x="1435.6" y="673.1" width="8.1" height="9.4"/>
<rect x="1443.7" y="683.1" width="8.1" height="6.2"/>
<rect x="1451.8" y="654.9" width="8.1" height="16.9"/>
<rect x="1459.9" y="671.8" width="8.1" height="11.3"/>
<rect x="1468" y="662.1" width="8.1" height="12.9"/>
<rect x="1476" y="678.1" width="8.1" height="22.8"/>
<rect x="1484.1" y="669.9" width="8.1" height="6.3"/>
<rect x="1492.2" y="662.4" width="8.1" height="8.1"/>
<rect x="1500.3" y="686.4" width="8.1" height="15.1"/>
</g>
<g stroke="rgb(204,0,0)" stroke-width="2.6">
<line x1="76.6" y1="645.8" x2="84.7" y2="645.8"/>
<line x1="84.7" y1="674.1" x2="92.8" y2="674.1"/>
<line x1="92.8" y1="696.6" x2="100.9" y2="696.6"/>
<line x1="100.9" y1="677.4" x2="109" y2="677.4"/>
<line x1="109" y1="684.3" x2="117.1" y2="684.3"/>
<line x1="117.1" y1="681.8" x2="125.2" y2="681.8"/>
<line x1="125.2" y1="665.3" x2="133.3" y2="665.3"/>
<line x1="133.3" y1="667.1" x2="141.4" y2="667.1"/>
<line x1="141.4" y1="678.3" x2="149.4" y2="678.3"/>
<line x1="149.4" y1="670.6" x2="157.5" y2="670.6"/>
<line x1="157.5" y1="665.2" x2="165.6" y2="665.2"/>
<line x1="165.6" y1="651.8" x2="173.7" y2="651.8"/>
<line x1="173.7" y1="654.3" x2="181.8" y2="654.3"/>
<line x1="181.8" y1="654.9" x2="189.9" y2="654.9"/>
<line x1="189.9" y1="652.1" x2="198" y2="652.1"/>
<line x1="198" y1="654.1" x2="206.1" y2="654.1"/>
<line x1="206.1" y1="661" x2="214.2" y2="661"/>
<line x1="214.2" y1="671.8" x2="222.2" y2="671.8"/>
<line x1="222.2" y1="657.5" x2="230.3" y2="657.5"/>
<line x1="230.3" y1="663.3" x2="238.4" y2="663.3"/>
<line x1="238.4" y1="663.1" x2="246.5" y2="663.1"/>
<line x1="246.5" y1="681.6" x2="254.6" y2="681.6"/>
<line x1="254.6" y1="658.1" x2="262.7" y2="658.1"/>
<line x1="262.7" y1="654" x2="270.8" y2="654"/>
<line x1="270.8" y1="675.3" x2="278.9" y2="675.3"/>
<line x1="278.9" y1="682.7" x2="287" y2="682.7"/>
<line x1="287" y1="699.3" x2="295" y2="699.3"/>
<line x1="295" y1="662.4" x2="303.1" y2="662.4"/>
<line x1="303.1" y1="661.6" x2="311.2" y2="661.6"/>
<line x1="311.2" y1="758.9" x2="319.3" y2="758.9"/>
<line x1="319.3" y1="647.8" x2="327.4" y2="647.8"/>
<line x1="327.4" y1="660.6" x2="335.5" y2="660.6"/>
<line x1="335.5" y1="664.3" x2="343.6" y2="664.3"/>
<line x1="343.6" y1="663.1" x2="351.7" y2="663.1"/>
<line x1="351.7" y1="669.1" x2="359.8" y2="669.1"/>
<line x1="359.8" y1="678.3" x2="367.8" y2="678.3"/>
<line x1="367.8" y1="658.1" x2="375.9" y2="658.1"/>
<line x1="375.9" y1="662.7" x2="384" y2="662.7"/>
<line x1="384" y1="670.6" x2="392.1" y2="670.6"/>
<line x1="392.1" y1="664.3" x2="400.2" y2="664.3"/>
<line x1="400.2" y1="670.6" x2="408.3" y2="670.6"/>
<line x1="408.3" y1="649.6" x2="416.4" y2="649.6"/>
<line x1="416.4" y1="665.3" x2="424.5" y2="665.3"/>
<line x1="424.5" y1="668.3" x2="432.6" y2="668.3"/>
<line x1="432.6" y1="665.3" x2="440.6" y2="665.3"/>
<line x1="440.6" y1="687.2" x2="448.7" y2="687.2"/>
<line x1="448.7" y1="678.7" x2="456.8" y2="678.7"/>
<line x1="456.8" y1="659.3" x2="464.9" y2="659.3"/>
<line x1="464.9" y1="669.1" x2="473" y2="669.1"/>
<line x1="473" y1="666.8" x2="481.1" y2="666.8"/>
<line x1="481.1" y1="669.9" x2="489.2" y2="669.9"/>
<line x1="489.2" y1="672.4" x2="497.3" y2="672.4"/>
<line x1="497.3" y1="675.8" x2="505.4" y2="675.8"/>
<line x1="505.4" y1="672.4" x2="513.5" y2="672.4"/>
<line x1="513.5" y1="674.9" x2="521.5" y2="674.9"/>
<line x1="529.6" y1="668.3" x2="537.7" y2="668.3"/>
<line x1="537.7" y1="674.6" x2="545.8" y2="674.6"/>
<line x1="545.8" y1="647.4" x2="553.9" y2="647.4"/>
<line x1="553.9" y1="669.9" x2="562" y2="669.9"/>
<line x1="562" y1="667.8" x2="570.1" y2="667.8"/>
<line x1="570.1" y1="635.6" x2="578.2" y2="635.6"/>
<line x1="578.2" y1="687.2" x2="586.3" y2="687.2"/>
<line x1="586.3" y1="665.8" x2="594.3" y2="665.8"/>
<line x1="602.4" y1="674.9" x2="610.5" y2="674.9"/>
<line x1="610.5" y1="648.3" x2="618.6" y2="648.3"/>
<line x1="618.6" y1="664.9" x2="626.7" y2="664.9"/>
<line x1="626.7" y1="696.6" x2="634.8" y2="696.6"/>
<line x1="634.8" y1="712.7" x2="642.9" y2="712.7"/>
<line x1="642.9" y1="718.3" x2="651" y2="718.3"/>
<line x1="651" y1="685.2" x2="659.1" y2="685.2"/>
<line x1="659.1" y1="689.9" x2="667.1" y2="689.9"/>
<line x1="667.1" y1="690.3" x2="675.2" y2="690.3"/>
<line x1="675.2" y1="681.8" x2="683.3" y2="681.8"/>
<line x1="683.3" y1="662.4" x2="691.4" y2="662.4"/>
<line x1="707.6" y1="671.8" x2="715.7" y2="671.8"/>
<line x1="715.7" y1="662.1" x2="723.8" y2="662.1"/>
<line x1="731.9" y1="672.1" x2="739.9" y2="672.1"/>
<line x1="739.9" y1="670.2" x2="748" y2="670.2"/>
<line x1="748" y1="668.7" x2="756.1" y2="668.7"/>
<line x1="756.1" y1="668.3" x2="764.2" y2="668.3"/>
<line x1="780.4" y1="663.7" x2="788.5" y2="663.7"/>
<line x1="796.6" y1="676.2" x2="804.7" y2="676.2"/>
<line x1="804.7" y1="672.8" x2="812.7" y2="672.8"/>
<line x1="812.7" y1="676.2" x2="820.8" y2="676.2"/>
<line x1="820.8" y1="672.4" x2="828.9" y2="672.4"/>
<line x1="828.9" y1="674.3" x2="837" y2="674.3"/>
<line x1="837" y1="670.6" x2="845.1" y2="670.6"/>
<line x1="845.1" y1="669.3" x2="853.2" y2="669.3"/>
<line x1="853.2" y1="678.3" x2="861.3" y2="678.3"/>
<line x1="861.3" y1="687.4" x2="869.4" y2="687.4"/>
<line x1="869.4" y1="678.7" x2="877.5" y2="678.7"/>
<line x1="877.5" y1="694.1" x2="885.5" y2="694.1"/>
<line x1="893.6" y1="732.4" x2="901.7" y2="732.4"/>
<line x1="901.7" y1="682.7" x2="909.8" y2="682.7"/>
<line x1="909.8" y1="663.7" x2="917.9" y2="663.7"/>
<line x1="917.9" y1="661.8" x2="926" y2="661.8"/>
<line x1="926" y1="667.7" x2="934.1" y2="667.7"/>
<line x1="934.1" y1="655.8" x2="942.2" y2="655.8"/>
<line x1="942.2" y1="669.9" x2="950.3" y2="669.9"/>
<line x1="950.3" y1="661.2" x2="958.3" y2="661.2"/>
<line x1="958.3" y1="665.8" x2="966.4" y2="665.8"/>
<line x1="966.4" y1="667.1" x2="974.5" y2="667.1"/>
<line x1="974.5" y1="663.1" x2="982.6" y2="663.1"/>
<line x1="982.6" y1="666.8" x2="990.7" y2="666.8"/>
<line x1="990.7" y1="669.9" x2="998.8" y2="669.9"/>
<line x1="998.8" y1="663.7" x2="1006.9" y2="663.7"/>
<line x1="1006.9" y1="664.3" x2="1015" y2="664.3"/>
<line x1="1015" y1="674.9" x2="1023.1" y2="674.9"/>
<line x1="1023.1" y1="662.4" x2="1031.1" y2="662.4"/>
<line x1="1031.1" y1="665.6" x2="1039.2" y2="665.6"/>
<line x1="1039.2" y1="663.3" x2="1047.3" y2="663.3"/>
<line x1="1047.3" y1="660" x2="1055.4" y2="660"/>
<line x1="1055.4" y1="670.9" x2="1063.5" y2="670.9"/>
<line x1="1063.5" y1="665.2" x2="1071.6" y2="665.2"/>
<line x1="1071.6" y1="657.2" x2="1079.7" y2="657.2"/>
<line x1="1079.7" y1="661.6" x2="1087.8" y2="661.6"/>
<line x1="1087.8" y1="664.7" x2="1095.9" y2="664.7"/>
<line x1="1095.9" y1="671.6" x2="1103.9" y2="671.6"/>
<line x1="1103.9" y1="655.8" x2="1112" y2="655.8"/>
<line x1="1112" y1="658.1" x2="1120.1" y2="658.1"/>
<line x1="1120.1" y1="666.8" x2="1128.2" y2="666.8"/>
<line x1="1128.2" y1="651.4" x2="1136.3" y2="651.4"/>
<line x1="1136.3" y1="651.2" x2="1144.4" y2="651.2"/>
<line x1="1144.4" y1="650.6" x2="1152.5" y2="650.6"/>
<line x1="1152.5" y1="657.2" x2="1160.6" y2="657.2"/>
<line x1="1160.6" y1="672.1" x2="1168.7" y2="672.1"/>
<line x1="1168.7" y1="668.3" x2="1176.7" y2="668.3"/>
<line x1="1176.7" y1="648.3" x2="1184.8" y2="648.3"/>
<line x1="1184.8" y1="663.1" x2="1192.9" y2="663.1"/>
<line x1="1192.9" y1="664.9" x2="1201" y2="664.9"/>
<line x1="1201" y1="665.8" x2="1209.1" y2="665.8"/>
<line x1="1209.1" y1="668.7" x2="1217.2" y2="668.7"/>
<line x1="1217.2" y1="660.8" x2="1225.3" y2="660.8"/>
<line x1="1225.3" y1="676.8" x2="1233.4" y2="676.8"/>
<line x1="1233.4" y1="665.6" x2="1241.5" y2="665.6"/>
<line x1="1241.5" y1="661.6" x2="1249.5" y2="661.6"/>
<line x1="1249.5" y1="672.7" x2="1257.6" y2="672.7"/>
<line x1="1265.7" y1="673.1" x2="1273.8" y2="673.1"/>
<line x1="1273.8" y1="680.6" x2="1281.9" y2="680.6"/>
<line x1="1281.9" y1="669.6" x2="1290" y2="669.6"/>
<line x1="1290" y1="683.1" x2="1298.1" y2="683.1"/>
<line x1="1298.1" y1="678.7" x2="1306.2" y2="678.7"/>
<line x1="1306.2" y1="665.6" x2="1314.3" y2="665.6"/>
<line x1="1314.3" y1="682.7" x2="1322.4" y2="682.7"/>
<line x1="1322.4" y1="674.9" x2="1330.4" y2="674.9"/>
<line x1="1330.4" y1="687.7" x2="1338.5" y2="687.7"/>
<line x1="1338.5" y1="665.6" x2="1346.6" y2="665.6"/>
<line x1="1346.6" y1="679.1" x2="1354.7" y2="679.1"/>
<line x1="1354.7" y1="676.2" x2="1362.8" y2="676.2"/>
<line x1="1362.8" y1="671.8" x2="1370.9" y2="671.8"/>
<line x1="1370.9" y1="658.1" x2="1379" y2="658.1"/>
<line x1="1379" y1="676.8" x2="1387.1" y2="676.8"/>
<line x1="1387.1" y1="684.3" x2="1395.2" y2="684.3"/>
<line x1="1395.2" y1="683.7" x2="1403.2" y2="683.7"/>
<line x1="1403.2" y1="684.3" x2="1411.3" y2="684.3"/>
<line x1="1411.3" y1="671.2" x2="1419.4" y2="671.2"/>
<line x1="1419.4" y1="685.6" x2="1427.5" y2="685.6"/>
<line x1="1427.5" y1="684.9" x2="1435.6" y2="684.9"/>
<line x1="1435.6" y1="678.1" x2="1443.7" y2="678.1"/>
<line x1="1443.7" y1="686.2" x2="1451.8" y2="686.2"/>
<line x1="1451.8" y1="663.1" x2="1459.9" y2="663.1"/>
<line x1="1459.9" y1="676.2" x2="1468" y2="676.2"/>
<line x1="1468" y1="668.4" x2="1476" y2="668.4"/>
<line x1="1476" y1="690.1" x2="1484.1" y2="690.1"/>
<line x1="1484.1" y1="673.1" x2="1492.2" y2="673.1"/>
<line x1="1492.2" y1="666.6" x2="1500.3" y2="666.6"/>
<line x1="1500.3" y1="693.9" x2="1508.4" y2="693.9"/>
</g>
<g stroke="#3c0420" stroke-width="1.6" fill="none">
<line x1="523.1" y1="656.3" x2="528" y2="661.2"/><line x1="523.1" y1="661.2" x2="528" y2="656.3"/>
<line x1="595.9" y1="680.6" x2="600.8" y2="685.5"/><line x1="595.9" y1="685.5" x2="600.8" y2="680.6"/>
<line x1="693" y1="670.9" x2="697.9" y2="675.8"/><line x1="693" y1="675.8" x2="697.9" y2="670.9"/>
<line x1="701.1" y1="670.4" x2="706" y2="675.3"/><line x1="701.1" y1="675.3" x2="706" y2="670.4"/>
<line x1="725.4" y1="673.4" x2="730.3" y2="678.3"/><line x1="725.4" y1="678.3" x2="730.3" y2="673.4"/>
<line x1="765.8" y1="689.1" x2="770.7" y2="694"/><line x1="765.8" y1="694" x2="770.7" y2="689.1"/>
<line x1="773.9" y1="662.1" x2="778.8" y2="667"/><line x1="773.9" y1="667" x2="778.8" y2="662.1"/>
<line x1="790.1" y1="661.6" x2="795" y2="666.5"/><line x1="790.1" y1="666.5" x2="795" y2="661.6"/>
<line x1="887.1" y1="664.6" x2="892" y2="669.5"/><line x1="887.1" y1="669.5" x2="892" y2="664.6"/>
<line x1="1259.2" y1="670.9" x2="1264.1" y2="675.8"/><line x1="1259.2" y1="675.8" x2="1264.1" y2="670.9"/>
</g>
<g fill="rgba(0,114,189,0.20)" stroke="rgba(0,114,189,0.85)" stroke-width="1.2">
<rect x="76.6" y="653.7" width="8.1" height="29.9"/>
<rect x="84.7" y="650.6" width="8.1" height="22.7"/>
<rect x="92.8" y="643.6" width="8.1" height="23.5"/>
<rect x="100.9" y="650.6" width="8.1" height="30.5"/>
<rect x="109" y="653.3" width="8.1" height="30.9"/>
<rect x="117.1" y="653.3" width="8.1" height="30.6"/>
<rect x="125.2" y="648.3" width="8.1" height="29.4"/>
<rect x="133.3" y="647.4" width="8.1" height="30.9"/>
<rect x="141.4" y="652.4" width="8.1" height="29"/>
<rect x="149.4" y="654" width="8.1" height="28.1"/>
<rect x="157.5" y="655.6" width="8.1" height="28"/>
<rect x="165.6" y="654.3" width="8.1" height="28.8"/>
<rect x="173.7" y="655.6" width="8.1" height="28.6"/>
<rect x="181.8" y="654" width="8.1" height="27.1"/>
<rect x="189.9" y="652.7" width="8.1" height="33.7"/>
<rect x="198" y="652.3" width="8.1" height="34.5"/>
<rect x="206.1" y="647.7" width="8.1" height="30"/>
<rect x="214.2" y="649.6" width="8.1" height="30.9"/>
<rect x="222.2" y="651.4" width="8.1" height="28.1"/>
<rect x="230.3" y="642.1" width="8.1" height="28.1"/>
<rect x="238.4" y="652.1" width="8.1" height="25.6"/>
<rect x="246.5" y="653.7" width="8.1" height="26.5"/>
<rect x="254.6" y="658.3" width="8.1" height="25"/>
<rect x="262.7" y="656.5" width="8.1" height="28.5"/>
<rect x="270.8" y="648" width="8.1" height="31"/>
<rect x="278.9" y="644.2" width="8.1" height="31"/>
<rect x="287" y="643.1" width="8.1" height="33.4"/>
<rect x="295" y="641.7" width="8.1" height="28.5"/>
<rect x="303.1" y="651.1" width="8.1" height="24.1"/>
<rect x="311.2" y="655.2" width="8.1" height="27.5"/>
<rect x="319.3" y="651.7" width="8.1" height="29.7"/>
<rect x="327.4" y="642.1" width="8.1" height="33.7"/>
<rect x="335.5" y="640.8" width="8.1" height="33.7"/>
<rect x="343.6" y="640.2" width="8.1" height="30.6"/>
<rect x="351.7" y="641.4" width="8.1" height="30.6"/>
<rect x="359.8" y="654.3" width="8.1" height="19.6"/>
<rect x="367.8" y="657.7" width="8.1" height="17.5"/>
<rect x="375.9" y="657.7" width="8.1" height="17.8"/>
<rect x="384" y="659.2" width="8.1" height="18.3"/>
<rect x="392.1" y="649.6" width="8.1" height="18.7"/>
<rect x="400.2" y="649.3" width="8.1" height="19.2"/>
<rect x="408.3" y="657.1" width="8.1" height="21.9"/>
<rect x="416.4" y="649.6" width="8.1" height="23.8"/>
<rect x="424.5" y="655.6" width="8.1" height="22.8"/>
<rect x="432.6" y="648.9" width="8.1" height="24.4"/>
<rect x="440.6" y="649.8" width="8.1" height="23.9"/>
<rect x="448.7" y="634" width="8.1" height="25.4"/>
<rect x="456.8" y="635.6" width="8.1" height="24"/>
<rect x="464.9" y="654.9" width="8.1" height="33.1"/>
<rect x="473" y="666.8" width="8.1" height="29.6"/>
<rect x="481.1" y="665.8" width="8.1" height="28.4"/>
<rect x="489.2" y="665.8" width="8.1" height="28.4"/>
<rect x="497.3" y="665.8" width="8.1" height="31.6"/>
<rect x="505.4" y="651.7" width="8.1" height="42.2"/>
<rect x="513.5" y="656.8" width="8.1" height="39.6"/>
<rect x="521.5" y="651.4" width="8.1" height="40.4"/>
<rect x="529.6" y="651.1" width="8.1" height="40.4"/>
<rect x="537.7" y="639.6" width="8.1" height="39.4"/>
<rect x="545.8" y="640.8" width="8.1" height="37.5"/>
<rect x="553.9" y="655.8" width="8.1" height="35.6"/>
<rect x="562" y="657.7" width="8.1" height="26.5"/>
<rect x="570.1" y="628.9" width="8.1" height="43.1"/>
<rect x="578.2" y="636.5" width="8.1" height="35.6"/>
<rect x="586.3" y="633.3" width="8.1" height="30"/>
<rect x="594.3" y="652.4" width="8.1" height="25.5"/>
<rect x="602.4" y="661.4" width="8.1" height="29.4"/>
<rect x="610.5" y="672.7" width="8.1" height="29.4"/>
<rect x="618.6" y="670.8" width="8.1" height="31.3"/>
<rect x="626.7" y="668.1" width="8.1" height="34"/>
<rect x="634.8" y="666.4" width="8.1" height="30.6"/>
<rect x="642.9" y="669.8" width="8.1" height="30.4"/>
<rect x="651" y="668.6" width="8.1" height="25.4"/>
<rect x="659.1" y="671.7" width="8.1" height="29.7"/>
<rect x="667.1" y="673.1" width="8.1" height="29"/>
<rect x="675.2" y="676.4" width="8.1" height="25.4"/>
<rect x="683.3" y="671.7" width="8.1" height="29.4"/>
<rect x="691.4" y="670.8" width="8.1" height="27.8"/>
<rect x="699.5" y="677.1" width="8.1" height="23.1"/>
<rect x="707.6" y="668.6" width="8.1" height="25.4"/>
<rect x="715.7" y="663.9" width="8.1" height="26.6"/>
<rect x="723.8" y="663.6" width="8.1" height="25.4"/>
<rect x="731.9" y="672.7" width="8.1" height="26.9"/>
<rect x="739.9" y="672.1" width="8.1" height="26.5"/>
<rect x="748" y="673.1" width="8.1" height="25.5"/>
<rect x="756.1" y="673.1" width="8.1" height="26.7"/>
<rect x="764.2" y="670.8" width="8.1" height="25.6"/>
<rect x="772.3" y="670.2" width="8.1" height="25"/>
<rect x="780.4" y="672.7" width="8.1" height="21.9"/>
<rect x="788.5" y="670.8" width="8.1" height="21.9"/>
<rect x="796.6" y="672.1" width="8.1" height="22.2"/>
<rect x="804.7" y="667.7" width="8.1" height="26.6"/>
<rect x="812.7" y="668.6" width="8.1" height="25.7"/>
<rect x="820.8" y="667.7" width="8.1" height="26.3"/>
<rect x="828.9" y="665.6" width="8.1" height="26.5"/>
<rect x="837" y="666.8" width="8.1" height="27.1"/>
<rect x="845.1" y="673.3" width="8.1" height="24.7"/>
<rect x="853.2" y="668.9" width="8.1" height="25.4"/>
<rect x="861.3" y="666.8" width="8.1" height="16.5"/>
<rect x="869.4" y="659.6" width="8.1" height="24.4"/>
<rect x="877.5" y="666.8" width="8.1" height="17.8"/>
<rect x="885.5" y="662.3" width="8.1" height="18.2"/>
<rect x="893.6" y="663.7" width="8.1" height="19.6"/>
<rect x="901.7" y="656.7" width="8.1" height="29.1"/>
<rect x="909.8" y="659.6" width="8.1" height="28.1"/>
<rect x="917.9" y="643.9" width="8.1" height="35.4"/>
<rect x="926" y="641.8" width="8.1" height="37.1"/>
<rect x="934.1" y="644.6" width="8.1" height="38.7"/>
<rect x="942.2" y="642.7" width="8.1" height="43.1"/>
<rect x="950.3" y="637.3" width="8.1" height="45.4"/>
<rect x="958.3" y="644.8" width="8.1" height="44.1"/>
<rect x="966.4" y="642.7" width="8.1" height="43.8"/>
<rect x="974.5" y="624.6" width="8.1" height="38.4"/>
<rect x="982.6" y="598.1" width="8.1" height="57.1"/>
<rect x="990.7" y="593.1" width="8.1" height="56.7"/>
<rect x="998.8" y="599.3" width="8.1" height="56.2"/>
<rect x="1006.9" y="624.6" width="8.1" height="36.2"/>
<rect x="1015" y="625.2" width="8.1" height="35.6"/>
<rect x="1023.1" y="637.1" width="8.1" height="29.5"/>
<rect x="1031.1" y="621.1" width="8.1" height="36.1"/>
<rect x="1039.2" y="648.7" width="8.1" height="32.1"/>
<rect x="1047.3" y="649.6" width="8.1" height="30.9"/>
<rect x="1055.4" y="648.3" width="8.1" height="30.6"/>
<rect x="1063.5" y="655.8" width="8.1" height="33.1"/>
<rect x="1071.6" y="658.3" width="8.1" height="31.9"/>
<rect x="1079.7" y="651.7" width="8.1" height="32.5"/>
<rect x="1087.8" y="651.7" width="8.1" height="31.6"/>
<rect x="1095.9" y="657.7" width="8.1" height="26.5"/>
<rect x="1103.9" y="654" width="8.1" height="25.6"/>
<rect x="1112" y="653.3" width="8.1" height="24.4"/>
<rect x="1120.1" y="647.1" width="8.1" height="26.9"/>
<rect x="1128.2" y="645.2" width="8.1" height="30"/>
<rect x="1136.3" y="647.1" width="8.1" height="30"/>
<rect x="1144.4" y="648.3" width="8.1" height="30.9"/>
<rect x="1152.5" y="648.6" width="8.1" height="28.5"/>
<rect x="1160.6" y="651.7" width="8.1" height="27.9"/>
<rect x="1168.7" y="645.8" width="8.1" height="27.5"/>
<rect x="1176.7" y="658.3" width="8.1" height="24.6"/>
<rect x="1184.8" y="654.6" width="8.1" height="25.6"/>
<rect x="1192.9" y="658.9" width="8.1" height="23.5"/>
<rect x="1201" y="660" width="8.1" height="27.7"/>
<rect x="1209.1" y="656.5" width="8.1" height="24.4"/>
<rect x="1217.2" y="658.3" width="8.1" height="22.2"/>
<rect x="1225.3" y="659.3" width="8.1" height="41.5"/>
<rect x="1233.4" y="665.2" width="8.1" height="18.1"/>
<rect x="1241.5" y="658.9" width="8.1" height="33.8"/>
<rect x="1249.5" y="663.3" width="8.1" height="15.6"/>
<rect x="1257.6" y="667.7" width="8.1" height="37.1"/>
<rect x="1265.7" y="668.9" width="8.1" height="34.1"/>
<rect x="1273.8" y="660" width="8.1" height="38.4"/>
<rect x="1281.9" y="659.6" width="8.1" height="35.6"/>
<rect x="1290" y="670.8" width="8.1" height="31.3"/>
<rect x="1298.1" y="656.5" width="8.1" height="41.5"/>
<rect x="1306.2" y="656.8" width="8.1" height="33"/>
<rect x="1314.3" y="642.3" width="8.1" height="38.5"/>
<rect x="1322.4" y="662.1" width="8.1" height="31"/>
<rect x="1330.4" y="650.8" width="8.1" height="38.7"/>
<rect x="1338.5" y="673.6" width="8.1" height="23.5"/>
<rect x="1346.6" y="662.7" width="8.1" height="24.6"/>
<rect x="1354.7" y="667.7" width="8.1" height="27.9"/>
<rect x="1362.8" y="667.3" width="8.1" height="28.5"/>
<rect x="1370.9" y="658.3" width="8.1" height="35.2"/>
<rect x="1379" y="667.7" width="8.1" height="33.7"/>
<rect x="1387.1" y="669.6" width="8.1" height="34.4"/>
<rect x="1395.2" y="670.2" width="8.1" height="34"/>
<rect x="1403.2" y="665.6" width="8.1" height="33.6"/>
<rect x="1411.3" y="665.8" width="8.1" height="23.1"/>
<rect x="1419.4" y="662.7" width="8.1" height="22.5"/>
<rect x="1427.5" y="662.7" width="8.1" height="22.5"/>
<rect x="1435.6" y="662.7" width="8.1" height="21.9"/>
<rect x="1443.7" y="666.8" width="8.1" height="18.4"/>
<rect x="1451.8" y="671.4" width="8.1" height="19.4"/>
<rect x="1459.9" y="668.9" width="8.1" height="21.2"/>
<rect x="1468" y="657.7" width="8.1" height="22.1"/>
<rect x="1476" y="655.8" width="8.1" height="22.5"/>
<rect x="1484.1" y="660.6" width="8.1" height="15.5"/>
<rect x="1492.2" y="661.1" width="8.1" height="14.7"/>
<rect x="1500.3" y="662.7" width="8.1" height="17.2"/>
</g>
<g stroke="rgb(0,114,189)" stroke-width="2.6">
<line x1="76.6" y1="668.3" x2="84.7" y2="668.3"/>
<line x1="84.7" y1="661.9" x2="92.8" y2="661.9"/>
<line x1="92.8" y1="655.3" x2="100.9" y2="655.3"/>
<line x1="100.9" y1="665.6" x2="109" y2="665.6"/>
<line x1="109" y1="668.7" x2="117.1" y2="668.7"/>
<line x1="117.1" y1="668.2" x2="125.2" y2="668.2"/>
<line x1="125.2" y1="663" x2="133.3" y2="663"/>
<line x1="133.3" y1="662.7" x2="141.4" y2="662.7"/>
<line x1="141.4" y1="666.9" x2="149.4" y2="666.9"/>
<line x1="149.4" y1="668.4" x2="157.5" y2="668.4"/>
<line x1="157.5" y1="669.5" x2="165.6" y2="669.5"/>
<line x1="165.6" y1="668.2" x2="173.7" y2="668.2"/>
<line x1="173.7" y1="669.9" x2="181.8" y2="669.9"/>
<line x1="181.8" y1="667.1" x2="189.9" y2="667.1"/>
<line x1="189.9" y1="669.5" x2="198" y2="669.5"/>
<line x1="198" y1="669.4" x2="206.1" y2="669.4"/>
<line x1="206.1" y1="662.6" x2="214.2" y2="662.6"/>
<line x1="214.2" y1="665.6" x2="222.2" y2="665.6"/>
<line x1="222.2" y1="665.2" x2="230.3" y2="665.2"/>
<line x1="230.3" y1="655.8" x2="238.4" y2="655.8"/>
<line x1="238.4" y1="664.6" x2="246.5" y2="664.6"/>
<line x1="246.5" y1="666.6" x2="254.6" y2="666.6"/>
<line x1="254.6" y1="670.2" x2="262.7" y2="670.2"/>
<line x1="262.7" y1="670.4" x2="270.8" y2="670.4"/>
<line x1="270.8" y1="663.7" x2="278.9" y2="663.7"/>
<line x1="278.9" y1="659.6" x2="287" y2="659.6"/>
<line x1="287" y1="659.6" x2="295" y2="659.6"/>
<line x1="295" y1="655.7" x2="303.1" y2="655.7"/>
<line x1="303.1" y1="663.4" x2="311.2" y2="663.4"/>
<line x1="311.2" y1="668.6" x2="319.3" y2="668.6"/>
<line x1="319.3" y1="666.4" x2="327.4" y2="666.4"/>
<line x1="327.4" y1="659.4" x2="335.5" y2="659.4"/>
<line x1="335.5" y1="657.4" x2="343.6" y2="657.4"/>
<line x1="343.6" y1="654.9" x2="351.7" y2="654.9"/>
<line x1="351.7" y1="656.6" x2="359.8" y2="656.6"/>
<line x1="359.8" y1="664" x2="367.8" y2="664"/>
<line x1="367.8" y1="666.3" x2="375.9" y2="666.3"/>
<line x1="375.9" y1="666.3" x2="384" y2="666.3"/>
<line x1="384" y1="668" x2="392.1" y2="668"/>
<line x1="392.1" y1="658.9" x2="400.2" y2="658.9"/>
<line x1="400.2" y1="658.4" x2="408.3" y2="658.4"/>
<line x1="408.3" y1="667.5" x2="416.4" y2="667.5"/>
<line x1="416.4" y1="661.9" x2="424.5" y2="661.9"/>
<line x1="424.5" y1="667.5" x2="432.6" y2="667.5"/>
<line x1="432.6" y1="661.2" x2="440.6" y2="661.2"/>
<line x1="440.6" y1="661.6" x2="448.7" y2="661.6"/>
<line x1="448.7" y1="646.6" x2="456.8" y2="646.6"/>
<line x1="456.8" y1="647.7" x2="464.9" y2="647.7"/>
<line x1="464.9" y1="671.3" x2="473" y2="671.3"/>
<line x1="505.4" y1="672.7" x2="513.5" y2="672.7"/>
<line x1="521.5" y1="671.9" x2="529.6" y2="671.9"/>
<line x1="529.6" y1="671.3" x2="537.7" y2="671.3"/>
<line x1="537.7" y1="658.7" x2="545.8" y2="658.7"/>
<line x1="545.8" y1="659.4" x2="553.9" y2="659.4"/>
<line x1="553.9" y1="673.4" x2="562" y2="673.4"/>
<line x1="562" y1="670.9" x2="570.1" y2="670.9"/>
<line x1="570.1" y1="650.7" x2="578.2" y2="650.7"/>
<line x1="578.2" y1="653.9" x2="586.3" y2="653.9"/>
<line x1="586.3" y1="648.1" x2="594.3" y2="648.1"/>
<line x1="594.3" y1="665.4" x2="602.4" y2="665.4"/>
<line x1="602.4" y1="676" x2="610.5" y2="676"/>
<line x1="610.5" y1="687.5" x2="618.6" y2="687.5"/>
<line x1="618.6" y1="686.3" x2="626.7" y2="686.3"/>
<line x1="626.7" y1="684.6" x2="634.8" y2="684.6"/>
<line x1="634.8" y1="681.7" x2="642.9" y2="681.7"/>
<line x1="642.9" y1="685.2" x2="651" y2="685.2"/>
<line x1="659.1" y1="686" x2="667.1" y2="686"/>
<line x1="667.1" y1="687.2" x2="675.2" y2="687.2"/>
<line x1="675.2" y1="688.8" x2="683.3" y2="688.8"/>
<line x1="683.3" y1="686.5" x2="691.4" y2="686.5"/>
<line x1="691.4" y1="684.7" x2="699.5" y2="684.7"/>
<line x1="699.5" y1="689.3" x2="707.6" y2="689.3"/>
<line x1="731.9" y1="685.9" x2="739.9" y2="685.9"/>
<line x1="739.9" y1="685.6" x2="748" y2="685.6"/>
<line x1="748" y1="685.9" x2="756.1" y2="685.9"/>
<line x1="756.1" y1="686.4" x2="764.2" y2="686.4"/>
<line x1="764.2" y1="683.4" x2="772.3" y2="683.4"/>
<line x1="772.3" y1="683" x2="780.4" y2="683"/>
<line x1="780.4" y1="683.7" x2="788.5" y2="683.7"/>
<line x1="796.6" y1="683" x2="804.7" y2="683"/>
<line x1="804.7" y1="680.9" x2="812.7" y2="680.9"/>
<line x1="812.7" y1="681.2" x2="820.8" y2="681.2"/>
<line x1="820.8" y1="680.6" x2="828.9" y2="680.6"/>
<line x1="837" y1="680.1" x2="845.1" y2="680.1"/>
<line x1="845.1" y1="685.7" x2="853.2" y2="685.7"/>
<line x1="853.2" y1="681.4" x2="861.3" y2="681.4"/>
<line x1="861.3" y1="674.6" x2="869.4" y2="674.6"/>
<line x1="869.4" y1="671.6" x2="877.5" y2="671.6"/>
<line x1="877.5" y1="675.9" x2="885.5" y2="675.9"/>
<line x1="885.5" y1="671.2" x2="893.6" y2="671.2"/>
<line x1="893.6" y1="673.2" x2="901.7" y2="673.2"/>
<line x1="901.7" y1="671.2" x2="909.8" y2="671.2"/>
<line x1="909.8" y1="673.4" x2="917.9" y2="673.4"/>
<line x1="917.9" y1="661.9" x2="926" y2="661.9"/>
<line x1="926" y1="660.3" x2="934.1" y2="660.3"/>
<line x1="934.1" y1="663.9" x2="942.2" y2="663.9"/>
<line x1="942.2" y1="664.4" x2="950.3" y2="664.4"/>
<line x1="950.3" y1="660.4" x2="958.3" y2="660.4"/>
<line x1="958.3" y1="666.5" x2="966.4" y2="666.5"/>
<line x1="966.4" y1="664.9" x2="974.5" y2="664.9"/>
<line x1="974.5" y1="643.6" x2="982.6" y2="643.6"/>
<line x1="982.6" y1="626.3" x2="990.7" y2="626.3"/>
<line x1="990.7" y1="621.3" x2="998.8" y2="621.3"/>
<line x1="998.8" y1="627.4" x2="1006.9" y2="627.4"/>
<line x1="1006.9" y1="642.7" x2="1015" y2="642.7"/>
<line x1="1015" y1="642.9" x2="1023.1" y2="642.9"/>
<line x1="1023.1" y1="651.8" x2="1031.1" y2="651.8"/>
<line x1="1031.1" y1="639" x2="1039.2" y2="639"/>
<line x1="1039.2" y1="664.6" x2="1047.3" y2="664.6"/>
<line x1="1047.3" y1="664.5" x2="1055.4" y2="664.5"/>
<line x1="1055.4" y1="663.7" x2="1063.5" y2="663.7"/>
<line x1="1063.5" y1="671.9" x2="1071.6" y2="671.9"/>
<line x1="1071.6" y1="673.4" x2="1079.7" y2="673.4"/>
<line x1="1079.7" y1="667.6" x2="1087.8" y2="667.6"/>
<line x1="1087.8" y1="666.9" x2="1095.9" y2="666.9"/>
<line x1="1095.9" y1="670.7" x2="1103.9" y2="670.7"/>
<line x1="1103.9" y1="666.8" x2="1112" y2="666.8"/>
<line x1="1112" y1="665.1" x2="1120.1" y2="665.1"/>
<line x1="1120.1" y1="660.5" x2="1128.2" y2="660.5"/>
<line x1="1128.2" y1="659.6" x2="1136.3" y2="659.6"/>
<line x1="1136.3" y1="662.2" x2="1144.4" y2="662.2"/>
<line x1="1144.4" y1="663.7" x2="1152.5" y2="663.7"/>
<line x1="1152.5" y1="662.6" x2="1160.6" y2="662.6"/>
<line x1="1160.6" y1="665.3" x2="1168.7" y2="665.3"/>
<line x1="1168.7" y1="659.7" x2="1176.7" y2="659.7"/>
<line x1="1176.7" y1="670.1" x2="1184.8" y2="670.1"/>
<line x1="1184.8" y1="667.2" x2="1192.9" y2="667.2"/>
<line x1="1192.9" y1="670.9" x2="1201" y2="670.9"/>
<line x1="1201" y1="673.6" x2="1209.1" y2="673.6"/>
<line x1="1209.1" y1="669.3" x2="1217.2" y2="669.3"/>
<line x1="1217.2" y1="669.6" x2="1225.3" y2="669.6"/>
<line x1="1233.4" y1="673.9" x2="1241.5" y2="673.9"/>
<line x1="1241.5" y1="675.9" x2="1249.5" y2="675.9"/>
<line x1="1249.5" y1="672.4" x2="1257.6" y2="672.4"/>
<line x1="1257.6" y1="685.9" x2="1265.7" y2="685.9"/>
<line x1="1265.7" y1="685.5" x2="1273.8" y2="685.5"/>
<line x1="1290" y1="686.3" x2="1298.1" y2="686.3"/>
<line x1="1306.2" y1="672.8" x2="1314.3" y2="672.8"/>
<line x1="1314.3" y1="661.4" x2="1322.4" y2="661.4"/>
<line x1="1330.4" y1="669.9" x2="1338.5" y2="669.9"/>
<line x1="1338.5" y1="685" x2="1346.6" y2="685"/>
<line x1="1346.6" y1="675.3" x2="1354.7" y2="675.3"/>
<line x1="1370.9" y1="675.7" x2="1379" y2="675.7"/>
<line x1="1379" y1="684.1" x2="1387.1" y2="684.1"/>
<line x1="1387.1" y1="686.5" x2="1395.2" y2="686.5"/>
<line x1="1395.2" y1="686.8" x2="1403.2" y2="686.8"/>
<line x1="1403.2" y1="682.7" x2="1411.3" y2="682.7"/>
<line x1="1419.4" y1="673.9" x2="1427.5" y2="673.9"/>
<line x1="1427.5" y1="673.9" x2="1435.6" y2="673.9"/>
<line x1="1435.6" y1="673.6" x2="1443.7" y2="673.6"/>
<line x1="1443.7" y1="675.9" x2="1451.8" y2="675.9"/>
<line x1="1468" y1="668.8" x2="1476" y2="668.8"/>
<line x1="1476" y1="667" x2="1484.1" y2="667"/>
<line x1="1484.1" y1="668.3" x2="1492.2" y2="668.3"/>
<line x1="1492.2" y1="668.9" x2="1500.3" y2="668.9"/>
<line x1="1500.3" y1="671.3" x2="1508.4" y2="671.3"/>
</g>
<g stroke="#0c0c74" stroke-width="1.6" fill="none">
<line x1="474.6" y1="679" x2="479.5" y2="683.9"/><line x1="474.6" y1="683.9" x2="479.5" y2="679"/>
<line x1="482.7" y1="677.8" x2="487.6" y2="682.7"/><line x1="482.7" y1="682.7" x2="487.6" y2="677.8"/>
<line x1="490.8" y1="677.6" x2="495.7" y2="682.5"/><line x1="490.8" y1="682.5" x2="495.7" y2="677.6"/>
<line x1="498.9" y1="679.4" x2="503.8" y2="684.3"/><line x1="498.9" y1="684.3" x2="503.8" y2="679.4"/>
<line x1="515" y1="674.1" x2="519.9" y2="679"/><line x1="515" y1="679" x2="519.9" y2="674.1"/>
<line x1="652.6" y1="678.8" x2="657.5" y2="683.7"/><line x1="652.6" y1="683.7" x2="657.5" y2="678.8"/>
<line x1="709.2" y1="678.7" x2="714.1" y2="683.6"/><line x1="709.2" y1="683.6" x2="714.1" y2="678.7"/>
<line x1="717.3" y1="674.5" x2="722.2" y2="679.4"/><line x1="717.3" y1="679.4" x2="722.2" y2="674.5"/>
<line x1="725.4" y1="673.9" x2="730.3" y2="678.8"/><line x1="725.4" y1="678.8" x2="730.3" y2="673.9"/>
<line x1="790.1" y1="679.2" x2="795" y2="684.1"/><line x1="790.1" y1="684.1" x2="795" y2="679.2"/>
<line x1="830.5" y1="676" x2="835.4" y2="680.9"/><line x1="830.5" y1="680.9" x2="835.4" y2="676"/>
<line x1="1226.9" y1="677.4" x2="1231.8" y2="682.3"/><line x1="1226.9" y1="682.3" x2="1231.8" y2="677.4"/>
<line x1="1275.4" y1="676.8" x2="1280.3" y2="681.7"/><line x1="1275.4" y1="681.7" x2="1280.3" y2="676.8"/>
<line x1="1283.5" y1="675.1" x2="1288.4" y2="680"/><line x1="1283.5" y1="680" x2="1288.4" y2="675.1"/>
<line x1="1299.7" y1="674.9" x2="1304.6" y2="679.8"/><line x1="1299.7" y1="679.8" x2="1304.6" y2="674.9"/>
<line x1="1323.9" y1="674.9" x2="1328.8" y2="679.8"/><line x1="1323.9" y1="679.8" x2="1328.8" y2="674.9"/>
<line x1="1356.3" y1="679" x2="1361.2" y2="683.9"/><line x1="1356.3" y1="683.9" x2="1361.2" y2="679"/>
<line x1="1364.4" y1="679.3" x2="1369.3" y2="684.2"/><line x1="1364.4" y1="684.2" x2="1369.3" y2="679.3"/>
<line x1="1412.9" y1="674.4" x2="1417.8" y2="679.3"/><line x1="1412.9" y1="679.3" x2="1417.8" y2="674.4"/>
<line x1="1453.4" y1="678.5" x2="1458.3" y2="683.4"/><line x1="1453.4" y1="683.4" x2="1458.3" y2="678.5"/>
<line x1="1461.5" y1="676.7" x2="1466.4" y2="681.6"/><line x1="1461.5" y1="681.6" x2="1466.4" y2="676.7"/>
</g>
<line x1="1659.3" y1="98.6" x2="1956" y2="98.6" stroke="rgb(204,0,0)" stroke-width="2.3"/>
<line x1="1659.3" y1="103.3" x2="1956" y2="103.3" stroke="rgb(0,114,189)" stroke-width="2.3"/>
<line x1="1659.3" y1="213.7" x2="1956" y2="213.7" stroke="rgb(0,100,0)" stroke-width="2.3"/>
<g fill="rgba(204,0,0,0.25)" stroke="rgba(204,0,0,0.80)" stroke-width="1.2">
<rect x="1659.9" y="183.1" width="7.8" height="2.9"/>
<rect x="1659.9" y="157.3" width="7.8" height="2.9"/>
<rect x="1659.9" y="142.9" width="7.8" height="2.9"/>
<rect x="1659.9" y="137.2" width="7.8" height="2.9"/>
<rect x="1659.9" y="122.8" width="24.5" height="2.9"/>
<rect x="1659.9" y="120" width="16.2" height="2.9"/>
<rect x="1659.9" y="117.1" width="7.8" height="2.9"/>
<rect x="1659.9" y="114.2" width="24.5" height="2.9"/>
<rect x="1659.9" y="111.4" width="66.5" height="2.9"/>
<rect x="1659.9" y="108.5" width="74.8" height="2.9"/>
<rect x="1659.9" y="105.6" width="32.9" height="2.9"/>
<rect x="1659.9" y="102.8" width="100" height="2.9"/>
<rect x="1659.9" y="99.9" width="116.7" height="2.9"/>
<rect x="1659.9" y="97" width="158.6" height="2.9"/>
<rect x="1659.9" y="94.1" width="158.6" height="2.9"/>
<rect x="1659.9" y="91.3" width="175.4" height="2.9"/>
<rect x="1659.9" y="88.4" width="183.8" height="2.9"/>
<rect x="1659.9" y="85.5" width="83.2" height="2.9"/>
<rect x="1659.9" y="82.7" width="74.8" height="2.9"/>
<rect x="1659.9" y="79.8" width="41.3" height="2.9"/>
<rect x="1659.9" y="76.9" width="41.3" height="2.9"/>
<rect x="1659.9" y="74.1" width="32.9" height="2.9"/>
<rect x="1659.9" y="71.2" width="16.2" height="2.9"/>
<rect x="1659.9" y="59.7" width="7.8" height="2.9"/>
</g>
<g fill="rgba(0,114,189,0.20)" stroke="rgba(0,114,189,0.85)" stroke-width="1.2">
<rect x="1659.9" y="128.6" width="7.8" height="2.9"/>
<rect x="1659.9" y="125.7" width="24.5" height="2.9"/>
<rect x="1659.9" y="122.8" width="41.3" height="2.9"/>
<rect x="1659.9" y="120" width="24.5" height="2.9"/>
<rect x="1659.9" y="117.1" width="74.8" height="2.9"/>
<rect x="1659.9" y="114.2" width="83.2" height="2.9"/>
<rect x="1659.9" y="111.4" width="108.4" height="2.9"/>
<rect x="1659.9" y="108.5" width="167" height="2.9"/>
<rect x="1659.9" y="105.6" width="91.6" height="2.9"/>
<rect x="1659.9" y="102.8" width="125.1" height="2.9"/>
<rect x="1659.9" y="99.9" width="108.4" height="2.9"/>
<rect x="1659.9" y="97" width="225.7" height="2.9"/>
<rect x="1659.9" y="94.1" width="200.6" height="2.9"/>
<rect x="1659.9" y="91.3" width="74.8" height="2.9"/>
<rect x="1659.9" y="88.4" width="49.7" height="2.9"/>
<rect x="1659.9" y="85.5" width="7.8" height="2.9"/>
<rect x="1659.9" y="82.7" width="7.8" height="2.9"/>
<rect x="1659.9" y="79.8" width="32.9" height="2.9"/>
<rect x="1659.9" y="76.9" width="7.8" height="2.9"/>
<rect x="1659.9" y="74.1" width="7.8" height="2.9"/>
</g>
<g fill="rgba(0,100,0,0.25)" stroke="rgba(0,100,0,0.80)" stroke-width="1.2">
<rect x="1659.9" y="294.9" width="7.8" height="2.9"/>
<rect x="1659.9" y="286.3" width="7.8" height="2.9"/>
<rect x="1659.9" y="283.5" width="16.2" height="2.9"/>
<rect x="1659.9" y="249" width="24.5" height="2.9"/>
<rect x="1659.9" y="243.3" width="16.2" height="2.9"/>
<rect x="1659.9" y="240.4" width="24.5" height="2.9"/>
<rect x="1659.9" y="237.6" width="16.2" height="2.9"/>
<rect x="1659.9" y="234.7" width="32.9" height="2.9"/>
<rect x="1659.9" y="231.8" width="49.7" height="2.9"/>
<rect x="1659.9" y="229" width="49.7" height="2.9"/>
<rect x="1659.9" y="226.1" width="66.5" height="2.9"/>
<rect x="1659.9" y="223.2" width="66.5" height="2.9"/>
<rect x="1659.9" y="220.4" width="66.5" height="2.9"/>
<rect x="1659.9" y="217.5" width="108.4" height="2.9"/>
<rect x="1659.9" y="214.6" width="125.1" height="2.9"/>
<rect x="1659.9" y="211.8" width="83.2" height="2.9"/>
<rect x="1659.9" y="208.9" width="116.7" height="2.9"/>
<rect x="1659.9" y="206" width="74.8" height="2.9"/>
<rect x="1659.9" y="203.1" width="83.2" height="2.9"/>
<rect x="1659.9" y="200.3" width="49.7" height="2.9"/>
<rect x="1659.9" y="197.4" width="108.4" height="2.9"/>
<rect x="1659.9" y="194.5" width="49.7" height="2.9"/>
<rect x="1659.9" y="191.7" width="74.8" height="2.9"/>
<rect x="1659.9" y="188.8" width="41.3" height="2.9"/>
<rect x="1659.9" y="185.9" width="24.5" height="2.9"/>
<rect x="1659.9" y="183.1" width="32.9" height="2.9"/>
<rect x="1659.9" y="180.2" width="32.9" height="2.9"/>
<rect x="1659.9" y="174.5" width="7.8" height="2.9"/>
<rect x="1659.9" y="171.6" width="7.8" height="2.9"/>
</g>
<line x1="1659.3" y1="385.5" x2="1956" y2="385.5" stroke="rgb(204,0,0)" stroke-width="2.3"/>
<line x1="1659.3" y1="385.8" x2="1956" y2="385.8" stroke="rgb(0,114,189)" stroke-width="2.3"/>
<line x1="1659.3" y1="505.5" x2="1956" y2="505.5" stroke="rgb(0,100,0)" stroke-width="2.3"/>
<g fill="rgba(204,0,0,0.25)" stroke="rgba(204,0,0,0.80)" stroke-width="1.2">
<rect x="1659.9" y="469.9" width="7.8" height="2.9"/>
<rect x="1659.9" y="444.1" width="7.8" height="2.9"/>
<rect x="1659.9" y="429.8" width="7.8" height="2.9"/>
<rect x="1659.9" y="424" width="7.8" height="2.9"/>
<rect x="1659.9" y="409.7" width="24.5" height="2.9"/>
<rect x="1659.9" y="406.8" width="16.2" height="2.9"/>
<rect x="1659.9" y="403.9" width="7.8" height="2.9"/>
<rect x="1659.9" y="401.1" width="24.5" height="2.9"/>
<rect x="1659.9" y="398.2" width="66.5" height="2.9"/>
<rect x="1659.9" y="395.3" width="74.8" height="2.9"/>
<rect x="1659.9" y="392.5" width="32.9" height="2.9"/>
<rect x="1659.9" y="389.6" width="100" height="2.9"/>
<rect x="1659.9" y="386.7" width="116.7" height="2.9"/>
<rect x="1659.9" y="383.9" width="158.6" height="2.9"/>
<rect x="1659.9" y="381" width="158.6" height="2.9"/>
<rect x="1659.9" y="378.1" width="175.4" height="2.9"/>
<rect x="1659.9" y="375.3" width="183.8" height="2.9"/>
<rect x="1659.9" y="372.4" width="83.2" height="2.9"/>
<rect x="1659.9" y="369.5" width="74.8" height="2.9"/>
<rect x="1659.9" y="366.7" width="41.3" height="2.9"/>
<rect x="1659.9" y="363.8" width="41.3" height="2.9"/>
<rect x="1659.9" y="360.9" width="32.9" height="2.9"/>
<rect x="1659.9" y="358" width="16.2" height="2.9"/>
<rect x="1659.9" y="346.6" width="7.8" height="2.9"/>
</g>
<g fill="rgba(0,114,189,0.20)" stroke="rgba(0,114,189,0.85)" stroke-width="1.2">
<rect x="1659.9" y="406.8" width="16.2" height="2.9"/>
<rect x="1659.9" y="403.9" width="24.5" height="2.9"/>
<rect x="1659.9" y="401.1" width="32.9" height="2.9"/>
<rect x="1659.9" y="398.2" width="58.1" height="2.9"/>
<rect x="1659.9" y="395.3" width="74.8" height="2.9"/>
<rect x="1659.9" y="392.5" width="66.5" height="2.9"/>
<rect x="1659.9" y="389.6" width="208.9" height="2.9"/>
<rect x="1659.9" y="386.7" width="234.1" height="2.9"/>
<rect x="1659.9" y="383.9" width="292.7" height="2.9"/>
<rect x="1659.9" y="381" width="133.5" height="2.9"/>
<rect x="1659.9" y="378.1" width="125.1" height="2.9"/>
<rect x="1659.9" y="375.3" width="74.8" height="2.9"/>
<rect x="1659.9" y="372.4" width="32.9" height="2.9"/>
<rect x="1659.9" y="369.5" width="24.5" height="2.9"/>
<rect x="1659.9" y="366.7" width="41.3" height="2.9"/>
<rect x="1659.9" y="363.8" width="32.9" height="2.9"/>
</g>
<g fill="rgba(0,100,0,0.25)" stroke="rgba(0,100,0,0.80)" stroke-width="1.2">
<rect x="1659.9" y="590.4" width="7.8" height="2.9"/>
<rect x="1659.9" y="567.4" width="7.8" height="2.9"/>
<rect x="1659.9" y="541.6" width="7.8" height="2.9"/>
<rect x="1659.9" y="538.8" width="7.8" height="2.9"/>
<rect x="1659.9" y="535.9" width="16.2" height="2.9"/>
<rect x="1659.9" y="530.2" width="7.8" height="2.9"/>
<rect x="1659.9" y="527.3" width="16.2" height="2.9"/>
<rect x="1659.9" y="524.4" width="49.7" height="2.9"/>
<rect x="1659.9" y="521.6" width="58.1" height="2.9"/>
<rect x="1659.9" y="518.7" width="91.6" height="2.9"/>
<rect x="1659.9" y="515.8" width="41.3" height="2.9"/>
<rect x="1659.9" y="512.9" width="74.8" height="2.9"/>
<rect x="1659.9" y="510.1" width="49.7" height="2.9"/>
<rect x="1659.9" y="507.2" width="83.2" height="2.9"/>
<rect x="1659.9" y="504.3" width="133.5" height="2.9"/>
<rect x="1659.9" y="501.5" width="150.3" height="2.9"/>
<rect x="1659.9" y="498.6" width="158.6" height="2.9"/>
<rect x="1659.9" y="495.7" width="125.1" height="2.9"/>
<rect x="1659.9" y="492.9" width="108.4" height="2.9"/>
<rect x="1659.9" y="490" width="100" height="2.9"/>
<rect x="1659.9" y="487.1" width="41.3" height="2.9"/>
<rect x="1659.9" y="484.3" width="49.7" height="2.9"/>
<rect x="1659.9" y="481.4" width="24.5" height="2.9"/>
<rect x="1659.9" y="478.5" width="24.5" height="2.9"/>
<rect x="1659.9" y="475.7" width="24.5" height="2.9"/>
<rect x="1659.9" y="472.8" width="7.8" height="2.9"/>
</g>
<line x1="1659.3" y1="672.7" x2="1956" y2="672.7" stroke="rgb(204,0,0)" stroke-width="2.3"/>
<line x1="1659.3" y1="671" x2="1956" y2="671" stroke="rgb(0,114,189)" stroke-width="2.3"/>
<line x1="1659.3" y1="795.2" x2="1956" y2="795.2" stroke="rgb(0,100,0)" stroke-width="2.3"/>
<g fill="rgba(204,0,0,0.25)" stroke="rgba(204,0,0,0.80)" stroke-width="1.2">
<rect x="1659.9" y="756.8" width="7.8" height="2.9"/>
<rect x="1659.9" y="731" width="7.8" height="2.9"/>
<rect x="1659.9" y="716.6" width="7.8" height="2.9"/>
<rect x="1659.9" y="710.9" width="7.8" height="2.9"/>
<rect x="1659.9" y="696.5" width="24.5" height="2.9"/>
<rect x="1659.9" y="693.7" width="16.2" height="2.9"/>
<rect x="1659.9" y="690.8" width="7.8" height="2.9"/>
<rect x="1659.9" y="687.9" width="24.5" height="2.9"/>
<rect x="1659.9" y="685.1" width="66.5" height="2.9"/>
<rect x="1659.9" y="682.2" width="74.8" height="2.9"/>
<rect x="1659.9" y="679.3" width="32.9" height="2.9"/>
<rect x="1659.9" y="676.5" width="100" height="2.9"/>
<rect x="1659.9" y="673.6" width="116.7" height="2.9"/>
<rect x="1659.9" y="670.7" width="158.6" height="2.9"/>
<rect x="1659.9" y="667.8" width="158.6" height="2.9"/>
<rect x="1659.9" y="665" width="175.4" height="2.9"/>
<rect x="1659.9" y="662.1" width="183.8" height="2.9"/>
<rect x="1659.9" y="659.2" width="83.2" height="2.9"/>
<rect x="1659.9" y="656.4" width="74.8" height="2.9"/>
<rect x="1659.9" y="653.5" width="41.3" height="2.9"/>
<rect x="1659.9" y="650.6" width="41.3" height="2.9"/>
<rect x="1659.9" y="647.8" width="32.9" height="2.9"/>
<rect x="1659.9" y="644.9" width="16.2" height="2.9"/>
<rect x="1659.9" y="633.4" width="7.8" height="2.9"/>
</g>
<g fill="rgba(0,114,189,0.20)" stroke="rgba(0,114,189,0.85)" stroke-width="1.2">
<rect x="1659.9" y="687.9" width="16.2" height="2.9"/>
<rect x="1659.9" y="685.1" width="158.6" height="2.9"/>
<rect x="1659.9" y="682.2" width="49.7" height="2.9"/>
<rect x="1659.9" y="679.3" width="158.6" height="2.9"/>
<rect x="1659.9" y="676.5" width="66.5" height="2.9"/>
<rect x="1659.9" y="673.6" width="125.1" height="2.9"/>
<rect x="1659.9" y="670.7" width="133.5" height="2.9"/>
<rect x="1659.9" y="667.8" width="167" height="2.9"/>
<rect x="1659.9" y="665" width="183.8" height="2.9"/>
<rect x="1659.9" y="662.1" width="100" height="2.9"/>
<rect x="1659.9" y="659.2" width="125.1" height="2.9"/>
<rect x="1659.9" y="656.4" width="49.7" height="2.9"/>
<rect x="1659.9" y="653.5" width="41.3" height="2.9"/>
<rect x="1659.9" y="650.6" width="16.2" height="2.9"/>
<rect x="1659.9" y="647.8" width="16.2" height="2.9"/>
<rect x="1659.9" y="644.9" width="7.8" height="2.9"/>
<rect x="1659.9" y="642" width="24.5" height="2.9"/>
<rect x="1659.9" y="636.3" width="7.8" height="2.9"/>
<rect x="1659.9" y="624.8" width="16.2" height="2.9"/>
<rect x="1659.9" y="619.1" width="7.8" height="2.9"/>
</g>
<g fill="rgba(0,100,0,0.25)" stroke="rgba(0,100,0,0.80)" stroke-width="1.2">
<rect x="1659.9" y="883" width="7.8" height="2.9"/>
<rect x="1659.9" y="851.4" width="7.8" height="2.9"/>
<rect x="1659.9" y="840" width="7.8" height="2.9"/>
<rect x="1659.9" y="834.2" width="16.2" height="2.9"/>
<rect x="1659.9" y="831.4" width="7.8" height="2.9"/>
<rect x="1659.9" y="828.5" width="7.8" height="2.9"/>
<rect x="1659.9" y="825.6" width="32.9" height="2.9"/>
<rect x="1659.9" y="822.7" width="7.8" height="2.9"/>
<rect x="1659.9" y="819.9" width="7.8" height="2.9"/>
<rect x="1659.9" y="817" width="24.5" height="2.9"/>
<rect x="1659.9" y="814.1" width="24.5" height="2.9"/>
<rect x="1659.9" y="811.3" width="41.3" height="2.9"/>
<rect x="1659.9" y="808.4" width="24.5" height="2.9"/>
<rect x="1659.9" y="805.5" width="83.2" height="2.9"/>
<rect x="1659.9" y="802.7" width="49.7" height="2.9"/>
<rect x="1659.9" y="799.8" width="91.6" height="2.9"/>
<rect x="1659.9" y="796.9" width="91.6" height="2.9"/>
<rect x="1659.9" y="794.1" width="108.4" height="2.9"/>
<rect x="1659.9" y="791.2" width="133.5" height="2.9"/>
<rect x="1659.9" y="788.3" width="158.6" height="2.9"/>
<rect x="1659.9" y="785.5" width="150.3" height="2.9"/>
<rect x="1659.9" y="782.6" width="74.8" height="2.9"/>
<rect x="1659.9" y="779.7" width="74.8" height="2.9"/>
<rect x="1659.9" y="776.8" width="100" height="2.9"/>
<rect x="1659.9" y="774" width="83.2" height="2.9"/>
<rect x="1659.9" y="771.1" width="32.9" height="2.9"/>
<rect x="1659.9" y="768.2" width="7.8" height="2.9"/>
<rect x="1659.9" y="753.9" width="7.8" height="2.9"/>
</g>
<g stroke="#262626" stroke-width="1.4" fill="none">
<rect x="72.6" y="19.6" width="1439.8" height="889.2"/>
<line x1="153.5" y1="19.6" x2="153.5" y2="28.9"/>
<line x1="153.5" y1="908.8" x2="153.5" y2="899.5"/>
<line x1="234.4" y1="19.6" x2="234.4" y2="28.9"/>
<line x1="234.4" y1="908.8" x2="234.4" y2="899.5"/>
<line x1="315.3" y1="19.6" x2="315.3" y2="28.9"/>
<line x1="315.3" y1="908.8" x2="315.3" y2="899.5"/>
<line x1="396.2" y1="19.6" x2="396.2" y2="28.9"/>
<line x1="396.2" y1="908.8" x2="396.2" y2="899.5"/>
<line x1="477.1" y1="19.6" x2="477.1" y2="28.9"/>
<line x1="477.1" y1="908.8" x2="477.1" y2="899.5"/>
<line x1="557.9" y1="19.6" x2="557.9" y2="28.9"/>
<line x1="557.9" y1="908.8" x2="557.9" y2="899.5"/>
<line x1="638.8" y1="19.6" x2="638.8" y2="28.9"/>
<line x1="638.8" y1="908.8" x2="638.8" y2="899.5"/>
<line x1="719.7" y1="19.6" x2="719.7" y2="28.9"/>
<line x1="719.7" y1="908.8" x2="719.7" y2="899.5"/>
<line x1="800.6" y1="19.6" x2="800.6" y2="28.9"/>
<line x1="800.6" y1="908.8" x2="800.6" y2="899.5"/>
<line x1="881.5" y1="19.6" x2="881.5" y2="28.9"/>
<line x1="881.5" y1="908.8" x2="881.5" y2="899.5"/>
<line x1="962.4" y1="19.6" x2="962.4" y2="28.9"/>
<line x1="962.4" y1="908.8" x2="962.4" y2="899.5"/>
<line x1="1043.3" y1="19.6" x2="1043.3" y2="28.9"/>
<line x1="1043.3" y1="908.8" x2="1043.3" y2="899.5"/>
<line x1="1124.2" y1="19.6" x2="1124.2" y2="28.9"/>
<line x1="1124.2" y1="908.8" x2="1124.2" y2="899.5"/>
<line x1="1205.1" y1="19.6" x2="1205.1" y2="28.9"/>
<line x1="1205.1" y1="908.8" x2="1205.1" y2="899.5"/>
<line x1="1286" y1="19.6" x2="1286" y2="28.9"/>
<line x1="1286" y1="908.8" x2="1286" y2="899.5"/>
<line x1="1366.8" y1="19.6" x2="1366.8" y2="28.9"/>
<line x1="1366.8" y1="908.8" x2="1366.8" y2="899.5"/>
<line x1="1447.7" y1="19.6" x2="1447.7" y2="28.9"/>
<line x1="1447.7" y1="908.8" x2="1447.7" y2="899.5"/>
<line x1="72.6" y1="880.1" x2="81.9" y2="880.1"/>
<line x1="1512.4" y1="880.1" x2="1503.1" y2="880.1"/>
<line x1="1659.3" y1="880.1" x2="1664.7" y2="880.1"/>
<line x1="1956" y1="880.1" x2="1950.6" y2="880.1"/>
<line x1="72.6" y1="851.4" x2="81.9" y2="851.4"/>
<line x1="1512.4" y1="851.4" x2="1503.1" y2="851.4"/>
<line x1="1659.3" y1="851.4" x2="1664.7" y2="851.4"/>
<line x1="1956" y1="851.4" x2="1950.6" y2="851.4"/>
<line x1="72.6" y1="822.7" x2="81.9" y2="822.7"/>
<line x1="1512.4" y1="822.7" x2="1503.1" y2="822.7"/>
<line x1="1659.3" y1="822.7" x2="1664.7" y2="822.7"/>
<line x1="1956" y1="822.7" x2="1950.6" y2="822.7"/>
<line x1="72.6" y1="794.1" x2="81.9" y2="794.1"/>
<line x1="1512.4" y1="794.1" x2="1503.1" y2="794.1"/>
<line x1="1659.3" y1="794.1" x2="1664.7" y2="794.1"/>
<line x1="1956" y1="794.1" x2="1950.6" y2="794.1"/>
<line x1="72.6" y1="765.4" x2="81.9" y2="765.4"/>
<line x1="1512.4" y1="765.4" x2="1503.1" y2="765.4"/>
<line x1="1659.3" y1="765.4" x2="1664.7" y2="765.4"/>
<line x1="1956" y1="765.4" x2="1950.6" y2="765.4"/>
<line x1="72.6" y1="736.7" x2="81.9" y2="736.7"/>
<line x1="1512.4" y1="736.7" x2="1503.1" y2="736.7"/>
<line x1="1659.3" y1="736.7" x2="1664.7" y2="736.7"/>
<line x1="1956" y1="736.7" x2="1950.6" y2="736.7"/>
<line x1="72.6" y1="708" x2="81.9" y2="708"/>
<line x1="1512.4" y1="708" x2="1503.1" y2="708"/>
<line x1="1659.3" y1="708" x2="1664.7" y2="708"/>
<line x1="1956" y1="708" x2="1950.6" y2="708"/>
<line x1="72.6" y1="679.3" x2="81.9" y2="679.3"/>
<line x1="1512.4" y1="679.3" x2="1503.1" y2="679.3"/>
<line x1="1659.3" y1="679.3" x2="1664.7" y2="679.3"/>
<line x1="1956" y1="679.3" x2="1950.6" y2="679.3"/>
<line x1="72.6" y1="650.6" x2="81.9" y2="650.6"/>
<line x1="1512.4" y1="650.6" x2="1503.1" y2="650.6"/>
<line x1="1659.3" y1="650.6" x2="1664.7" y2="650.6"/>
<line x1="1956" y1="650.6" x2="1950.6" y2="650.6"/>
<line x1="72.6" y1="622" x2="81.9" y2="622"/>
<line x1="1512.4" y1="622" x2="1503.1" y2="622"/>
<line x1="1659.3" y1="622" x2="1664.7" y2="622"/>
<line x1="1956" y1="622" x2="1950.6" y2="622"/>
<line x1="72.6" y1="593.3" x2="81.9" y2="593.3"/>
<line x1="1512.4" y1="593.3" x2="1503.1" y2="593.3"/>
<line x1="1659.3" y1="593.3" x2="1664.7" y2="593.3"/>
<line x1="1956" y1="593.3" x2="1950.6" y2="593.3"/>
<line x1="72.6" y1="564.6" x2="81.9" y2="564.6"/>
<line x1="1512.4" y1="564.6" x2="1503.1" y2="564.6"/>
<line x1="1659.3" y1="564.6" x2="1664.7" y2="564.6"/>
<line x1="1956" y1="564.6" x2="1950.6" y2="564.6"/>
<line x1="72.6" y1="535.9" x2="81.9" y2="535.9"/>
<line x1="1512.4" y1="535.9" x2="1503.1" y2="535.9"/>
<line x1="1659.3" y1="535.9" x2="1664.7" y2="535.9"/>
<line x1="1956" y1="535.9" x2="1950.6" y2="535.9"/>
<line x1="72.6" y1="507.2" x2="81.9" y2="507.2"/>
<line x1="1512.4" y1="507.2" x2="1503.1" y2="507.2"/>
<line x1="1659.3" y1="507.2" x2="1664.7" y2="507.2"/>
<line x1="1956" y1="507.2" x2="1950.6" y2="507.2"/>
<line x1="72.6" y1="478.5" x2="81.9" y2="478.5"/>
<line x1="1512.4" y1="478.5" x2="1503.1" y2="478.5"/>
<line x1="1659.3" y1="478.5" x2="1664.7" y2="478.5"/>
<line x1="1956" y1="478.5" x2="1950.6" y2="478.5"/>
<line x1="72.6" y1="449.8" x2="81.9" y2="449.8"/>
<line x1="1512.4" y1="449.8" x2="1503.1" y2="449.8"/>
<line x1="1659.3" y1="449.8" x2="1664.7" y2="449.8"/>
<line x1="1956" y1="449.8" x2="1950.6" y2="449.8"/>
<line x1="72.6" y1="421.2" x2="81.9" y2="421.2"/>
<line x1="1512.4" y1="421.2" x2="1503.1" y2="421.2"/>
<line x1="1659.3" y1="421.2" x2="1664.7" y2="421.2"/>
<line x1="1956" y1="421.2" x2="1950.6" y2="421.2"/>
<line x1="72.6" y1="392.5" x2="81.9" y2="392.5"/>
<line x1="1512.4" y1="392.5" x2="1503.1" y2="392.5"/>
<line x1="1659.3" y1="392.5" x2="1664.7" y2="392.5"/>
<line x1="1956" y1="392.5" x2="1950.6" y2="392.5"/>
<line x1="72.6" y1="363.8" x2="81.9" y2="363.8"/>
<line x1="1512.4" y1="363.8" x2="1503.1" y2="363.8"/>
<line x1="1659.3" y1="363.8" x2="1664.7" y2="363.8"/>
<line x1="1956" y1="363.8" x2="1950.6" y2="363.8"/>
<line x1="72.6" y1="335.1" x2="81.9" y2="335.1"/>
<line x1="1512.4" y1="335.1" x2="1503.1" y2="335.1"/>
<line x1="1659.3" y1="335.1" x2="1664.7" y2="335.1"/>
<line x1="1956" y1="335.1" x2="1950.6" y2="335.1"/>
<line x1="72.6" y1="306.4" x2="81.9" y2="306.4"/>
<line x1="1512.4" y1="306.4" x2="1503.1" y2="306.4"/>
<line x1="1659.3" y1="306.4" x2="1664.7" y2="306.4"/>
<line x1="1956" y1="306.4" x2="1950.6" y2="306.4"/>
<line x1="72.6" y1="277.7" x2="81.9" y2="277.7"/>
<line x1="1512.4" y1="277.7" x2="1503.1" y2="277.7"/>
<line x1="1659.3" y1="277.7" x2="1664.7" y2="277.7"/>
<line x1="1956" y1="277.7" x2="1950.6" y2="277.7"/>
<line x1="72.6" y1="249" x2="81.9" y2="249"/>
<line x1="1512.4" y1="249" x2="1503.1" y2="249"/>
<line x1="1659.3" y1="249" x2="1664.7" y2="249"/>
<line x1="1956" y1="249" x2="1950.6" y2="249"/>
<line x1="72.6" y1="220.4" x2="81.9" y2="220.4"/>
<line x1="1512.4" y1="220.4" x2="1503.1" y2="220.4"/>
<line x1="1659.3" y1="220.4" x2="1664.7" y2="220.4"/>
<line x1="1956" y1="220.4" x2="1950.6" y2="220.4"/>
<line x1="72.6" y1="191.7" x2="81.9" y2="191.7"/>
<line x1="1512.4" y1="191.7" x2="1503.1" y2="191.7"/>
<line x1="1659.3" y1="191.7" x2="1664.7" y2="191.7"/>
<line x1="1956" y1="191.7" x2="1950.6" y2="191.7"/>
<line x1="72.6" y1="163" x2="81.9" y2="163"/>
<line x1="1512.4" y1="163" x2="1503.1" y2="163"/>
<line x1="1659.3" y1="163" x2="1664.7" y2="163"/>
<line x1="1956" y1="163" x2="1950.6" y2="163"/>
<line x1="72.6" y1="134.3" x2="81.9" y2="134.3"/>
<line x1="1512.4" y1="134.3" x2="1503.1" y2="134.3"/>
<line x1="1659.3" y1="134.3" x2="1664.7" y2="134.3"/>
<line x1="1956" y1="134.3" x2="1950.6" y2="134.3"/>
<line x1="72.6" y1="105.6" x2="81.9" y2="105.6"/>
<line x1="1512.4" y1="105.6" x2="1503.1" y2="105.6"/>
<line x1="1659.3" y1="105.6" x2="1664.7" y2="105.6"/>
<line x1="1956" y1="105.6" x2="1950.6" y2="105.6"/>
<line x1="72.6" y1="76.9" x2="81.9" y2="76.9"/>
<line x1="1512.4" y1="76.9" x2="1503.1" y2="76.9"/>
<line x1="1659.3" y1="76.9" x2="1664.7" y2="76.9"/>
<line x1="1956" y1="76.9" x2="1950.6" y2="76.9"/>
<line x1="72.6" y1="48.2" x2="81.9" y2="48.2"/>
<line x1="1512.4" y1="48.2" x2="1503.1" y2="48.2"/>
<line x1="1659.3" y1="48.2" x2="1664.7" y2="48.2"/>
<line x1="1956" y1="48.2" x2="1950.6" y2="48.2"/>
<rect x="1659.3" y="19.6" width="296.7" height="889.2"/>
<line x1="1733.5" y1="19.6" x2="1733.5" y2="25"/>
<line x1="1733.5" y1="908.8" x2="1733.5" y2="903.4"/>
<line x1="1807.7" y1="19.6" x2="1807.7" y2="25"/>
<line x1="1807.7" y1="908.8" x2="1807.7" y2="903.4"/>
<line x1="1881.8" y1="19.6" x2="1881.8" y2="25"/>
<line x1="1881.8" y1="908.8" x2="1881.8" y2="903.4"/>
</g>
<text x="151.2" y="932" font-size="16.85" text-anchor="middle" font-weight="normal" fill="#262626">10</text>
<text x="232.1" y="932" font-size="16.85" text-anchor="middle" font-weight="normal" fill="#262626">20</text>
<text x="313" y="932" font-size="16.85" text-anchor="middle" font-weight="normal" fill="#262626">30</text>
<text x="393.9" y="932" font-size="16.85" text-anchor="middle" font-weight="normal" fill="#262626">40</text>
<text x="474.8" y="932" font-size="16.85" text-anchor="middle" font-weight="normal" fill="#262626">50</text>
<text x="555.6" y="932" font-size="16.85" text-anchor="middle" font-weight="normal" fill="#262626">60</text>
<text x="636.5" y="932" font-size="16.85" text-anchor="middle" font-weight="normal" fill="#262626">70</text>
<text x="717.4" y="932" font-size="16.85" text-anchor="middle" font-weight="normal" fill="#262626">80</text>
<text x="798.3" y="932" font-size="16.85" text-anchor="middle" font-weight="normal" fill="#262626">90</text>
<text x="881.5" y="932" font-size="16.85" text-anchor="middle" font-weight="normal" fill="#262626">100</text>
<text x="962.4" y="932" font-size="16.85" text-anchor="middle" font-weight="normal" fill="#262626">110</text>
<text x="1043.3" y="932" font-size="16.85" text-anchor="middle" font-weight="normal" fill="#262626">120</text>
<text x="1124.2" y="932" font-size="16.85" text-anchor="middle" font-weight="normal" fill="#262626">130</text>
<text x="1205.1" y="932" font-size="16.85" text-anchor="middle" font-weight="normal" fill="#262626">140</text>
<text x="1286" y="932" font-size="16.85" text-anchor="middle" font-weight="normal" fill="#262626">150</text>
<text x="1366.8" y="932" font-size="16.85" text-anchor="middle" font-weight="normal" fill="#262626">160</text>
<text x="1447.7" y="932" font-size="16.85" text-anchor="middle" font-weight="normal" fill="#262626">170</text>
<text x="1657" y="932" font-size="16.85" text-anchor="middle" font-weight="normal" fill="#262626">0</text>
<text x="1731.2" y="932" font-size="16.85" text-anchor="middle" font-weight="normal" fill="#262626">5</text>
<text x="1807.7" y="932" font-size="16.85" text-anchor="middle" font-weight="normal" fill="#262626">10</text>
<text x="1881.8" y="932" font-size="16.85" text-anchor="middle" font-weight="normal" fill="#262626">15</text>
<text x="1956" y="932" font-size="16.85" text-anchor="middle" font-weight="normal" fill="#262626">20</text>
<text x="66.1" y="169.8" font-size="16.85" text-anchor="end" font-weight="normal" fill="#262626">0.5</text>
<text x="1518.3" y="55.1" font-size="16.85" text-anchor="start" font-weight="normal" fill="#262626">0.5</text>
<text x="1652.8" y="169.8" font-size="16.85" text-anchor="end" font-weight="normal" fill="#262626">0.5</text>
<text x="1961.9" y="55.1" font-size="16.85" text-anchor="start" font-weight="normal" fill="#262626">0.5</text>
<text x="66.1" y="227.2" font-size="16.85" text-anchor="end" font-weight="normal" fill="#262626">0</text>
<text x="1518.3" y="112.5" font-size="16.85" text-anchor="start" font-weight="normal" fill="#262626">0</text>
<text x="1652.8" y="227.2" font-size="16.85" text-anchor="end" font-weight="normal" fill="#262626">0</text>
<text x="1961.9" y="112.5" font-size="16.85" text-anchor="start" font-weight="normal" fill="#262626">0</text>
<text x="66.1" y="284.6" font-size="16.85" text-anchor="end" font-weight="normal" fill="#262626">-0.5</text>
<text x="1518.3" y="169.8" font-size="16.85" text-anchor="start" font-weight="normal" fill="#262626">-0.5</text>
<text x="1652.8" y="284.6" font-size="16.85" text-anchor="end" font-weight="normal" fill="#262626">-0.5</text>
<text x="1961.9" y="169.8" font-size="16.85" text-anchor="start" font-weight="normal" fill="#262626">-0.5</text>
<text x="66.1" y="456.7" font-size="16.85" text-anchor="end" font-weight="normal" fill="#262626">0.5</text>
<text x="1518.3" y="341.9" font-size="16.85" text-anchor="start" font-weight="normal" fill="#262626">0.5</text>
<text x="1652.8" y="456.7" font-size="16.85" text-anchor="end" font-weight="normal" fill="#262626">0.5</text>
<text x="1961.9" y="341.9" font-size="16.85" text-anchor="start" font-weight="normal" fill="#262626">0.5</text>
<text x="66.1" y="514.1" font-size="16.85" text-anchor="end" font-weight="normal" fill="#262626">0</text>
<text x="1518.3" y="399.3" font-size="16.85" text-anchor="start" font-weight="normal" fill="#262626">0</text>
<text x="1652.8" y="514.1" font-size="16.85" text-anchor="end" font-weight="normal" fill="#262626">0</text>
<text x="1961.9" y="399.3" font-size="16.85" text-anchor="start" font-weight="normal" fill="#262626">0</text>
<text x="66.1" y="571.4" font-size="16.85" text-anchor="end" font-weight="normal" fill="#262626">-0.5</text>
<text x="1518.3" y="456.7" font-size="16.85" text-anchor="start" font-weight="normal" fill="#262626">-0.5</text>
<text x="1652.8" y="571.4" font-size="16.85" text-anchor="end" font-weight="normal" fill="#262626">-0.5</text>
<text x="1961.9" y="456.7" font-size="16.85" text-anchor="start" font-weight="normal" fill="#262626">-0.5</text>
<text x="66.1" y="743.5" font-size="16.85" text-anchor="end" font-weight="normal" fill="#262626">0.5</text>
<text x="1518.3" y="628.8" font-size="16.85" text-anchor="start" font-weight="normal" fill="#262626">0.5</text>
<text x="1652.8" y="743.5" font-size="16.85" text-anchor="end" font-weight="normal" fill="#262626">0.5</text>
<text x="1961.9" y="628.8" font-size="16.85" text-anchor="start" font-weight="normal" fill="#262626">0.5</text>
<text x="66.1" y="800.9" font-size="16.85" text-anchor="end" font-weight="normal" fill="#262626">0</text>
<text x="1518.3" y="686.2" font-size="16.85" text-anchor="start" font-weight="normal" fill="#262626">0</text>
<text x="1652.8" y="800.9" font-size="16.85" text-anchor="end" font-weight="normal" fill="#262626">0</text>
<text x="1961.9" y="686.2" font-size="16.85" text-anchor="start" font-weight="normal" fill="#262626">0</text>
<text x="66.1" y="858.3" font-size="16.85" text-anchor="end" font-weight="normal" fill="#262626">-0.5</text>
<text x="1518.3" y="743.5" font-size="16.85" text-anchor="start" font-weight="normal" fill="#262626">-0.5</text>
<text x="1652.8" y="858.3" font-size="16.85" text-anchor="end" font-weight="normal" fill="#262626">-0.5</text>
<text x="1961.9" y="743.5" font-size="16.85" text-anchor="start" font-weight="normal" fill="#262626">-0.5</text>
<text x="792.5" y="955.6" font-size="18.6" text-anchor="middle" font-weight="normal" fill="#262626">Tide gauge ID number</text>
<text x="1807.7" y="955.6" font-size="18.6" text-anchor="middle" font-weight="normal" fill="#262626">Percentage [%]</text>
<text transform="translate(28,465) rotate(-90)" font-size="18.6" text-anchor="middle" fill="#262626">Sea level acceleration [mm yr<tspan font-size="15.5" dy="-8.3">-2</tspan><tspan dy="8.3">]</tspan></text>
<text transform="translate(1615,465) rotate(-90)" font-size="18.6" text-anchor="middle" fill="#262626">Sea level acceleration [mm yr<tspan font-size="15.5" dy="-8.3">-2</tspan><tspan dy="8.3">]</tspan></text>
<text x="195.4" y="12.9" font-size="16.85" text-anchor="middle" font-weight="bold" fill="#000">Asia</text>
<text x="388.2" y="12.9" font-size="16.85" text-anchor="middle" font-weight="bold" fill="#000">Oceania</text>
<text x="529" y="12.9" font-size="16.85" text-anchor="middle" font-weight="bold" fill="#000">CP</text>
<text x="755" y="12.9" font-size="16.85" text-anchor="middle" font-weight="bold" fill="#000">EP</text>
<text x="1081.4" y="12.9" font-size="16.85" text-anchor="middle" font-weight="bold" fill="#000">WA</text>
<text x="1379" y="12.9" font-size="16.85" text-anchor="middle" font-weight="bold" fill="#000">EA</text>
<text x="0" y="12.9" font-size="16.85" text-anchor="start" font-weight="bold" fill="#000">a</text>
<text x="1586" y="12.9" font-size="16.85" text-anchor="start" font-weight="bold" fill="#000">b</text>
<text x="88.9" y="49.4" font-size="16.85" text-anchor="start" font-weight="bold" fill="#000">AR5 RCP2.6</text>
<text x="88.9" y="336.2" font-size="16.85" text-anchor="start" font-weight="bold" fill="#000">AR5 RCP4.5</text>
<text x="88.9" y="623.1" font-size="16.85" text-anchor="start" font-weight="bold" fill="#000">AR5 RCP8.5</text>
<rect x="1310.5" y="838.9" width="27.7" height="11.1" fill="rgba(204,0,0,0.25)" stroke="rgba(204,0,0,0.80)" stroke-width="1.3"/>
<text x="1351" y="850.1" font-size="16.85" text-anchor="start" font-weight="bold" fill="rgb(204,0,0)">TG</text>
<rect x="1310.5" y="859.6" width="27.7" height="11.1" fill="rgba(0,114,189,0.20)" stroke="rgba(0,114,189,0.85)" stroke-width="1.3"/>
<text x="1351" y="870.8" font-size="16.85" text-anchor="start" font-weight="bold" fill="rgb(0,114,189)">AR5</text>
<rect x="1310.5" y="880.2" width="27.7" height="11.1" fill="rgba(0,100,0,0.25)" stroke="rgba(0,100,0,0.80)" stroke-width="1.3"/>
<text x="1351" y="891.4" font-size="16.85" text-anchor="start" font-weight="bold" fill="rgb(0,100,0)">Diff (TG-AR5)</text>
<text x="1838.4" y="191.9" font-size="16.85" font-weight="bold" fill="rgb(0,100,0)"><tspan font-style="italic" font-weight="bold" font-family="'Liberation Serif', 'DejaVu Serif', serif" font-size="18.3">μ</tspan> <tspan x="1853.2">= 0.042</tspan></text>
<text x="1838.4" y="209.1" font-size="16.85" font-weight="bold" fill="rgb(0,100,0)"><tspan font-style="italic" font-weight="bold" font-family="'Liberation Serif', 'DejaVu Serif', serif" font-size="18.3">σ</tspan> <tspan x="1852.9">= 0.171</tspan></text>
<text x="1838.4" y="483.5" font-size="16.85" font-weight="bold" fill="rgb(0,100,0)"><tspan font-style="italic" font-weight="bold" font-family="'Liberation Serif', 'DejaVu Serif', serif" font-size="18.3">μ</tspan> <tspan x="1853.2">= 0.010</tspan></text>
<text x="1838.4" y="500.6" font-size="16.85" font-weight="bold" fill="rgb(0,100,0)"><tspan font-style="italic" font-weight="bold" font-family="'Liberation Serif', 'DejaVu Serif', serif" font-size="18.3">σ</tspan> <tspan x="1852.9">= 0.136</tspan></text>
<text x="1838.4" y="773.4" font-size="16.85" font-weight="bold" fill="rgb(0,100,0)"><tspan font-style="italic" font-weight="bold" font-family="'Liberation Serif', 'DejaVu Serif', serif" font-size="18.3">μ</tspan> <tspan x="1853.2">= -0.010</tspan></text>
<text x="1838.4" y="790.5" font-size="16.85" font-weight="bold" fill="rgb(0,100,0)"><tspan font-style="italic" font-weight="bold" font-family="'Liberation Serif', 'DejaVu Serif', serif" font-size="18.3">σ</tspan> <tspan x="1852.9">= 0.145</tspan></text>
</svg>
</body></html>
